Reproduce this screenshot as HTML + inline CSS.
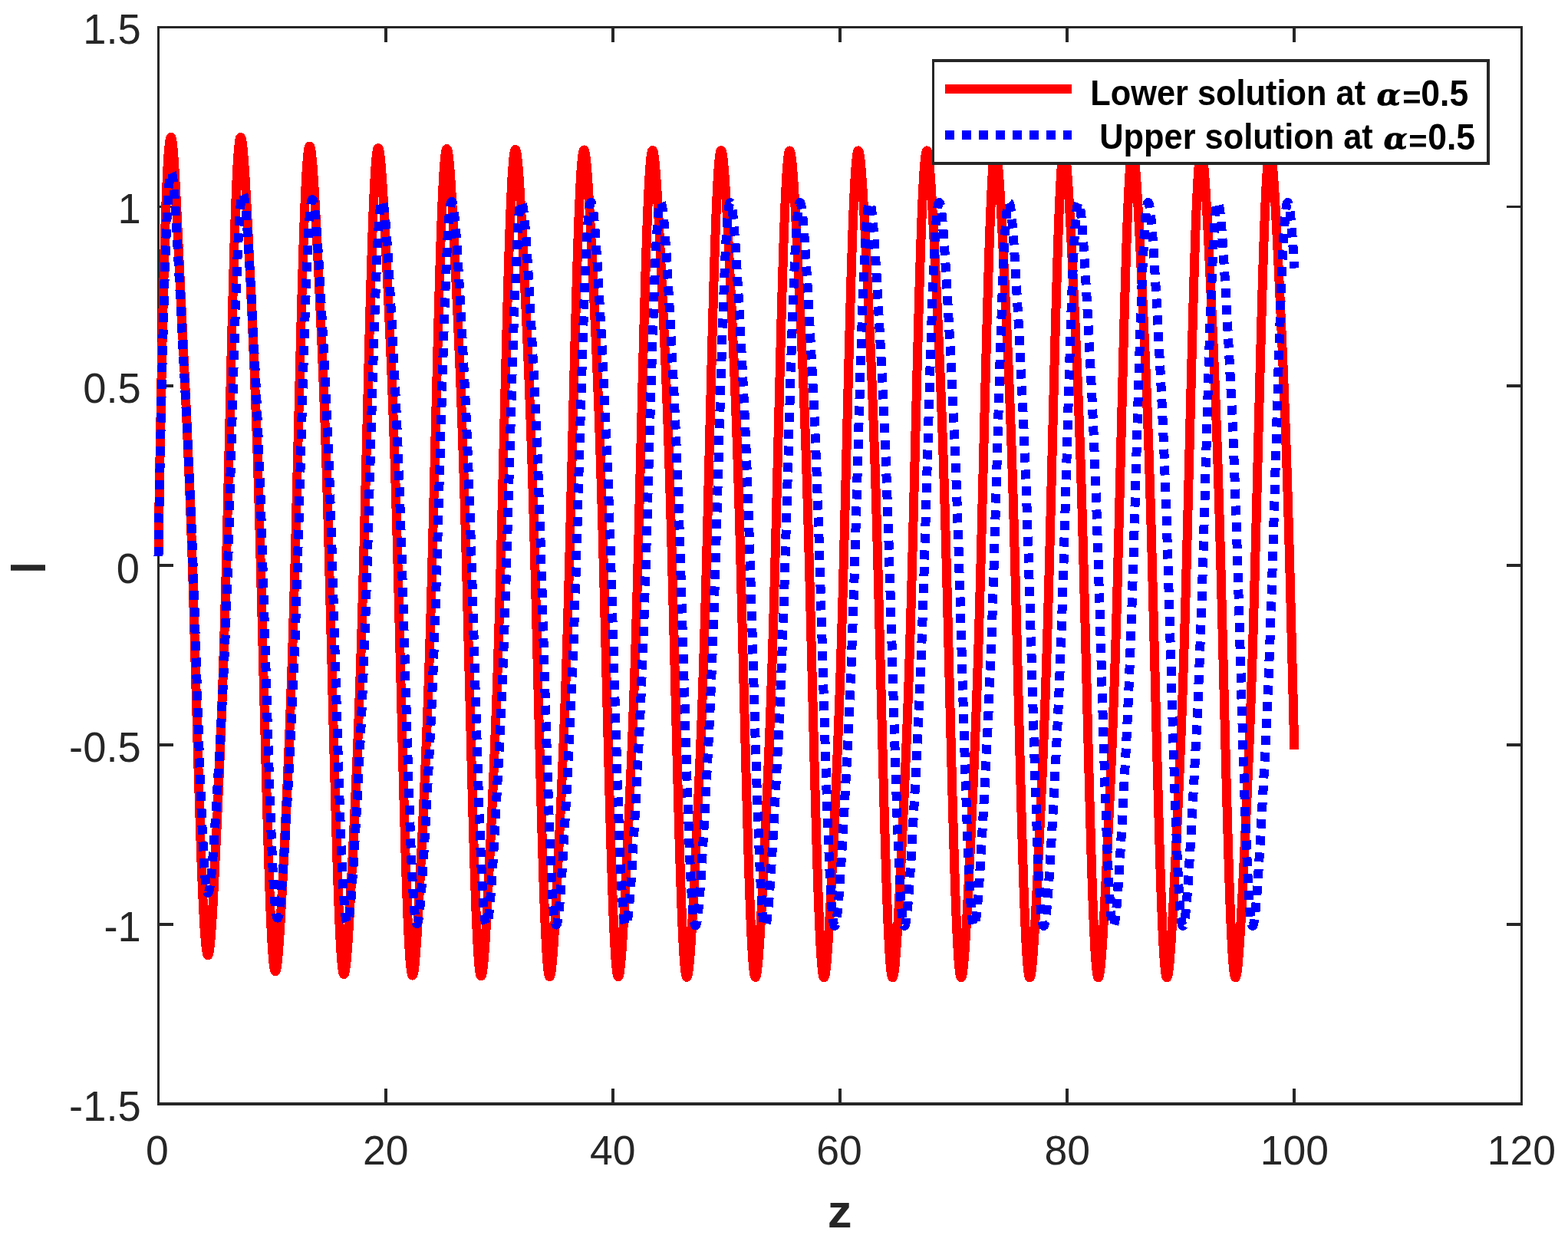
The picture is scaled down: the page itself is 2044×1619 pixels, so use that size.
<!DOCTYPE html>
<html lang="en">
<head>
<meta charset="utf-8">
<title>Lower and upper solutions at alpha = 0.5</title>
<style>
html, body { margin: 0; padding: 0; background: #ffffff; }
body { width: 2044px; height: 1619px; overflow: hidden; }
svg { display: block; }
</style>
</head>
<body>
<svg width="2044" height="1619" viewBox="0 0 2044 1619">
<rect x="0" y="0" width="2044" height="1619" fill="#ffffff"/>
<g shape-rendering="crispEdges">
<rect x="205" y="34" width="1780" height="3" fill="#262626"/>
<rect x="205" y="1437" width="1780" height="4" fill="#262626"/>
<rect x="205" y="34" width="3" height="1407" fill="#262626"/>
<rect x="1982" y="34" width="3" height="1407" fill="#262626"/>
<rect x="501" y="1419" width="4" height="18" fill="#262626"/>
<rect x="501" y="37" width="4" height="18" fill="#262626"/>
<rect x="797" y="1419" width="4" height="18" fill="#262626"/>
<rect x="797" y="37" width="4" height="18" fill="#262626"/>
<rect x="1093" y="1419" width="4" height="18" fill="#262626"/>
<rect x="1093" y="37" width="4" height="18" fill="#262626"/>
<rect x="1389" y="1419" width="4" height="18" fill="#262626"/>
<rect x="1389" y="37" width="4" height="18" fill="#262626"/>
<rect x="1685" y="1419" width="4" height="18" fill="#262626"/>
<rect x="1685" y="37" width="4" height="18" fill="#262626"/>
<rect x="208" y="1203" width="18" height="4" fill="#262626"/>
<rect x="1964" y="1203" width="18" height="4" fill="#262626"/>
<rect x="208" y="969" width="18" height="4" fill="#262626"/>
<rect x="1964" y="969" width="18" height="4" fill="#262626"/>
<rect x="208" y="735" width="18" height="4" fill="#262626"/>
<rect x="1964" y="735" width="18" height="4" fill="#262626"/>
<rect x="208" y="501" width="18" height="4" fill="#262626"/>
<rect x="1964" y="501" width="18" height="4" fill="#262626"/>
<rect x="208" y="268" width="18" height="3" fill="#262626"/>
<rect x="1964" y="268" width="18" height="3" fill="#262626"/>
</g>
<text transform="translate(204.80 1517.80) scale(0.9800 1)" font-family="'Liberation Sans', Arial, Helvetica, sans-serif" font-size="54.60" font-weight="normal" font-style="normal" fill="#262626" text-anchor="middle">0</text>
<text transform="translate(502.67 1517.80) scale(0.9800 1)" font-family="'Liberation Sans', Arial, Helvetica, sans-serif" font-size="54.60" font-weight="normal" font-style="normal" fill="#262626" text-anchor="middle">20</text>
<text transform="translate(798.83 1517.80) scale(0.9800 1)" font-family="'Liberation Sans', Arial, Helvetica, sans-serif" font-size="54.60" font-weight="normal" font-style="normal" fill="#262626" text-anchor="middle">40</text>
<text transform="translate(1094.00 1517.80) scale(0.9800 1)" font-family="'Liberation Sans', Arial, Helvetica, sans-serif" font-size="54.60" font-weight="normal" font-style="normal" fill="#262626" text-anchor="middle">60</text>
<text transform="translate(1391.17 1517.80) scale(0.9800 1)" font-family="'Liberation Sans', Arial, Helvetica, sans-serif" font-size="54.60" font-weight="normal" font-style="normal" fill="#262626" text-anchor="middle">80</text>
<text transform="translate(1687.33 1517.80) scale(0.9800 1)" font-family="'Liberation Sans', Arial, Helvetica, sans-serif" font-size="54.60" font-weight="normal" font-style="normal" fill="#262626" text-anchor="middle">100</text>
<text transform="translate(1983.50 1517.80) scale(0.9800 1)" font-family="'Liberation Sans', Arial, Helvetica, sans-serif" font-size="54.60" font-weight="normal" font-style="normal" fill="#262626" text-anchor="middle">120</text>
<text transform="translate(183.70 1460.80) scale(0.9950 1)" font-family="'Liberation Sans', Arial, Helvetica, sans-serif" font-size="54.60" font-weight="normal" font-style="normal" fill="#262626" text-anchor="end">-1.5</text>
<text transform="translate(183.70 1226.88) scale(0.9950 1)" font-family="'Liberation Sans', Arial, Helvetica, sans-serif" font-size="54.60" font-weight="normal" font-style="normal" fill="#262626" text-anchor="end">-1</text>
<text transform="translate(183.70 992.97) scale(0.9950 1)" font-family="'Liberation Sans', Arial, Helvetica, sans-serif" font-size="54.60" font-weight="normal" font-style="normal" fill="#262626" text-anchor="end">-0.5</text>
<text transform="translate(182.00 759.65) scale(0.9950 1)" font-family="'Liberation Sans', Arial, Helvetica, sans-serif" font-size="54.60" font-weight="normal" font-style="normal" fill="#262626" text-anchor="end">0</text>
<text transform="translate(183.70 525.13) scale(0.9950 1)" font-family="'Liberation Sans', Arial, Helvetica, sans-serif" font-size="54.60" font-weight="normal" font-style="normal" fill="#262626" text-anchor="end">0.5</text>
<text transform="translate(183.70 291.22) scale(0.9950 1)" font-family="'Liberation Sans', Arial, Helvetica, sans-serif" font-size="54.60" font-weight="normal" font-style="normal" fill="#262626" text-anchor="end">1</text>
<text transform="translate(183.70 57.30) scale(0.9950 1)" font-family="'Liberation Sans', Arial, Helvetica, sans-serif" font-size="54.60" font-weight="normal" font-style="normal" fill="#262626" text-anchor="end">1.5</text>
<text transform="translate(1094.60 1599.90) scale(1.0400 1)" font-family="'Liberation Sans', Arial, Helvetica, sans-serif" font-size="61.10" font-weight="bold" font-style="normal" fill="#262626" text-anchor="middle">z</text>
<text transform="translate(59.00 740.00) rotate(-90) scale(0.8100 1)" font-family="'Liberation Sans', Arial, Helvetica, sans-serif" font-size="64.30" font-weight="bold" font-style="normal" fill="#262626" text-anchor="middle">I</text>
<g fill="none" stroke-linejoin="round" stroke-linecap="butt" shape-rendering="crispEdges">
<path stroke="#ff0000" stroke-width="12.00" d="M206.50 725.09 L206.75 703.65 L207.00 686.29 L207.25 670.14 L207.50 654.71 L207.75 639.79 L208.00 625.27 L208.25 611.08 L208.50 597.17 L208.75 583.52 L209.00 570.10 L209.25 556.89 L209.50 543.89 L209.75 531.09 L210.00 518.48 L210.25 506.07 L210.50 493.84 L210.75 481.80 L211.00 469.95 L211.25 458.29 L211.50 446.82 L211.75 435.54 L212.00 424.47 L212.25 413.60 L212.50 402.93 L212.75 392.47 L213.00 382.22 L213.25 372.19 L213.50 362.37 L213.75 352.78 L214.00 343.42 L214.25 334.30 L214.50 325.40 L214.75 316.75 L215.00 308.34 L215.25 300.18 L215.50 292.27 L215.75 284.62 L216.00 277.22 L216.25 270.08 L216.50 263.21 L216.75 256.60 L217.00 250.25 L217.25 244.18 L217.50 238.38 L217.75 232.85 L218.00 227.59 L218.25 222.61 L218.50 217.90 L218.75 213.47 L219.00 209.31 L219.25 205.43 L219.50 201.82 L219.75 198.49 L220.00 195.42 L220.25 192.63 L220.50 190.10 L220.75 187.84 L221.00 185.84 L221.25 184.10 L221.50 182.62 L221.75 181.39 L222.00 180.41 L222.25 179.68 L222.50 179.19 L222.75 178.93 L223.00 178.91 L223.25 179.17 L223.50 179.70 L223.75 180.51 L224.00 181.59 L224.25 182.93 L224.50 184.52 L224.75 186.35 L225.00 188.43 L225.25 190.73 L225.50 193.25 L225.75 195.99 L226.00 198.93 L226.25 202.06 L226.50 205.37 L226.75 208.87 L227.00 212.52 L227.25 216.33 L227.50 220.29 L227.75 224.39 L228.00 228.61 L228.25 232.95 L228.50 237.40 L228.75 241.96 L229.00 246.60 L229.25 251.33 L229.50 256.14 L229.75 261.02 L230.00 265.96 L230.25 270.96 L230.50 276.00 L230.75 281.09 L231.00 286.22 L231.25 291.38 L231.50 296.56 L231.75 301.77 L232.00 307.00 L232.25 312.24 L232.50 317.49 L232.75 322.75 L233.00 328.02 L233.25 333.28 L233.50 338.55 L233.75 343.82 L234.00 349.08 L234.25 354.34 L234.50 359.60 L234.75 364.85 L235.00 370.09 L235.25 375.33 L235.50 380.56 L235.75 385.78 L236.00 391.00 L236.25 396.21 L236.50 401.42 L236.75 406.62 L237.00 411.82 L237.25 417.02 L237.50 422.21 L237.75 427.41 L238.00 432.61 L238.25 437.81 L238.50 443.01 L238.75 448.22 L239.00 453.44 L239.25 458.66 L239.50 463.90 L239.75 469.15 L240.00 474.41 L240.25 479.68 L240.50 484.98 L240.75 490.29 L241.00 495.62 L241.25 500.97 L241.50 506.34 L241.75 511.74 L242.00 517.16 L242.25 522.62 L242.50 528.10 L242.75 533.61 L243.00 539.15 L243.25 544.72 L243.50 550.33 L243.75 555.98 L244.00 561.66 L244.25 567.38 L244.50 573.14 L244.75 578.94 L245.00 584.78 L245.25 590.67 L245.50 596.60 L245.75 602.57 L246.00 608.59 L246.25 614.66 L246.50 620.78 L246.75 626.94 L247.00 633.16 L247.25 639.43 L247.50 645.74 L247.75 652.12 L248.00 658.54 L248.25 665.02 L248.50 671.56 L248.75 678.15 L249.00 684.80 L249.25 691.51 L249.50 698.27 L249.75 705.09 L250.00 711.98 L250.25 718.92 L250.50 725.92 L250.75 732.98 L251.00 740.63 L251.25 749.12 L251.50 757.64 L251.75 766.21 L252.00 774.82 L252.25 783.46 L252.50 792.14 L252.75 800.85 L253.00 809.58 L253.25 818.34 L253.50 827.11 L253.75 835.91 L254.00 844.72 L254.25 853.54 L254.50 862.37 L254.75 871.20 L255.00 880.03 L255.25 888.86 L255.50 897.68 L255.75 906.49 L256.00 915.28 L256.25 924.05 L256.50 932.80 L256.75 941.52 L257.00 950.21 L257.25 958.86 L257.50 967.47 L257.75 976.03 L258.00 984.55 L258.25 993.00 L258.50 1001.40 L258.75 1009.73 L259.00 1017.99 L259.25 1026.18 L259.50 1034.28 L259.75 1042.31 L260.00 1050.24 L260.25 1058.07 L260.50 1065.81 L260.75 1073.44 L261.00 1080.96 L261.25 1088.37 L261.50 1095.66 L261.75 1102.82 L262.00 1109.85 L262.25 1116.75 L262.50 1123.51 L262.75 1130.12 L263.00 1136.59 L263.25 1142.90 L263.50 1149.05 L263.75 1155.04 L264.00 1160.87 L264.25 1166.52 L264.50 1172.01 L264.75 1177.31 L265.00 1182.43 L265.25 1187.37 L265.50 1192.11 L265.75 1196.67 L266.00 1201.03 L266.25 1205.20 L266.50 1209.17 L266.75 1212.93 L267.00 1216.50 L267.25 1219.85 L267.50 1223.00 L267.75 1225.95 L268.00 1228.68 L268.25 1231.21 L268.50 1233.52 L268.75 1235.63 L269.00 1237.53 L269.25 1239.21 L269.50 1240.69 L269.75 1241.96 L270.00 1243.03 L270.25 1243.89 L270.50 1244.54 L270.75 1245.00 L271.00 1245.25 L271.25 1245.31 L271.50 1245.14 L271.75 1244.71 L272.00 1244.05 L272.25 1243.15 L272.50 1242.02 L272.75 1240.66 L273.00 1239.08 L273.25 1237.28 L273.50 1235.28 L273.75 1233.08 L274.00 1230.68 L274.25 1228.10 L274.50 1225.33 L274.75 1222.39 L275.00 1219.29 L275.25 1216.02 L275.50 1212.60 L275.75 1209.04 L276.00 1205.34 L276.25 1201.51 L276.50 1197.56 L276.75 1193.49 L277.00 1189.31 L277.25 1185.03 L277.50 1180.65 L277.75 1176.19 L278.00 1171.64 L278.25 1167.01 L278.50 1162.30 L278.75 1157.53 L279.00 1152.70 L279.25 1147.81 L279.50 1142.87 L279.75 1137.88 L280.00 1132.84 L280.25 1127.76 L280.50 1122.65 L280.75 1117.49 L281.00 1112.31 L281.25 1107.10 L281.50 1101.85 L281.75 1096.58 L282.00 1091.28 L282.25 1085.96 L282.50 1080.61 L282.75 1075.24 L283.00 1069.84 L283.25 1064.42 L283.50 1058.97 L283.75 1053.50 L284.00 1048.00 L284.25 1042.47 L284.50 1036.90 L284.75 1031.31 L285.00 1025.68 L285.25 1020.01 L285.50 1014.29 L285.75 1008.54 L286.00 1002.74 L286.25 996.89 L286.50 990.98 L286.75 985.02 L287.00 979.00 L287.25 972.91 L287.50 966.76 L287.75 960.53 L288.00 954.22 L288.25 947.84 L288.50 941.37 L288.75 934.82 L289.00 928.17 L289.25 921.43 L289.50 914.59 L289.75 907.64 L290.00 900.59 L290.25 893.42 L290.50 886.15 L290.75 878.75 L291.00 871.24 L291.25 863.60 L291.50 855.84 L291.75 847.95 L292.00 839.94 L292.25 831.79 L292.50 823.51 L292.75 815.09 L293.00 806.54 L293.25 797.86 L293.50 789.05 L293.75 780.10 L294.00 771.01 L294.25 761.80 L294.50 752.46 L294.75 742.99 L295.00 733.24 L295.25 723.16 L295.50 713.04 L295.75 702.86 L296.00 692.63 L296.25 682.36 L296.50 672.04 L296.75 661.70 L297.00 651.31 L297.25 640.90 L297.50 630.47 L297.75 620.02 L298.00 609.55 L298.25 599.08 L298.50 588.60 L298.75 578.12 L299.00 567.64 L299.25 557.18 L299.50 546.74 L299.75 536.31 L300.00 525.92 L300.25 515.56 L300.50 505.24 L300.75 494.96 L301.00 484.74 L301.25 474.58 L301.50 464.48 L301.75 454.46 L302.00 444.51 L302.25 434.65 L302.50 424.88 L302.75 415.21 L303.00 405.64 L303.25 396.19 L303.50 386.86 L303.75 377.65 L304.00 368.58 L304.25 359.64 L304.50 350.86 L304.75 342.23 L305.00 333.76 L305.25 325.45 L305.50 317.32 L305.75 309.38 L306.00 301.62 L306.25 294.05 L306.50 286.68 L306.75 279.52 L307.00 272.57 L307.25 265.84 L307.50 259.33 L307.75 253.05 L308.00 247.01 L308.25 241.20 L308.50 235.63 L308.75 230.31 L309.00 225.24 L309.25 220.42 L309.50 215.86 L309.75 211.56 L310.00 207.53 L310.25 203.75 L310.50 200.24 L310.75 197.00 L311.00 194.03 L311.25 191.33 L311.50 188.89 L311.75 186.72 L312.00 184.83 L312.25 183.19 L312.50 181.83 L312.75 180.72 L313.00 179.88 L313.25 179.30 L313.50 178.97 L313.75 178.90 L314.00 179.05 L314.25 179.44 L314.50 180.04 L314.75 180.87 L315.00 181.90 L315.25 183.15 L315.50 184.59 L315.75 186.24 L316.00 188.08 L316.25 190.10 L316.50 192.31 L316.75 194.70 L317.00 197.26 L317.25 199.98 L317.50 202.87 L317.75 205.90 L318.00 209.09 L318.25 212.41 L318.50 215.88 L318.75 219.47 L319.00 223.18 L319.25 227.02 L319.50 230.97 L319.75 235.02 L320.00 239.17 L320.25 243.42 L320.50 247.76 L320.75 252.18 L321.00 256.68 L321.25 261.26 L321.50 265.91 L321.75 270.62 L322.00 275.39 L322.25 280.22 L322.50 285.10 L322.75 290.03 L323.00 295.01 L323.25 300.03 L323.50 305.08 L323.75 310.18 L324.00 315.30 L324.25 320.46 L324.50 325.65 L324.75 330.87 L325.00 336.11 L325.25 341.38 L325.50 346.67 L325.75 351.98 L326.00 357.32 L326.25 362.68 L326.50 368.06 L326.75 373.46 L327.00 378.89 L327.25 384.34 L327.50 389.82 L327.75 395.32 L328.00 400.85 L328.25 406.40 L328.50 411.99 L328.75 417.60 L329.00 423.25 L329.25 428.94 L329.50 434.66 L329.75 440.43 L330.00 446.24 L330.25 452.09 L330.50 458.00 L330.75 463.95 L331.00 469.96 L331.25 476.03 L331.50 482.16 L331.75 488.35 L332.00 494.61 L332.25 500.94 L332.50 507.34 L332.75 513.82 L333.00 520.38 L333.25 527.03 L333.50 533.76 L333.75 540.58 L334.00 547.50 L334.25 554.51 L334.50 561.62 L334.75 568.83 L335.00 576.15 L335.25 583.58 L335.50 591.11 L335.75 598.76 L336.00 606.52 L336.25 614.39 L336.50 622.38 L336.75 630.50 L337.00 638.73 L337.25 647.08 L337.50 655.55 L337.75 664.15 L338.00 672.87 L338.25 681.71 L338.50 690.67 L338.75 699.75 L339.00 708.95 L339.25 718.27 L339.50 727.70 L339.75 737.25 L340.00 746.57 L340.25 755.95 L340.50 765.37 L340.75 774.84 L341.00 784.35 L341.25 793.90 L341.50 803.49 L341.75 813.10 L342.00 822.75 L342.25 832.41 L342.50 842.10 L342.75 851.80 L343.00 861.52 L343.25 871.24 L343.50 880.96 L343.75 890.69 L344.00 900.40 L344.25 910.11 L344.50 919.79 L344.75 929.46 L345.00 939.10 L345.25 948.71 L345.50 958.28 L345.75 967.80 L346.00 977.28 L346.25 986.71 L346.50 996.07 L346.75 1005.37 L347.00 1014.60 L347.25 1023.75 L347.50 1032.82 L347.75 1041.80 L348.00 1050.68 L348.25 1059.46 L348.50 1068.14 L348.75 1076.69 L349.00 1085.13 L349.25 1093.45 L349.50 1101.63 L349.75 1109.67 L350.00 1117.57 L350.25 1125.31 L350.50 1132.90 L350.75 1140.33 L351.00 1147.59 L351.25 1154.67 L351.50 1161.58 L351.75 1168.29 L352.00 1174.82 L352.25 1181.16 L352.50 1187.29 L352.75 1193.22 L353.00 1198.94 L353.25 1204.44 L353.50 1209.73 L353.75 1214.79 L354.00 1219.63 L354.25 1224.24 L354.50 1228.62 L354.75 1232.77 L355.00 1236.68 L355.25 1240.35 L355.50 1243.78 L355.75 1246.96 L356.00 1249.91 L356.25 1252.61 L356.50 1255.07 L356.75 1257.28 L357.00 1259.25 L357.25 1260.97 L357.50 1262.45 L357.75 1263.70 L358.00 1264.70 L358.25 1265.47 L358.50 1266.00 L358.75 1266.30 L359.00 1266.37 L359.25 1266.21 L359.50 1265.83 L359.75 1265.23 L360.00 1264.42 L360.25 1263.40 L360.50 1262.17 L360.75 1260.74 L361.00 1259.12 L361.25 1257.31 L361.50 1255.31 L361.75 1253.13 L362.00 1250.78 L362.25 1248.26 L362.50 1245.58 L362.75 1242.74 L363.00 1239.75 L363.25 1236.62 L363.50 1233.34 L363.75 1229.94 L364.00 1226.41 L364.25 1222.76 L364.50 1219.00 L364.75 1215.13 L365.00 1211.16 L365.25 1207.09 L365.50 1202.92 L365.75 1198.68 L366.00 1194.35 L366.25 1189.94 L366.50 1185.47 L366.75 1180.93 L367.00 1176.33 L367.25 1171.67 L367.50 1166.96 L367.75 1162.19 L368.00 1157.39 L368.25 1152.54 L368.50 1147.65 L368.75 1142.72 L369.00 1137.76 L369.25 1132.77 L369.50 1127.75 L369.75 1122.71 L370.00 1117.63 L370.25 1112.53 L370.50 1107.41 L370.75 1102.27 L371.00 1097.10 L371.25 1091.91 L371.50 1086.70 L371.75 1081.46 L372.00 1076.21 L372.25 1070.93 L372.50 1065.62 L372.75 1060.29 L373.00 1054.94 L373.25 1049.55 L373.50 1044.14 L373.75 1038.69 L374.00 1033.21 L374.25 1027.70 L374.50 1022.14 L374.75 1016.54 L375.00 1010.90 L375.25 1005.22 L375.50 999.48 L375.75 993.70 L376.00 987.85 L376.25 981.95 L376.50 975.99 L376.75 969.96 L377.00 963.86 L377.25 957.69 L377.50 951.45 L377.75 945.13 L378.00 938.72 L378.25 932.24 L378.50 925.66 L378.75 918.99 L379.00 912.23 L379.25 905.37 L379.50 898.41 L379.75 891.35 L380.00 884.18 L380.25 876.91 L380.50 869.52 L380.75 862.03 L381.00 854.41 L381.25 846.69 L381.50 838.84 L381.75 830.88 L382.00 822.79 L382.25 814.59 L382.50 806.26 L382.75 797.82 L383.00 789.25 L383.25 780.57 L383.50 771.76 L383.75 762.84 L384.00 753.80 L384.25 744.65 L384.50 735.33 L384.75 725.68 L385.00 715.99 L385.25 706.24 L385.50 696.45 L385.75 686.62 L386.00 676.74 L386.25 666.83 L386.50 656.89 L386.75 646.92 L387.00 636.93 L387.25 626.92 L387.50 616.89 L387.75 606.85 L388.00 596.81 L388.25 586.76 L388.50 576.72 L388.75 566.68 L389.00 556.66 L389.25 546.66 L389.50 536.67 L389.75 526.72 L390.00 516.80 L390.25 506.92 L390.50 497.09 L390.75 487.31 L391.00 477.58 L391.25 467.92 L391.50 458.32 L391.75 448.81 L392.00 439.37 L392.25 430.02 L392.50 420.76 L392.75 411.60 L393.00 402.55 L393.25 393.62 L393.50 384.80 L393.75 376.10 L394.00 367.54 L394.25 359.12 L394.50 350.84 L394.75 342.71 L395.00 334.74 L395.25 326.93 L395.50 319.29 L395.75 311.83 L396.00 304.55 L396.25 297.45 L396.50 290.55 L396.75 283.84 L397.00 277.34 L397.25 271.05 L397.50 264.96 L397.75 259.10 L398.00 253.46 L398.25 248.04 L398.50 242.85 L398.75 237.90 L399.00 233.18 L399.25 228.71 L399.50 224.47 L399.75 220.49 L400.00 216.74 L400.25 213.25 L400.50 210.01 L400.75 207.02 L401.00 204.28 L401.25 201.79 L401.50 199.55 L401.75 197.57 L402.00 195.84 L402.25 194.35 L402.50 193.12 L402.75 192.13 L403.00 191.39 L403.25 190.89 L403.50 190.63 L403.75 190.60 L404.00 190.81 L404.25 191.25 L404.50 191.91 L404.75 192.79 L405.00 193.89 L405.25 195.20 L405.50 196.72 L405.75 198.44 L406.00 200.35 L406.25 202.45 L406.50 204.74 L406.75 207.20 L407.00 209.84 L407.25 212.64 L407.50 215.61 L407.75 218.73 L408.00 221.99 L408.25 225.40 L408.50 228.94 L408.75 232.61 L409.00 236.41 L409.25 240.32 L409.50 244.34 L409.75 248.46 L410.00 252.69 L410.25 257.01 L410.50 261.41 L410.75 265.90 L411.00 270.46 L411.25 275.10 L411.50 279.81 L411.75 284.57 L412.00 289.40 L412.25 294.28 L412.50 299.21 L412.75 304.18 L413.00 309.20 L413.25 314.26 L413.50 319.35 L413.75 324.48 L414.00 329.65 L414.25 334.84 L414.50 340.06 L414.75 345.31 L415.00 350.58 L415.25 355.88 L415.50 361.20 L415.75 366.54 L416.00 371.91 L416.25 377.30 L416.50 382.71 L416.75 388.14 L417.00 393.60 L417.25 399.09 L417.50 404.60 L417.75 410.14 L418.00 415.71 L418.25 421.31 L418.50 426.94 L418.75 432.61 L419.00 438.32 L419.25 444.07 L419.50 449.86 L419.75 455.69 L420.00 461.58 L420.25 467.51 L420.50 473.50 L420.75 479.55 L421.00 485.66 L421.25 491.84 L421.50 498.08 L421.75 504.39 L422.00 510.78 L422.25 517.25 L422.50 523.80 L422.75 530.43 L423.00 537.15 L423.25 543.96 L423.50 550.87 L423.75 557.88 L424.00 564.98 L424.25 572.19 L424.50 579.51 L424.75 586.94 L425.00 594.48 L425.25 602.13 L425.50 609.90 L425.75 617.79 L426.00 625.80 L426.25 633.93 L426.50 642.18 L426.75 650.56 L427.00 659.06 L427.25 667.68 L427.50 676.43 L427.75 685.31 L428.00 694.30 L428.25 703.43 L428.50 712.67 L428.75 722.03 L429.00 731.51 L429.25 741.00 L429.50 750.41 L429.75 759.87 L430.00 769.38 L430.25 778.93 L430.50 788.53 L430.75 798.16 L431.00 807.82 L431.25 817.52 L431.50 827.24 L431.75 836.99 L432.00 846.75 L432.25 856.53 L432.50 866.31 L432.75 876.10 L433.00 885.90 L433.25 895.69 L433.50 905.47 L433.75 915.23 L434.00 924.98 L434.25 934.71 L434.50 944.40 L434.75 954.06 L435.00 963.68 L435.25 973.26 L435.50 982.78 L435.75 992.25 L436.00 1001.66 L436.25 1011.00 L436.50 1020.26 L436.75 1029.44 L437.00 1038.54 L437.25 1047.54 L437.50 1056.45 L437.75 1065.25 L438.00 1073.94 L438.25 1082.51 L438.50 1090.96 L438.75 1099.28 L439.00 1107.46 L439.25 1115.50 L439.50 1123.39 L439.75 1131.13 L440.00 1138.71 L440.25 1146.12 L440.50 1153.36 L440.75 1160.43 L441.00 1167.31 L441.25 1174.00 L441.50 1180.49 L441.75 1186.79 L442.00 1192.89 L442.25 1198.77 L442.50 1204.45 L442.75 1209.90 L443.00 1215.14 L443.25 1220.15 L443.50 1224.93 L443.75 1229.48 L444.00 1233.80 L444.25 1237.88 L444.50 1241.72 L444.75 1245.32 L445.00 1248.67 L445.25 1251.78 L445.50 1254.65 L445.75 1257.27 L446.00 1259.65 L446.25 1261.78 L446.50 1263.66 L446.75 1265.30 L447.00 1266.70 L447.25 1267.85 L447.50 1268.77 L447.75 1269.44 L448.00 1269.89 L448.25 1270.09 L448.50 1270.07 L448.75 1269.82 L449.00 1269.35 L449.25 1268.67 L449.50 1267.76 L449.75 1266.65 L450.00 1265.33 L450.25 1263.82 L450.50 1262.10 L450.75 1260.20 L451.00 1258.12 L451.25 1255.85 L451.50 1253.41 L451.75 1250.81 L452.00 1248.05 L452.25 1245.13 L452.50 1242.06 L452.75 1238.85 L453.00 1235.50 L453.25 1232.02 L453.50 1228.42 L453.75 1224.70 L454.00 1220.86 L454.25 1216.92 L454.50 1212.88 L454.75 1208.74 L455.00 1204.52 L455.25 1200.21 L455.50 1195.82 L455.75 1191.35 L456.00 1186.82 L456.25 1182.22 L456.50 1177.56 L456.75 1172.85 L457.00 1168.08 L457.25 1163.27 L457.50 1158.41 L457.75 1153.51 L458.00 1148.57 L458.25 1143.60 L458.50 1138.59 L458.75 1133.55 L459.00 1128.49 L459.25 1123.39 L459.50 1118.27 L459.75 1113.13 L460.00 1107.96 L460.25 1102.77 L460.50 1097.56 L460.75 1092.32 L461.00 1087.06 L461.25 1081.78 L461.50 1076.48 L461.75 1071.15 L462.00 1065.80 L462.25 1060.42 L462.50 1055.02 L462.75 1049.58 L463.00 1044.12 L463.25 1038.62 L463.50 1033.09 L463.75 1027.52 L464.00 1021.91 L464.25 1016.25 L464.50 1010.56 L464.75 1004.81 L465.00 999.01 L465.25 993.16 L465.50 987.25 L465.75 981.29 L466.00 975.26 L466.25 969.16 L466.50 962.99 L466.75 956.75 L467.00 950.43 L467.25 944.03 L467.50 937.55 L467.75 930.98 L468.00 924.32 L468.25 917.57 L468.50 910.72 L468.75 903.77 L469.00 896.72 L469.25 889.57 L469.50 882.31 L469.75 874.94 L470.00 867.45 L470.25 859.86 L470.50 852.14 L470.75 844.31 L471.00 836.36 L471.25 828.30 L471.50 820.11 L471.75 811.80 L472.00 803.37 L472.25 794.81 L472.50 786.14 L472.75 777.34 L473.00 768.43 L473.25 759.40 L473.50 750.25 L473.75 740.99 L474.00 731.50 L474.25 721.88 L474.50 712.20 L474.75 702.48 L475.00 692.71 L475.25 682.90 L475.50 673.06 L475.75 663.18 L476.00 653.27 L476.25 643.33 L476.50 633.37 L476.75 623.40 L477.00 613.41 L477.25 603.41 L477.50 593.41 L477.75 583.40 L478.00 573.41 L478.25 563.42 L478.50 553.45 L478.75 543.49 L479.00 533.56 L479.25 523.67 L479.50 513.81 L479.75 503.99 L480.00 494.21 L480.25 484.50 L480.50 474.84 L480.75 465.24 L481.00 455.72 L481.25 446.27 L481.50 436.91 L481.75 427.63 L482.00 418.46 L482.25 409.38 L482.50 400.41 L482.75 391.56 L483.00 382.83 L483.25 374.22 L483.50 365.75 L483.75 357.42 L484.00 349.24 L484.25 341.21 L484.50 333.33 L484.75 325.62 L485.00 318.09 L485.25 310.73 L485.50 303.55 L485.75 296.56 L486.00 289.76 L486.25 283.17 L486.50 276.78 L486.75 270.59 L487.00 264.62 L487.25 258.87 L487.50 253.34 L487.75 248.04 L488.00 242.97 L488.25 238.13 L488.50 233.53 L488.75 229.17 L489.00 225.05 L489.25 221.18 L489.50 217.55 L489.75 214.17 L490.00 211.04 L490.25 208.16 L490.50 205.54 L490.75 203.16 L491.00 201.03 L491.25 199.16 L491.50 197.53 L491.75 196.16 L492.00 195.03 L492.25 194.14 L492.50 193.50 L492.75 193.10 L493.00 192.93 L493.25 193.00 L493.50 193.30 L493.75 193.82 L494.00 194.57 L494.25 195.54 L494.50 196.71 L494.75 198.10 L495.00 199.69 L495.25 201.48 L495.50 203.46 L495.75 205.63 L496.00 207.98 L496.25 210.50 L496.50 213.19 L496.75 216.05 L497.00 219.06 L497.25 222.23 L497.50 225.54 L497.75 228.98 L498.00 232.56 L498.25 236.27 L498.50 240.09 L498.75 244.03 L499.00 248.08 L499.25 252.23 L499.50 256.47 L499.75 260.81 L500.00 265.23 L500.25 269.73 L500.50 274.30 L500.75 278.94 L501.00 283.65 L501.25 288.42 L501.50 293.25 L501.75 298.13 L502.00 303.06 L502.25 308.03 L502.50 313.04 L502.75 318.09 L503.00 323.18 L503.25 328.30 L503.50 333.46 L503.75 338.64 L504.00 343.85 L504.25 349.08 L504.50 354.34 L504.75 359.62 L505.00 364.93 L505.25 370.26 L505.50 375.61 L505.75 380.99 L506.00 386.39 L506.25 391.81 L506.50 397.25 L506.75 402.73 L507.00 408.23 L507.25 413.75 L507.50 419.31 L507.75 424.90 L508.00 430.52 L508.25 436.18 L508.50 441.88 L508.75 447.62 L509.00 453.41 L509.25 459.24 L509.50 465.11 L509.75 471.05 L510.00 477.03 L510.25 483.08 L510.50 489.19 L510.75 495.37 L511.00 501.61 L511.25 507.92 L511.50 514.32 L511.75 520.79 L512.00 527.34 L512.25 533.98 L512.50 540.71 L512.75 547.53 L513.00 554.45 L513.25 561.46 L513.50 568.58 L513.75 575.80 L514.00 583.13 L514.25 590.57 L514.50 598.12 L514.75 605.79 L515.00 613.57 L515.25 621.48 L515.50 629.50 L515.75 637.64 L516.00 645.91 L516.25 654.30 L516.50 662.81 L516.75 671.45 L517.00 680.21 L517.25 689.10 L517.50 698.11 L517.75 707.24 L518.00 716.49 L518.25 725.86 L518.50 735.34 L518.75 744.78 L519.00 754.23 L519.25 763.74 L519.50 773.29 L519.75 782.89 L520.00 792.52 L520.25 802.19 L520.50 811.90 L520.75 821.63 L521.00 831.38 L521.25 841.16 L521.50 850.96 L521.75 860.76 L522.00 870.58 L522.25 880.40 L522.50 890.22 L522.75 900.03 L523.00 909.83 L523.25 919.61 L523.50 929.38 L523.75 939.12 L524.00 948.83 L524.25 958.50 L524.50 968.13 L524.75 977.71 L525.00 987.23 L525.25 996.70 L525.50 1006.11 L525.75 1015.44 L526.00 1024.70 L526.25 1033.87 L526.50 1042.95 L526.75 1051.94 L527.00 1060.83 L527.25 1069.61 L527.50 1078.28 L527.75 1086.82 L528.00 1095.24 L528.25 1103.53 L528.50 1111.68 L528.75 1119.68 L529.00 1127.53 L529.25 1135.23 L529.50 1142.76 L529.75 1150.13 L530.00 1157.31 L530.25 1164.32 L530.50 1171.15 L530.75 1177.78 L531.00 1184.21 L531.25 1190.45 L531.50 1196.47 L531.75 1202.29 L532.00 1207.89 L532.25 1213.27 L532.50 1218.43 L532.75 1223.37 L533.00 1228.07 L533.25 1232.54 L533.50 1236.77 L533.75 1240.76 L534.00 1244.52 L534.25 1248.03 L534.50 1251.30 L534.75 1254.32 L535.00 1257.10 L535.25 1259.63 L535.50 1261.91 L535.75 1263.95 L536.00 1265.74 L536.25 1267.28 L536.50 1268.59 L536.75 1269.65 L537.00 1270.47 L537.25 1271.05 L537.50 1271.40 L537.75 1271.52 L538.00 1271.40 L538.25 1271.07 L538.50 1270.51 L538.75 1269.73 L539.00 1268.74 L539.25 1267.54 L539.50 1266.14 L539.75 1264.54 L540.00 1262.75 L540.25 1260.76 L540.50 1258.60 L540.75 1256.26 L541.00 1253.75 L541.25 1251.07 L541.50 1248.24 L541.75 1245.25 L542.00 1242.12 L542.25 1238.84 L542.50 1235.43 L542.75 1231.89 L543.00 1228.23 L543.25 1224.46 L543.50 1220.57 L543.75 1216.58 L544.00 1212.48 L544.25 1208.30 L544.50 1204.03 L544.75 1199.67 L545.00 1195.24 L545.25 1190.74 L545.50 1186.17 L545.75 1181.53 L546.00 1176.84 L546.25 1172.09 L546.50 1167.29 L546.75 1162.45 L547.00 1157.56 L547.25 1152.63 L547.50 1147.66 L547.75 1142.66 L548.00 1137.63 L548.25 1132.57 L548.50 1127.48 L548.75 1122.36 L549.00 1117.22 L549.25 1112.05 L549.50 1106.86 L549.75 1101.64 L550.00 1096.41 L550.25 1091.15 L550.50 1085.87 L550.75 1080.57 L551.00 1075.24 L551.25 1069.89 L551.50 1064.51 L551.75 1059.11 L552.00 1053.68 L552.25 1048.22 L552.50 1042.73 L552.75 1037.20 L553.00 1031.64 L553.25 1026.04 L553.50 1020.39 L553.75 1014.71 L554.00 1008.98 L554.25 1003.20 L554.50 997.36 L554.75 991.47 L555.00 985.53 L555.25 979.52 L555.50 973.44 L555.75 967.30 L556.00 961.09 L556.25 954.80 L556.50 948.43 L556.75 941.98 L557.00 935.45 L557.25 928.83 L557.50 922.12 L557.75 915.31 L558.00 908.40 L558.25 901.40 L558.50 894.29 L558.75 887.07 L559.00 879.75 L559.25 872.31 L559.50 864.76 L559.75 857.10 L560.00 849.32 L560.25 841.42 L560.50 833.40 L560.75 825.27 L561.00 817.01 L561.25 808.63 L561.50 800.12 L561.75 791.50 L562.00 782.75 L562.25 773.89 L562.50 764.90 L562.75 755.80 L563.00 746.58 L563.25 737.25 L563.50 727.68 L563.75 718.06 L564.00 708.38 L564.25 698.66 L564.50 688.90 L564.75 679.10 L565.00 669.26 L565.25 659.39 L565.50 649.49 L565.75 639.56 L566.00 629.62 L566.25 619.66 L566.50 609.69 L566.75 599.71 L567.00 589.72 L567.25 579.74 L567.50 569.77 L567.75 559.81 L568.00 549.86 L568.25 539.94 L568.50 530.05 L568.75 520.19 L569.00 510.36 L569.25 500.58 L569.50 490.85 L569.75 481.18 L570.00 471.56 L570.25 462.02 L570.50 452.54 L570.75 443.15 L571.00 433.84 L571.25 424.62 L571.50 415.51 L571.75 406.49 L572.00 397.59 L572.25 388.80 L572.50 380.14 L572.75 371.60 L573.00 363.21 L573.25 354.95 L573.50 346.85 L573.75 338.89 L574.00 331.10 L574.25 323.48 L574.50 316.03 L574.75 308.76 L575.00 301.67 L575.25 294.77 L575.50 288.07 L575.75 281.57 L576.00 275.27 L576.25 269.19 L576.50 263.32 L576.75 257.67 L577.00 252.24 L577.25 247.04 L577.50 242.07 L577.75 237.34 L578.00 232.84 L578.25 228.59 L578.50 224.58 L578.75 220.81 L579.00 217.29 L579.25 214.02 L579.50 210.99 L579.75 208.22 L580.00 205.70 L580.25 203.43 L580.50 201.41 L580.75 199.64 L581.00 198.11 L581.25 196.84 L581.50 195.81 L581.75 195.02 L582.00 194.48 L582.25 194.17 L582.50 194.10 L582.75 194.26 L583.00 194.65 L583.25 195.26 L583.50 196.10 L583.75 197.14 L584.00 198.40 L584.25 199.87 L584.50 201.54 L584.75 203.40 L585.00 205.45 L585.25 207.69 L585.50 210.10 L585.75 212.69 L586.00 215.44 L586.25 218.36 L586.50 221.42 L586.75 224.64 L587.00 228.00 L587.25 231.49 L587.50 235.11 L587.75 238.86 L588.00 242.72 L588.25 246.69 L588.50 250.77 L588.75 254.95 L589.00 259.22 L589.25 263.58 L589.50 268.03 L589.75 272.55 L590.00 277.14 L590.25 281.80 L590.50 286.53 L590.75 291.31 L591.00 296.15 L591.25 301.03 L591.50 305.97 L591.75 310.95 L592.00 315.97 L592.25 321.02 L592.50 326.11 L592.75 331.24 L593.00 336.39 L593.25 341.57 L593.50 346.78 L593.75 352.01 L594.00 357.27 L594.25 362.55 L594.50 367.86 L594.75 373.18 L595.00 378.53 L595.25 383.91 L595.50 389.30 L595.75 394.72 L596.00 400.17 L596.25 405.64 L596.50 411.14 L596.75 416.66 L597.00 422.22 L597.25 427.81 L597.50 433.44 L597.75 439.10 L598.00 444.80 L598.25 450.55 L598.50 456.34 L598.75 462.17 L599.00 468.06 L599.25 474.00 L599.50 480.00 L599.75 486.06 L600.00 492.18 L600.25 498.37 L600.50 504.63 L600.75 510.96 L601.00 517.37 L601.25 523.86 L601.50 530.43 L601.75 537.09 L602.00 543.84 L602.25 550.69 L602.50 557.63 L602.75 564.67 L603.00 571.81 L603.25 579.06 L603.50 586.42 L603.75 593.89 L604.00 601.47 L604.25 609.16 L604.50 616.98 L604.75 624.91 L605.00 632.97 L605.25 641.14 L605.50 649.44 L605.75 657.86 L606.00 666.41 L606.25 675.07 L606.50 683.87 L606.75 692.78 L607.00 701.82 L607.25 710.98 L607.50 720.26 L607.75 729.65 L608.00 739.13 L608.25 748.57 L608.50 758.07 L608.75 767.61 L609.00 777.19 L609.25 786.82 L609.50 796.49 L609.75 806.19 L610.00 815.92 L610.25 825.68 L610.50 835.47 L610.75 845.27 L611.00 855.08 L611.25 864.91 L611.50 874.75 L611.75 884.58 L612.00 894.42 L612.25 904.24 L612.50 914.05 L612.75 923.85 L613.00 933.62 L613.25 943.36 L613.50 953.08 L613.75 962.75 L614.00 972.37 L614.25 981.95 L614.50 991.47 L614.75 1000.93 L615.00 1010.33 L615.25 1019.65 L615.50 1028.89 L615.75 1038.04 L616.00 1047.10 L616.25 1056.07 L616.50 1064.93 L616.75 1073.68 L617.00 1082.31 L617.25 1090.82 L617.50 1099.21 L617.75 1107.45 L618.00 1115.56 L618.25 1123.52 L618.50 1131.32 L618.75 1138.96 L619.00 1146.44 L619.25 1153.75 L619.50 1160.88 L619.75 1167.83 L620.00 1174.59 L620.25 1181.15 L620.50 1187.52 L620.75 1193.68 L621.00 1199.63 L621.25 1205.38 L621.50 1210.90 L621.75 1216.20 L622.00 1221.28 L622.25 1226.13 L622.50 1230.75 L622.75 1235.13 L623.00 1239.27 L623.25 1243.18 L623.50 1246.84 L623.75 1250.26 L624.00 1253.44 L624.25 1256.37 L624.50 1259.05 L624.75 1261.48 L625.00 1263.67 L625.25 1265.61 L625.50 1267.31 L625.75 1268.76 L626.00 1269.97 L626.25 1270.94 L626.50 1271.66 L626.75 1272.15 L627.00 1272.41 L627.25 1272.43 L627.50 1272.23 L627.75 1271.80 L628.00 1271.15 L628.25 1270.29 L628.50 1269.22 L628.75 1267.93 L629.00 1266.45 L629.25 1264.77 L629.50 1262.89 L629.75 1260.84 L630.00 1258.60 L630.25 1256.18 L630.50 1253.60 L630.75 1250.86 L631.00 1247.95 L631.25 1244.90 L631.50 1241.70 L631.75 1238.37 L632.00 1234.90 L632.25 1231.31 L632.50 1227.59 L632.75 1223.76 L633.00 1219.83 L633.25 1215.79 L633.50 1211.65 L633.75 1207.42 L634.00 1203.11 L634.25 1198.72 L634.50 1194.25 L634.75 1189.71 L635.00 1185.10 L635.25 1180.44 L635.50 1175.71 L635.75 1170.94 L636.00 1166.11 L636.25 1161.24 L636.50 1156.33 L636.75 1151.37 L637.00 1146.38 L637.25 1141.36 L637.50 1136.31 L637.75 1131.22 L638.00 1126.11 L638.25 1120.97 L638.50 1115.81 L638.75 1110.63 L639.00 1105.42 L639.25 1100.19 L639.50 1094.93 L639.75 1089.66 L640.00 1084.36 L640.25 1079.04 L640.50 1073.69 L640.75 1068.32 L641.00 1062.93 L641.25 1057.50 L641.50 1052.05 L641.75 1046.57 L642.00 1041.05 L642.25 1035.50 L642.50 1029.91 L642.75 1024.29 L643.00 1018.62 L643.25 1012.90 L643.50 1007.14 L643.75 1001.33 L644.00 995.47 L644.25 989.54 L644.50 983.56 L644.75 977.52 L645.00 971.41 L645.25 965.22 L645.50 958.97 L645.75 952.64 L646.00 946.23 L646.25 939.74 L646.50 933.16 L646.75 926.49 L647.00 919.72 L647.25 912.86 L647.50 905.91 L647.75 898.85 L648.00 891.68 L648.25 884.41 L648.50 877.03 L648.75 869.54 L649.00 861.93 L649.25 854.21 L649.50 846.37 L649.75 838.41 L650.00 830.33 L650.25 822.13 L650.50 813.80 L650.75 805.36 L651.00 796.79 L651.25 788.10 L651.50 779.29 L651.75 770.37 L652.00 761.32 L652.25 752.15 L652.50 742.87 L652.75 733.43 L653.00 723.86 L653.25 714.23 L653.50 704.56 L653.75 694.83 L654.00 685.07 L654.25 675.27 L654.50 665.44 L654.75 655.57 L655.00 645.68 L655.25 635.76 L655.50 625.83 L655.75 615.88 L656.00 605.92 L656.25 595.96 L656.50 585.99 L656.75 576.03 L657.00 566.08 L657.25 556.14 L657.50 546.22 L657.75 536.33 L658.00 526.46 L658.25 516.63 L658.50 506.84 L658.75 497.10 L659.00 487.41 L659.25 477.77 L659.50 468.20 L659.75 458.70 L660.00 449.27 L660.25 439.93 L660.50 430.67 L660.75 421.51 L661.00 412.45 L661.25 403.49 L661.50 394.65 L661.75 385.93 L662.00 377.33 L662.25 368.86 L662.50 360.54 L662.75 352.36 L663.00 344.32 L663.25 336.45 L663.50 328.74 L663.75 321.20 L664.00 313.83 L664.25 306.64 L664.50 299.64 L664.75 292.83 L665.00 286.22 L665.25 279.81 L665.50 273.61 L665.75 267.62 L666.00 261.85 L666.25 256.30 L666.50 250.97 L666.75 245.87 L667.00 241.01 L667.25 236.38 L667.50 231.98 L667.75 227.83 L668.00 223.92 L668.25 220.26 L668.50 216.85 L668.75 213.68 L669.00 210.76 L669.25 208.10 L669.50 205.68 L669.75 203.51 L670.00 201.59 L670.25 199.92 L670.50 198.50 L670.75 197.33 L671.00 196.40 L671.25 195.71 L671.50 195.26 L671.75 195.05 L672.00 195.07 L672.25 195.32 L672.50 195.80 L672.75 196.50 L673.00 197.42 L673.25 198.55 L673.50 199.89 L673.75 201.44 L674.00 203.18 L674.25 205.12 L674.50 207.24 L674.75 209.54 L675.00 212.02 L675.25 214.67 L675.50 217.48 L675.75 220.46 L676.00 223.58 L676.25 226.85 L676.50 230.25 L676.75 233.79 L677.00 237.46 L677.25 241.25 L677.50 245.15 L677.75 249.16 L678.00 253.27 L678.25 257.48 L678.50 261.78 L678.75 266.16 L679.00 270.63 L679.25 275.17 L679.50 279.79 L679.75 284.47 L680.00 289.21 L680.25 294.00 L680.50 298.85 L680.75 303.75 L681.00 308.69 L681.25 313.68 L681.50 318.71 L681.75 323.77 L682.00 328.86 L682.25 333.99 L682.50 339.14 L682.75 344.33 L683.00 349.54 L683.25 354.77 L683.50 360.03 L683.75 365.31 L684.00 370.62 L684.25 375.94 L684.50 381.29 L684.75 386.67 L685.00 392.06 L685.25 397.48 L685.50 402.93 L685.75 408.40 L686.00 413.90 L686.25 419.43 L686.50 424.99 L686.75 430.59 L687.00 436.22 L687.25 441.89 L687.50 447.60 L687.75 453.35 L688.00 459.15 L688.25 464.99 L688.50 470.89 L688.75 476.84 L689.00 482.86 L689.25 488.93 L689.50 495.07 L689.75 501.27 L690.00 507.55 L690.25 513.90 L690.50 520.33 L690.75 526.84 L691.00 533.44 L691.25 540.12 L691.50 546.90 L691.75 553.77 L692.00 560.74 L692.25 567.80 L692.50 574.98 L692.75 582.26 L693.00 589.65 L693.25 597.15 L693.50 604.76 L693.75 612.49 L694.00 620.34 L694.25 628.31 L694.50 636.39 L694.75 644.60 L695.00 652.94 L695.25 661.39 L695.50 669.97 L695.75 678.68 L696.00 687.50 L696.25 696.45 L696.50 705.52 L696.75 714.71 L697.00 724.02 L697.25 733.45 L697.50 742.91 L697.75 752.38 L698.00 761.91 L698.25 771.48 L698.50 781.10 L698.75 790.75 L699.00 800.45 L699.25 810.18 L699.50 819.93 L699.75 829.71 L700.00 839.52 L700.25 849.34 L700.50 859.17 L700.75 869.02 L701.00 878.87 L701.25 888.72 L701.50 898.56 L701.75 908.39 L702.00 918.21 L702.25 928.01 L702.50 937.78 L702.75 947.53 L703.00 957.24 L703.25 966.90 L703.50 976.53 L703.75 986.09 L704.00 995.60 L704.25 1005.05 L704.50 1014.43 L704.75 1023.73 L705.00 1032.95 L705.25 1042.08 L705.50 1051.11 L705.75 1060.05 L706.00 1068.88 L706.25 1077.59 L706.50 1086.19 L706.75 1094.66 L707.00 1103.00 L707.25 1111.20 L707.50 1119.26 L707.75 1127.17 L708.00 1134.92 L708.25 1142.51 L708.50 1149.93 L708.75 1157.17 L709.00 1164.24 L709.25 1171.12 L709.50 1177.81 L709.75 1184.31 L710.00 1190.60 L710.25 1196.69 L710.50 1202.57 L710.75 1208.23 L711.00 1213.67 L711.25 1218.89 L711.50 1223.88 L711.75 1228.65 L712.00 1233.18 L712.25 1237.47 L712.50 1241.53 L712.75 1245.34 L713.00 1248.91 L713.25 1252.24 L713.50 1255.32 L713.75 1258.15 L714.00 1260.74 L714.25 1263.08 L714.50 1265.17 L714.75 1267.02 L715.00 1268.62 L715.25 1269.97 L715.50 1271.08 L715.75 1271.96 L716.00 1272.59 L716.25 1272.99 L716.50 1273.15 L716.75 1273.08 L717.00 1272.79 L717.25 1272.27 L717.50 1271.53 L717.75 1270.58 L718.00 1269.42 L718.25 1268.06 L718.50 1266.49 L718.75 1264.73 L719.00 1262.78 L719.25 1260.65 L719.50 1258.33 L719.75 1255.85 L720.00 1253.20 L720.25 1250.39 L720.50 1247.42 L720.75 1244.30 L721.00 1241.05 L721.25 1237.65 L721.50 1234.13 L721.75 1230.48 L722.00 1226.72 L722.25 1222.84 L722.50 1218.85 L722.75 1214.77 L723.00 1210.59 L723.25 1206.32 L723.50 1201.97 L723.75 1197.54 L724.00 1193.04 L724.25 1188.47 L724.50 1183.83 L724.75 1179.13 L725.00 1174.38 L725.25 1169.58 L725.50 1164.73 L725.75 1159.83 L726.00 1154.90 L726.25 1149.92 L726.50 1144.91 L726.75 1139.87 L727.00 1134.80 L727.25 1129.70 L727.50 1124.57 L727.75 1119.41 L728.00 1114.24 L728.25 1109.03 L728.50 1103.81 L728.75 1098.56 L729.00 1093.29 L729.25 1088.00 L729.50 1082.69 L729.75 1077.35 L730.00 1071.99 L730.25 1066.60 L730.50 1061.18 L730.75 1055.74 L731.00 1050.27 L731.25 1044.77 L731.50 1039.23 L731.75 1033.66 L732.00 1028.05 L732.25 1022.40 L732.50 1016.70 L732.75 1010.96 L733.00 1005.17 L733.25 999.33 L733.50 993.44 L733.75 987.49 L734.00 981.47 L734.25 975.39 L734.50 969.25 L734.75 963.03 L735.00 956.73 L735.25 950.36 L735.50 943.91 L735.75 937.38 L736.00 930.75 L736.25 924.04 L736.50 917.23 L736.75 910.32 L737.00 903.31 L737.25 896.20 L737.50 888.99 L737.75 881.66 L738.00 874.23 L738.25 866.68 L738.50 859.01 L738.75 851.23 L739.00 843.34 L739.25 835.32 L739.50 827.18 L739.75 818.92 L740.00 810.54 L740.25 802.03 L740.50 793.41 L740.75 784.66 L741.00 775.79 L741.25 766.80 L741.50 757.69 L741.75 748.47 L742.00 739.13 L742.25 729.62 L742.50 720.03 L742.75 710.39 L743.00 700.70 L743.25 690.97 L743.50 681.20 L743.75 671.40 L744.00 661.56 L744.25 651.69 L744.50 641.80 L744.75 631.88 L745.00 621.95 L745.25 612.01 L745.50 602.05 L745.75 592.10 L746.00 582.14 L746.25 572.19 L746.50 562.25 L746.75 552.33 L747.00 542.43 L747.25 532.55 L747.50 522.71 L747.75 512.90 L748.00 503.14 L748.25 493.42 L748.50 483.76 L748.75 474.16 L749.00 464.63 L749.25 455.16 L749.50 445.78 L749.75 436.47 L750.00 427.26 L750.25 418.15 L750.50 409.14 L750.75 400.23 L751.00 391.44 L751.25 382.78 L751.50 374.24 L751.75 365.84 L752.00 357.58 L752.25 349.46 L752.50 341.50 L752.75 333.69 L753.00 326.06 L753.25 318.59 L753.50 311.30 L753.75 304.19 L754.00 297.28 L754.25 290.55 L754.50 284.03 L754.75 277.70 L755.00 271.59 L755.25 265.69 L755.50 260.01 L755.75 254.56 L756.00 249.32 L756.25 244.32 L756.50 239.56 L756.75 235.02 L757.00 230.73 L757.25 226.68 L757.50 222.87 L757.75 219.31 L758.00 216.00 L758.25 212.94 L758.50 210.12 L758.75 207.56 L759.00 205.24 L759.25 203.18 L759.50 201.36 L759.75 199.79 L760.00 198.47 L760.25 197.39 L760.50 196.56 L760.75 195.97 L761.00 195.62 L761.25 195.50 L761.50 195.61 L761.75 195.96 L762.00 196.52 L762.25 197.31 L762.50 198.31 L762.75 199.53 L763.00 200.95 L763.25 202.57 L763.50 204.39 L763.75 206.40 L764.00 208.59 L764.25 210.97 L764.50 213.51 L764.75 216.23 L765.00 219.10 L765.25 222.13 L765.50 225.31 L765.75 228.63 L766.00 232.09 L766.25 235.68 L766.50 239.39 L766.75 243.22 L767.00 247.16 L767.25 251.21 L767.50 255.36 L767.75 259.60 L768.00 263.93 L768.25 268.35 L768.50 272.84 L768.75 277.41 L769.00 282.04 L769.25 286.74 L769.50 291.50 L769.75 296.32 L770.00 301.18 L770.25 306.09 L770.50 311.05 L770.75 316.05 L771.00 321.09 L771.25 326.16 L771.50 331.26 L771.75 336.39 L772.00 341.56 L772.25 346.75 L772.50 351.96 L772.75 357.20 L773.00 362.46 L773.25 367.75 L773.50 373.06 L773.75 378.39 L774.00 383.75 L774.25 389.12 L774.50 394.52 L774.75 399.95 L775.00 405.40 L775.25 410.88 L775.50 416.39 L775.75 421.92 L776.00 427.49 L776.25 433.10 L776.50 438.74 L776.75 444.42 L777.00 450.14 L777.25 455.90 L777.50 461.72 L777.75 467.58 L778.00 473.49 L778.25 479.46 L778.50 485.49 L778.75 491.59 L779.00 497.75 L779.25 503.97 L779.50 510.27 L779.75 516.65 L780.00 523.11 L780.25 529.65 L780.50 536.27 L780.75 542.99 L781.00 549.79 L781.25 556.70 L781.50 563.70 L781.75 570.81 L782.00 578.01 L782.25 585.33 L782.50 592.76 L782.75 600.30 L783.00 607.95 L783.25 615.72 L783.50 623.61 L783.75 631.62 L784.00 639.75 L784.25 648.00 L784.50 656.38 L784.75 664.87 L785.00 673.50 L785.25 682.24 L785.50 691.11 L785.75 700.10 L786.00 709.21 L786.25 718.44 L786.50 727.79 L786.75 737.25 L787.00 746.70 L787.25 756.20 L787.50 765.75 L787.75 775.34 L788.00 784.98 L788.25 794.65 L788.50 804.36 L788.75 814.11 L789.00 823.88 L789.25 833.68 L789.50 843.49 L789.75 853.32 L790.00 863.17 L790.25 873.02 L790.50 882.87 L790.75 892.72 L791.00 902.57 L791.25 912.40 L791.50 922.21 L791.75 932.01 L792.00 941.78 L792.25 951.51 L792.50 961.21 L792.75 970.86 L793.00 980.47 L793.25 990.02 L793.50 999.51 L793.75 1008.93 L794.00 1018.28 L794.25 1027.55 L794.50 1036.74 L794.75 1045.84 L795.00 1054.84 L795.25 1063.74 L795.50 1072.52 L795.75 1081.20 L796.00 1089.75 L796.25 1098.17 L796.50 1106.46 L796.75 1114.61 L797.00 1122.61 L797.25 1130.46 L797.50 1138.15 L797.75 1145.67 L798.00 1153.03 L798.25 1160.21 L798.50 1167.20 L798.75 1174.01 L799.00 1180.63 L799.25 1187.05 L799.50 1193.26 L799.75 1199.27 L800.00 1205.06 L800.25 1210.64 L800.50 1216.00 L800.75 1221.13 L801.00 1226.03 L801.25 1230.70 L801.50 1235.14 L801.75 1239.34 L802.00 1243.30 L802.25 1247.02 L802.50 1250.49 L802.75 1253.72 L803.00 1256.71 L803.25 1259.44 L803.50 1261.93 L803.75 1264.17 L804.00 1266.17 L804.25 1267.92 L804.50 1269.42 L804.75 1270.68 L805.00 1271.70 L805.25 1272.47 L805.50 1273.01 L805.75 1273.31 L806.00 1273.38 L806.25 1273.22 L806.50 1272.84 L806.75 1272.24 L807.00 1271.41 L807.25 1270.38 L807.50 1269.13 L807.75 1267.69 L808.00 1266.04 L808.25 1264.20 L808.50 1262.18 L808.75 1259.97 L809.00 1257.59 L809.25 1255.03 L809.50 1252.32 L809.75 1249.44 L810.00 1246.41 L810.25 1243.24 L810.50 1239.92 L810.75 1236.48 L811.00 1232.90 L811.25 1229.20 L811.50 1225.39 L811.75 1221.47 L812.00 1217.44 L812.25 1213.32 L812.50 1209.10 L812.75 1204.80 L813.00 1200.41 L813.25 1195.95 L813.50 1191.41 L813.75 1186.81 L814.00 1182.15 L814.25 1177.43 L814.50 1172.66 L814.75 1167.83 L815.00 1162.96 L815.25 1158.05 L815.50 1153.09 L815.75 1148.10 L816.00 1143.08 L816.25 1138.02 L816.50 1132.93 L816.75 1127.82 L817.00 1122.68 L817.25 1117.51 L817.50 1112.32 L817.75 1107.11 L818.00 1101.87 L818.25 1096.61 L818.50 1091.33 L818.75 1086.03 L819.00 1080.70 L819.25 1075.35 L819.50 1069.98 L819.75 1064.58 L820.00 1059.15 L820.25 1053.69 L820.50 1048.21 L820.75 1042.69 L821.00 1037.14 L821.25 1031.55 L821.50 1025.92 L821.75 1020.25 L822.00 1014.53 L822.25 1008.77 L822.50 1002.96 L822.75 997.10 L823.00 991.18 L823.25 985.20 L823.50 979.15 L823.75 973.04 L824.00 966.87 L824.25 960.62 L824.50 954.29 L824.75 947.89 L825.00 941.40 L825.25 934.82 L825.50 928.16 L825.75 921.40 L826.00 914.55 L826.25 907.60 L826.50 900.55 L826.75 893.40 L827.00 886.13 L827.25 878.76 L827.50 871.28 L827.75 863.68 L828.00 855.97 L828.25 848.14 L828.50 840.19 L828.75 832.12 L829.00 823.93 L829.25 815.61 L829.50 807.18 L829.75 798.62 L830.00 789.94 L830.25 781.14 L830.50 772.22 L830.75 763.18 L831.00 754.02 L831.25 744.75 L831.50 735.35 L831.75 725.80 L832.00 716.20 L832.25 706.55 L832.50 696.85 L832.75 687.11 L833.00 677.34 L833.25 667.53 L833.50 657.68 L833.75 647.81 L834.00 637.92 L834.25 628.00 L834.50 618.08 L834.75 608.14 L835.00 598.19 L835.25 588.24 L835.50 578.30 L835.75 568.36 L836.00 558.44 L836.25 548.53 L836.50 538.65 L836.75 528.79 L837.00 518.97 L837.25 509.19 L837.50 499.45 L837.75 489.77 L838.00 480.14 L838.25 470.57 L838.50 461.07 L838.75 451.64 L839.00 442.30 L839.25 433.04 L839.50 423.88 L839.75 414.81 L840.00 405.85 L840.25 397.00 L840.50 388.27 L840.75 379.66 L841.00 371.18 L841.25 362.84 L841.50 354.64 L841.75 346.59 L842.00 338.70 L842.25 330.97 L842.50 323.41 L842.75 316.02 L843.00 308.81 L843.25 301.78 L843.50 294.94 L843.75 288.30 L844.00 281.87 L844.25 275.63 L844.50 269.61 L844.75 263.80 L845.00 258.22 L845.25 252.85 L845.50 247.72 L845.75 242.82 L846.00 238.15 L846.25 233.71 L846.50 229.52 L846.75 225.57 L847.00 221.87 L847.25 218.41 L847.50 215.20 L847.75 212.23 L848.00 209.52 L848.25 207.06 L848.50 204.84 L848.75 202.88 L849.00 201.17 L849.25 199.70 L849.50 198.48 L849.75 197.50 L850.00 196.76 L850.25 196.27 L850.50 196.01 L850.75 195.98 L851.00 196.19 L851.25 196.62 L851.50 197.28 L851.75 198.15 L852.00 199.24 L852.25 200.54 L852.50 202.04 L852.75 203.74 L853.00 205.63 L853.25 207.71 L853.50 209.98 L853.75 212.42 L854.00 215.03 L854.25 217.81 L854.50 220.74 L854.75 223.83 L855.00 227.06 L855.25 230.44 L855.50 233.94 L855.75 237.58 L856.00 241.34 L856.25 245.21 L856.50 249.19 L856.75 253.27 L857.00 257.46 L857.25 261.73 L857.50 266.10 L857.75 270.54 L858.00 275.06 L858.25 279.65 L858.50 284.31 L858.75 289.03 L859.00 293.80 L859.25 298.64 L859.50 303.52 L859.75 308.44 L860.00 313.41 L860.25 318.42 L860.50 323.47 L860.75 328.55 L861.00 333.66 L861.25 338.80 L861.50 343.97 L861.75 349.16 L862.00 354.39 L862.25 359.63 L862.50 364.90 L862.75 370.19 L863.00 375.50 L863.25 380.84 L863.50 386.20 L863.75 391.58 L864.00 396.98 L864.25 402.42 L864.50 407.87 L864.75 413.36 L865.00 418.87 L865.25 424.42 L865.50 430.00 L865.75 435.61 L866.00 441.26 L866.25 446.95 L866.50 452.69 L866.75 458.46 L867.00 464.29 L867.25 470.17 L867.50 476.10 L867.75 482.09 L868.00 488.14 L868.25 494.25 L868.50 500.43 L868.75 506.68 L869.00 513.01 L869.25 519.41 L869.50 525.90 L869.75 532.46 L870.00 539.12 L870.25 545.86 L870.50 552.70 L870.75 559.64 L871.00 566.68 L871.25 573.82 L871.50 581.06 L871.75 588.42 L872.00 595.88 L872.25 603.46 L872.50 611.15 L872.75 618.96 L873.00 626.89 L873.25 634.94 L873.50 643.12 L873.75 651.41 L874.00 659.83 L874.25 668.37 L874.50 677.03 L874.75 685.82 L875.00 694.73 L875.25 703.76 L875.50 712.91 L875.75 722.18 L876.00 731.56 L876.25 741.03 L876.50 750.50 L876.75 760.03 L877.00 769.61 L877.25 779.23 L877.50 788.89 L877.75 798.59 L878.00 808.32 L878.25 818.08 L878.50 827.87 L878.75 837.69 L879.00 847.52 L879.25 857.36 L879.50 867.22 L879.75 877.08 L880.00 886.94 L880.25 896.80 L880.50 906.65 L880.75 916.48 L881.00 926.30 L881.25 936.09 L881.50 945.86 L881.75 955.58 L882.00 965.27 L882.25 974.92 L882.50 984.51 L882.75 994.04 L883.00 1003.51 L883.25 1012.92 L883.50 1022.25 L883.75 1031.49 L884.00 1040.65 L884.25 1049.72 L884.50 1058.69 L884.75 1067.55 L885.00 1076.30 L885.25 1084.94 L885.50 1093.44 L885.75 1101.82 L886.00 1110.06 L886.25 1118.16 L886.50 1126.11 L886.75 1133.90 L887.00 1141.53 L887.25 1149.00 L887.50 1156.29 L887.75 1163.40 L888.00 1170.33 L888.25 1177.06 L888.50 1183.61 L888.75 1189.95 L889.00 1196.09 L889.25 1202.02 L889.50 1207.73 L889.75 1213.22 L890.00 1218.49 L890.25 1223.54 L890.50 1228.36 L890.75 1232.94 L891.00 1237.29 L891.25 1241.39 L891.50 1245.26 L891.75 1248.88 L892.00 1252.26 L892.25 1255.40 L892.50 1258.29 L892.75 1260.93 L893.00 1263.32 L893.25 1265.46 L893.50 1267.36 L893.75 1269.01 L894.00 1270.42 L894.25 1271.58 L894.50 1272.50 L894.75 1273.18 L895.00 1273.63 L895.25 1273.84 L895.50 1273.81 L895.75 1273.57 L896.00 1273.09 L896.25 1272.40 L896.50 1271.49 L896.75 1270.37 L897.00 1269.04 L897.25 1267.51 L897.50 1265.79 L897.75 1263.88 L898.00 1261.77 L898.25 1259.49 L898.50 1257.04 L898.75 1254.42 L899.00 1251.63 L899.25 1248.69 L899.50 1245.60 L899.75 1242.37 L900.00 1239.00 L900.25 1235.50 L900.50 1231.87 L900.75 1228.12 L901.00 1224.26 L901.25 1220.29 L901.50 1216.22 L901.75 1212.05 L902.00 1207.80 L902.25 1203.46 L902.50 1199.04 L902.75 1194.54 L903.00 1189.98 L903.25 1185.35 L903.50 1180.66 L903.75 1175.91 L904.00 1171.11 L904.25 1166.26 L904.50 1161.37 L904.75 1156.43 L905.00 1151.46 L905.25 1146.45 L905.50 1141.41 L905.75 1136.34 L906.00 1131.23 L906.25 1126.10 L906.50 1120.95 L906.75 1115.77 L907.00 1110.56 L907.25 1105.34 L907.50 1100.09 L907.75 1094.82 L908.00 1089.52 L908.25 1084.20 L908.50 1078.86 L908.75 1073.50 L909.00 1068.11 L909.25 1062.69 L909.50 1057.25 L909.75 1051.78 L910.00 1046.27 L910.25 1040.74 L910.50 1035.17 L910.75 1029.56 L911.00 1023.91 L911.25 1018.21 L911.50 1012.48 L911.75 1006.69 L912.00 1000.85 L912.25 994.96 L912.50 989.01 L912.75 983.00 L913.00 976.93 L913.25 970.79 L913.50 964.57 L913.75 958.29 L914.00 951.93 L914.25 945.48 L914.50 938.95 L914.75 932.34 L915.00 925.63 L915.25 918.83 L915.50 911.94 L915.75 904.94 L916.00 897.84 L916.25 890.64 L916.50 883.33 L916.75 875.90 L917.00 868.37 L917.25 860.72 L917.50 852.95 L917.75 845.07 L918.00 837.06 L918.25 828.94 L918.50 820.69 L918.75 812.32 L919.00 803.83 L919.25 795.22 L919.50 786.48 L919.75 777.62 L920.00 768.65 L920.25 759.55 L920.50 750.34 L920.75 741.01 L921.00 731.53 L921.25 721.96 L921.50 712.34 L921.75 702.67 L922.00 692.96 L922.25 683.21 L922.50 673.42 L922.75 663.59 L923.00 653.74 L923.25 643.86 L923.50 633.96 L923.75 624.03 L924.00 614.10 L924.25 604.16 L924.50 594.21 L924.75 584.26 L925.00 574.32 L925.25 564.39 L925.50 554.47 L925.75 544.57 L926.00 534.70 L926.25 524.86 L926.50 515.05 L926.75 505.29 L927.00 495.57 L927.25 485.91 L927.50 476.30 L927.75 466.76 L928.00 457.29 L928.25 447.90 L928.50 438.59 L928.75 429.36 L929.00 420.24 L929.25 411.21 L929.50 402.29 L929.75 393.49 L930.00 384.81 L930.25 376.25 L930.50 367.83 L930.75 359.54 L931.00 351.40 L931.25 343.42 L931.50 335.59 L931.75 327.92 L932.00 320.43 L932.25 313.11 L932.50 305.97 L932.75 299.02 L933.00 292.26 L933.25 285.70 L933.50 279.35 L933.75 273.20 L934.00 267.26 L934.25 261.54 L934.50 256.05 L934.75 250.77 L935.00 245.73 L935.25 240.92 L935.50 236.34 L935.75 232.01 L936.00 227.91 L936.25 224.06 L936.50 220.45 L936.75 217.09 L937.00 213.98 L937.25 211.12 L937.50 208.51 L937.75 206.14 L938.00 204.03 L938.25 202.16 L938.50 200.55 L938.75 199.18 L939.00 198.06 L939.25 197.18 L939.50 196.54 L939.75 196.14 L940.00 195.97 L940.25 196.04 L940.50 196.34 L940.75 196.86 L941.00 197.60 L941.25 198.56 L941.50 199.73 L941.75 201.11 L942.00 202.69 L942.25 204.47 L942.50 206.44 L942.75 208.60 L943.00 210.93 L943.25 213.44 L943.50 216.12 L943.75 218.96 L944.00 221.96 L944.25 225.11 L944.50 228.40 L944.75 231.82 L945.00 235.38 L945.25 239.07 L945.50 242.87 L945.75 246.79 L946.00 250.81 L946.25 254.94 L946.50 259.16 L946.75 263.47 L947.00 267.86 L947.25 272.34 L947.50 276.89 L947.75 281.51 L948.00 286.19 L948.25 290.93 L948.50 295.73 L948.75 300.58 L949.00 305.48 L949.25 310.43 L949.50 315.41 L949.75 320.44 L950.00 325.50 L950.25 330.59 L950.50 335.71 L950.75 340.86 L951.00 346.04 L951.25 351.25 L951.50 356.48 L951.75 361.73 L952.00 367.01 L952.25 372.31 L952.50 377.63 L952.75 382.98 L953.00 388.35 L953.25 393.74 L953.50 399.15 L953.75 404.60 L954.00 410.06 L954.25 415.56 L954.50 421.09 L954.75 426.65 L955.00 432.24 L955.25 437.87 L955.50 443.53 L955.75 449.24 L956.00 454.99 L956.25 460.79 L956.50 466.64 L956.75 472.53 L957.00 478.49 L957.25 484.50 L957.50 490.58 L957.75 496.72 L958.00 502.93 L958.25 509.21 L958.50 515.56 L958.75 522.00 L959.00 528.51 L959.25 535.12 L959.50 541.81 L959.75 548.59 L960.00 555.47 L960.25 562.44 L960.50 569.52 L960.75 576.70 L961.00 583.99 L961.25 591.39 L961.50 598.90 L961.75 606.52 L962.00 614.26 L962.25 622.12 L962.50 630.10 L962.75 638.20 L963.00 646.42 L963.25 654.76 L963.50 663.23 L963.75 671.82 L964.00 680.53 L964.25 689.37 L964.50 698.33 L964.75 707.40 L965.00 716.60 L965.25 725.92 L965.50 735.35 L965.75 744.81 L966.00 754.31 L966.25 763.85 L966.50 773.45 L966.75 783.09 L967.00 792.76 L967.25 802.48 L967.50 812.22 L967.75 822.00 L968.00 831.80 L968.25 841.62 L968.50 851.46 L968.75 861.31 L969.00 871.16 L969.25 881.02 L969.50 890.89 L969.75 900.74 L970.00 910.58 L970.25 920.41 L970.50 930.22 L970.75 940.00 L971.00 949.75 L971.25 959.46 L971.50 969.14 L971.75 978.76 L972.00 988.33 L972.25 997.84 L972.50 1007.28 L972.75 1016.66 L973.00 1025.96 L973.25 1035.17 L973.50 1044.29 L973.75 1053.32 L974.00 1062.25 L974.25 1071.07 L974.50 1079.77 L974.75 1088.35 L975.00 1096.81 L975.25 1105.13 L975.50 1113.32 L975.75 1121.36 L976.00 1129.24 L976.25 1136.97 L976.50 1144.54 L976.75 1151.93 L977.00 1159.15 L977.25 1166.19 L977.50 1173.05 L977.75 1179.71 L978.00 1186.17 L978.25 1192.43 L978.50 1198.48 L978.75 1204.33 L979.00 1209.95 L979.25 1215.36 L979.50 1220.54 L979.75 1225.49 L980.00 1230.22 L980.25 1234.71 L980.50 1238.96 L980.75 1242.97 L981.00 1246.74 L981.25 1250.27 L981.50 1253.55 L981.75 1256.58 L982.00 1259.37 L982.25 1261.91 L982.50 1264.21 L982.75 1266.25 L983.00 1268.05 L983.25 1269.60 L983.50 1270.91 L983.75 1271.98 L984.00 1272.80 L984.25 1273.39 L984.50 1273.74 L984.75 1273.85 L985.00 1273.74 L985.25 1273.40 L985.50 1272.84 L985.75 1272.06 L986.00 1271.07 L986.25 1269.86 L986.50 1268.46 L986.75 1266.85 L987.00 1265.05 L987.25 1263.06 L987.50 1260.88 L987.75 1258.53 L988.00 1256.01 L988.25 1253.32 L988.50 1250.48 L988.75 1247.47 L989.00 1244.33 L989.25 1241.04 L989.50 1237.61 L989.75 1234.06 L990.00 1230.38 L990.25 1226.59 L990.50 1222.68 L990.75 1218.67 L991.00 1214.57 L991.25 1210.36 L991.50 1206.07 L991.75 1201.70 L992.00 1197.25 L992.25 1192.72 L992.50 1188.13 L992.75 1183.48 L993.00 1178.76 L993.25 1174.00 L993.50 1169.18 L993.75 1164.31 L994.00 1159.40 L994.25 1154.45 L994.50 1149.46 L994.75 1144.44 L995.00 1139.38 L995.25 1134.30 L995.50 1129.18 L995.75 1124.04 L996.00 1118.88 L996.25 1113.69 L996.50 1108.48 L996.75 1103.24 L997.00 1097.98 L997.25 1092.70 L997.50 1087.40 L997.75 1082.07 L998.00 1076.72 L998.25 1071.35 L998.50 1065.95 L998.75 1060.52 L999.00 1055.07 L999.25 1049.58 L999.50 1044.06 L999.75 1038.51 L1000.00 1032.93 L1000.25 1027.30 L1000.50 1021.63 L1000.75 1015.92 L1001.00 1010.17 L1001.25 1004.36 L1001.50 998.50 L1001.75 992.59 L1002.00 986.61 L1002.25 980.58 L1002.50 974.48 L1002.75 968.31 L1003.00 962.07 L1003.25 955.75 L1003.50 949.36 L1003.75 942.88 L1004.00 936.32 L1004.25 929.67 L1004.50 922.92 L1004.75 916.09 L1005.00 909.15 L1005.25 902.11 L1005.50 894.97 L1005.75 887.73 L1006.00 880.37 L1006.25 872.90 L1006.50 865.32 L1006.75 857.62 L1007.00 849.81 L1007.25 841.88 L1007.50 833.83 L1007.75 825.65 L1008.00 817.36 L1008.25 808.94 L1008.50 800.40 L1008.75 791.74 L1009.00 782.95 L1009.25 774.05 L1009.50 765.02 L1009.75 755.88 L1010.00 746.62 L1010.25 737.25 L1010.50 727.72 L1010.75 718.14 L1011.00 708.51 L1011.25 698.83 L1011.50 689.11 L1011.75 679.35 L1012.00 669.55 L1012.25 659.72 L1012.50 649.86 L1012.75 639.98 L1013.00 630.08 L1013.25 620.16 L1013.50 610.23 L1013.75 600.30 L1014.00 590.36 L1014.25 580.42 L1014.50 570.49 L1014.75 560.57 L1015.00 550.67 L1015.25 540.79 L1015.50 530.94 L1015.75 521.12 L1016.00 511.34 L1016.25 501.60 L1016.50 491.91 L1016.75 482.28 L1017.00 472.71 L1017.25 463.20 L1017.50 453.77 L1017.75 444.42 L1018.00 435.15 L1018.25 425.97 L1018.50 416.89 L1018.75 407.92 L1019.00 399.05 L1019.25 390.30 L1019.50 381.68 L1019.75 373.18 L1020.00 364.82 L1020.25 356.60 L1020.50 348.53 L1020.75 340.61 L1021.00 332.85 L1021.25 325.26 L1021.50 317.84 L1021.75 310.60 L1022.00 303.55 L1022.25 296.68 L1022.50 290.00 L1022.75 283.53 L1023.00 277.26 L1023.25 271.20 L1023.50 265.36 L1023.75 259.73 L1024.00 254.33 L1024.25 249.15 L1024.50 244.20 L1024.75 239.49 L1025.00 235.01 L1025.25 230.78 L1025.50 226.78 L1025.75 223.03 L1026.00 219.53 L1026.25 216.27 L1026.50 213.26 L1026.75 210.50 L1027.00 207.99 L1027.25 205.73 L1027.50 203.72 L1027.75 201.95 L1028.00 200.44 L1028.25 199.17 L1028.50 198.14 L1028.75 197.36 L1029.00 196.82 L1029.25 196.51 L1029.50 196.44 L1029.75 196.60 L1030.00 196.99 L1030.25 197.60 L1030.50 198.43 L1030.75 199.47 L1031.00 200.72 L1031.25 202.18 L1031.50 203.84 L1031.75 205.70 L1032.00 207.74 L1032.25 209.97 L1032.50 212.37 L1032.75 214.95 L1033.00 217.69 L1033.25 220.59 L1033.50 223.64 L1033.75 226.85 L1034.00 230.19 L1034.25 233.67 L1034.50 237.27 L1034.75 241.00 L1035.00 244.85 L1035.25 248.81 L1035.50 252.87 L1035.75 257.03 L1036.00 261.28 L1036.25 265.62 L1036.50 270.05 L1036.75 274.55 L1037.00 279.12 L1037.25 283.76 L1037.50 288.47 L1037.75 293.23 L1038.00 298.05 L1038.25 302.91 L1038.50 307.83 L1038.75 312.78 L1039.00 317.78 L1039.25 322.81 L1039.50 327.88 L1039.75 332.98 L1040.00 338.11 L1040.25 343.27 L1040.50 348.46 L1040.75 353.67 L1041.00 358.91 L1041.25 364.17 L1041.50 369.45 L1041.75 374.75 L1042.00 380.08 L1042.25 385.43 L1042.50 390.80 L1042.75 396.20 L1043.00 401.62 L1043.25 407.07 L1043.50 412.54 L1043.75 418.04 L1044.00 423.58 L1044.25 429.15 L1044.50 434.75 L1044.75 440.38 L1045.00 446.06 L1045.25 451.78 L1045.50 457.55 L1045.75 463.36 L1046.00 469.22 L1046.25 475.14 L1046.50 481.11 L1046.75 487.14 L1047.00 493.24 L1047.25 499.40 L1047.50 505.63 L1047.75 511.93 L1048.00 518.32 L1048.25 524.78 L1048.50 531.32 L1048.75 537.95 L1049.00 544.67 L1049.25 551.49 L1049.50 558.40 L1049.75 565.41 L1050.00 572.52 L1050.25 579.74 L1050.50 587.07 L1050.75 594.50 L1051.00 602.05 L1051.25 609.72 L1051.50 617.50 L1051.75 625.40 L1052.00 633.41 L1052.25 641.55 L1052.50 649.82 L1052.75 658.20 L1053.00 666.71 L1053.25 675.34 L1053.50 684.10 L1053.75 692.97 L1054.00 701.97 L1054.25 711.09 L1054.50 720.33 L1054.75 729.68 L1055.00 739.14 L1055.25 748.61 L1055.50 758.14 L1055.75 767.71 L1056.00 777.33 L1056.25 787.00 L1056.50 796.70 L1056.75 806.43 L1057.00 816.20 L1057.25 825.99 L1057.50 835.81 L1057.75 845.65 L1058.00 855.50 L1058.25 865.36 L1058.50 875.23 L1058.75 885.10 L1059.00 894.97 L1059.25 904.83 L1059.50 914.67 L1059.75 924.50 L1060.00 934.31 L1060.25 944.09 L1060.50 953.83 L1060.75 963.54 L1061.00 973.20 L1061.25 982.81 L1061.50 992.36 L1061.75 1001.86 L1062.00 1011.28 L1062.25 1020.63 L1062.50 1029.91 L1062.75 1039.09 L1063.00 1048.19 L1063.25 1057.18 L1063.50 1066.08 L1063.75 1074.86 L1064.00 1083.52 L1064.25 1092.06 L1064.50 1100.47 L1064.75 1108.75 L1065.00 1116.88 L1065.25 1124.87 L1065.50 1132.70 L1065.75 1140.37 L1066.00 1147.87 L1066.25 1155.21 L1066.50 1162.36 L1066.75 1169.33 L1067.00 1176.12 L1067.25 1182.70 L1067.50 1189.09 L1067.75 1195.28 L1068.00 1201.25 L1068.25 1207.01 L1068.50 1212.56 L1068.75 1217.88 L1069.00 1222.97 L1069.25 1227.84 L1069.50 1232.47 L1069.75 1236.87 L1070.00 1241.03 L1070.25 1244.95 L1070.50 1248.62 L1070.75 1252.06 L1071.00 1255.24 L1071.25 1258.18 L1071.50 1260.87 L1071.75 1263.32 L1072.00 1265.51 L1072.25 1267.46 L1072.50 1269.16 L1072.75 1270.62 L1073.00 1271.83 L1073.25 1272.80 L1073.50 1273.53 L1073.75 1274.02 L1074.00 1274.28 L1074.25 1274.30 L1074.50 1274.10 L1074.75 1273.67 L1075.00 1273.02 L1075.25 1272.15 L1075.50 1271.08 L1075.75 1269.79 L1076.00 1268.30 L1076.25 1266.61 L1076.50 1264.73 L1076.75 1262.67 L1077.00 1260.42 L1077.25 1258.00 L1077.50 1255.41 L1077.75 1252.65 L1078.00 1249.74 L1078.25 1246.68 L1078.50 1243.47 L1078.75 1240.12 L1079.00 1236.64 L1079.25 1233.03 L1079.50 1229.31 L1079.75 1225.46 L1080.00 1221.51 L1080.25 1217.46 L1080.50 1213.31 L1080.75 1209.07 L1081.00 1204.74 L1081.25 1200.33 L1081.50 1195.85 L1081.75 1191.29 L1082.00 1186.67 L1082.25 1181.99 L1082.50 1177.25 L1082.75 1172.45 L1083.00 1167.61 L1083.25 1162.72 L1083.50 1157.79 L1083.75 1152.82 L1084.00 1147.81 L1084.25 1142.77 L1084.50 1137.70 L1084.75 1132.60 L1085.00 1127.47 L1085.25 1122.32 L1085.50 1117.14 L1085.75 1111.93 L1086.00 1106.71 L1086.25 1101.46 L1086.50 1096.18 L1086.75 1090.89 L1087.00 1085.57 L1087.25 1080.23 L1087.50 1074.87 L1087.75 1069.48 L1088.00 1064.06 L1088.25 1058.62 L1088.50 1053.15 L1088.75 1047.65 L1089.00 1042.11 L1089.25 1036.54 L1089.50 1030.94 L1089.75 1025.29 L1090.00 1019.60 L1090.25 1013.87 L1090.50 1008.09 L1090.75 1002.25 L1091.00 996.37 L1091.25 990.43 L1091.50 984.42 L1091.75 978.36 L1092.00 972.22 L1092.25 966.02 L1092.50 959.75 L1092.75 953.39 L1093.00 946.96 L1093.25 940.44 L1093.50 933.84 L1093.75 927.15 L1094.00 920.36 L1094.25 913.48 L1094.50 906.50 L1094.75 899.41 L1095.00 892.22 L1095.25 884.93 L1095.50 877.52 L1095.75 870.00 L1096.00 862.37 L1096.25 854.62 L1096.50 846.75 L1096.75 838.76 L1097.00 830.65 L1097.25 822.42 L1097.50 814.07 L1097.75 805.60 L1098.00 797.00 L1098.25 788.28 L1098.50 779.44 L1098.75 770.48 L1099.00 761.40 L1099.25 752.20 L1099.50 742.89 L1099.75 733.44 L1100.00 723.89 L1100.25 714.29 L1100.50 704.64 L1100.75 694.94 L1101.00 685.21 L1101.25 675.43 L1101.50 665.62 L1101.75 655.78 L1102.00 645.91 L1102.25 636.02 L1102.50 626.12 L1102.75 616.19 L1103.00 606.26 L1103.25 596.32 L1103.50 586.38 L1103.75 576.45 L1104.00 566.52 L1104.25 556.61 L1104.50 546.72 L1104.75 536.85 L1105.00 527.01 L1105.25 517.20 L1105.50 507.44 L1105.75 497.72 L1106.00 488.05 L1106.25 478.44 L1106.50 468.90 L1106.75 459.42 L1107.00 450.02 L1107.25 440.70 L1107.50 431.46 L1107.75 422.33 L1108.00 413.29 L1108.25 404.36 L1108.50 395.54 L1108.75 386.84 L1109.00 378.26 L1109.25 369.82 L1109.50 361.51 L1109.75 353.35 L1110.00 345.34 L1110.25 337.49 L1110.50 329.80 L1110.75 322.27 L1111.00 314.93 L1111.25 307.76 L1111.50 300.77 L1111.75 293.98 L1112.00 287.39 L1112.25 281.00 L1112.50 274.81 L1112.75 268.84 L1113.00 263.08 L1113.25 257.54 L1113.50 252.23 L1113.75 247.14 L1114.00 242.29 L1114.25 237.67 L1114.50 233.29 L1114.75 229.15 L1115.00 225.25 L1115.25 221.60 L1115.50 218.19 L1115.75 215.04 L1116.00 212.13 L1116.25 209.47 L1116.50 207.05 L1116.75 204.89 L1117.00 202.98 L1117.25 201.32 L1117.50 199.90 L1117.75 198.73 L1118.00 197.80 L1118.25 197.11 L1118.50 196.67 L1118.75 196.45 L1119.00 196.48 L1119.25 196.73 L1119.50 197.20 L1119.75 197.90 L1120.00 198.82 L1120.25 199.95 L1120.50 201.28 L1120.75 202.82 L1121.00 204.56 L1121.25 206.49 L1121.50 208.61 L1121.75 210.91 L1122.00 213.38 L1122.25 216.02 L1122.50 218.83 L1122.75 221.79 L1123.00 224.91 L1123.25 228.17 L1123.50 231.57 L1123.75 235.10 L1124.00 238.75 L1124.25 242.53 L1124.50 246.42 L1124.75 250.42 L1125.00 254.52 L1125.25 258.72 L1125.50 263.01 L1125.75 267.38 L1126.00 271.84 L1126.25 276.37 L1126.50 280.97 L1126.75 285.64 L1127.00 290.36 L1127.25 295.15 L1127.50 299.99 L1127.75 304.87 L1128.00 309.80 L1128.25 314.78 L1128.50 319.79 L1128.75 324.84 L1129.00 329.92 L1129.25 335.03 L1129.50 340.18 L1129.75 345.35 L1130.00 350.54 L1130.25 355.76 L1130.50 361.01 L1130.75 366.28 L1131.00 371.57 L1131.25 376.88 L1131.50 382.21 L1131.75 387.57 L1132.00 392.96 L1132.25 398.36 L1132.50 403.79 L1132.75 409.25 L1133.00 414.74 L1133.25 420.25 L1133.50 425.80 L1133.75 431.38 L1134.00 437.00 L1134.25 442.65 L1134.50 448.35 L1134.75 454.08 L1135.00 459.87 L1135.25 465.70 L1135.50 471.58 L1135.75 477.52 L1136.00 483.51 L1136.25 489.57 L1136.50 495.69 L1136.75 501.88 L1137.00 508.14 L1137.25 514.48 L1137.50 520.89 L1137.75 527.38 L1138.00 533.96 L1138.25 540.63 L1138.50 547.39 L1138.75 554.24 L1139.00 561.19 L1139.25 568.24 L1139.50 575.40 L1139.75 582.66 L1140.00 590.03 L1140.25 597.51 L1140.50 605.10 L1140.75 612.81 L1141.00 620.64 L1141.25 628.59 L1141.50 636.66 L1141.75 644.84 L1142.00 653.16 L1142.25 661.59 L1142.50 670.15 L1142.75 678.83 L1143.00 687.63 L1143.25 696.56 L1143.50 705.61 L1143.75 714.77 L1144.00 724.06 L1144.25 733.46 L1144.50 742.92 L1144.75 752.42 L1145.00 761.96 L1145.25 771.56 L1145.50 781.19 L1145.75 790.87 L1146.00 800.59 L1146.25 810.33 L1146.50 820.11 L1146.75 829.92 L1147.00 839.74 L1147.25 849.58 L1147.50 859.44 L1147.75 869.31 L1148.00 879.18 L1148.25 889.05 L1148.50 898.91 L1148.75 908.77 L1149.00 918.61 L1149.25 928.43 L1149.50 938.22 L1149.75 947.99 L1150.00 957.72 L1150.25 967.41 L1150.50 977.05 L1150.75 986.64 L1151.00 996.17 L1151.25 1005.64 L1151.50 1015.03 L1151.75 1024.35 L1152.00 1033.59 L1152.25 1042.74 L1152.50 1051.80 L1152.75 1060.75 L1153.00 1069.60 L1153.25 1078.34 L1153.50 1086.95 L1153.75 1095.44 L1154.00 1103.80 L1154.25 1112.02 L1154.50 1120.09 L1154.75 1128.02 L1155.00 1135.79 L1155.25 1143.39 L1155.50 1150.83 L1155.75 1158.09 L1156.00 1165.17 L1156.25 1172.07 L1156.50 1178.77 L1156.75 1185.28 L1157.00 1191.59 L1157.25 1197.69 L1157.50 1203.58 L1157.75 1209.26 L1158.00 1214.71 L1158.25 1219.94 L1158.50 1224.95 L1158.75 1229.72 L1159.00 1234.26 L1159.25 1238.56 L1159.50 1242.63 L1159.75 1246.45 L1160.00 1250.03 L1160.25 1253.36 L1160.50 1256.45 L1160.75 1259.29 L1161.00 1261.88 L1161.25 1264.23 L1161.50 1266.32 L1161.75 1268.17 L1162.00 1269.78 L1162.25 1271.13 L1162.50 1272.25 L1162.75 1273.12 L1163.00 1273.76 L1163.25 1274.15 L1163.50 1274.32 L1163.75 1274.25 L1164.00 1273.96 L1164.25 1273.44 L1164.50 1272.70 L1164.75 1271.75 L1165.00 1270.59 L1165.25 1269.22 L1165.50 1267.65 L1165.75 1265.88 L1166.00 1263.93 L1166.25 1261.79 L1166.50 1259.47 L1166.75 1256.98 L1167.00 1254.32 L1167.25 1251.51 L1167.50 1248.53 L1167.75 1245.41 L1168.00 1242.15 L1168.25 1238.74 L1168.50 1235.21 L1168.75 1231.56 L1169.00 1227.78 L1169.25 1223.90 L1169.50 1219.90 L1169.75 1215.81 L1170.00 1211.62 L1170.25 1207.35 L1170.50 1202.99 L1170.75 1198.55 L1171.00 1194.03 L1171.25 1189.45 L1171.50 1184.80 L1171.75 1180.10 L1172.00 1175.33 L1172.25 1170.52 L1172.50 1165.66 L1172.75 1160.75 L1173.00 1155.81 L1173.25 1150.82 L1173.50 1145.80 L1173.75 1140.75 L1174.00 1135.66 L1174.25 1130.55 L1174.50 1125.41 L1174.75 1120.25 L1175.00 1115.06 L1175.25 1109.84 L1175.50 1104.61 L1175.75 1099.35 L1176.00 1094.07 L1176.25 1088.77 L1176.50 1083.44 L1176.75 1078.09 L1177.00 1072.72 L1177.25 1067.32 L1177.50 1061.89 L1177.75 1056.44 L1178.00 1050.95 L1178.25 1045.44 L1178.50 1039.89 L1178.75 1034.31 L1179.00 1028.68 L1179.25 1023.02 L1179.50 1017.31 L1179.75 1011.56 L1180.00 1005.76 L1180.25 999.91 L1180.50 994.00 L1180.75 988.03 L1181.00 982.00 L1181.25 975.91 L1181.50 969.75 L1181.75 963.52 L1182.00 957.21 L1182.25 950.83 L1182.50 944.36 L1182.75 937.81 L1183.00 931.17 L1183.25 924.44 L1183.50 917.62 L1183.75 910.70 L1184.00 903.67 L1184.25 896.55 L1184.50 889.32 L1184.75 881.98 L1185.00 874.52 L1185.25 866.96 L1185.50 859.28 L1185.75 851.48 L1186.00 843.57 L1186.25 835.53 L1186.50 827.37 L1186.75 819.10 L1187.00 810.70 L1187.25 802.17 L1187.50 793.53 L1187.75 784.76 L1188.00 775.87 L1188.25 766.86 L1188.50 757.74 L1188.75 748.49 L1189.00 739.14 L1189.25 729.63 L1189.50 720.06 L1189.75 710.44 L1190.00 700.77 L1190.25 691.05 L1190.50 681.30 L1190.75 671.51 L1191.00 661.69 L1191.25 651.84 L1191.50 641.96 L1191.75 632.06 L1192.00 622.15 L1192.25 612.22 L1192.50 602.29 L1192.75 592.35 L1193.00 582.41 L1193.25 572.48 L1193.50 562.56 L1193.75 552.65 L1194.00 542.77 L1194.25 532.91 L1194.50 523.08 L1194.75 513.29 L1195.00 503.54 L1195.25 493.85 L1195.50 484.20 L1195.75 474.62 L1196.00 465.10 L1196.25 455.65 L1196.50 446.28 L1196.75 436.99 L1197.00 427.80 L1197.25 418.70 L1197.50 409.70 L1197.75 400.81 L1198.00 392.04 L1198.25 383.39 L1198.50 374.87 L1198.75 366.48 L1199.00 358.23 L1199.25 350.13 L1199.50 342.18 L1199.75 334.39 L1200.00 326.77 L1200.25 319.31 L1200.50 312.04 L1200.75 304.94 L1201.00 298.04 L1201.25 291.32 L1201.50 284.81 L1201.75 278.50 L1202.00 272.40 L1202.25 266.51 L1202.50 260.84 L1202.75 255.39 L1203.00 250.17 L1203.25 245.17 L1203.50 240.41 L1203.75 235.89 L1204.00 231.61 L1204.25 227.56 L1204.50 223.76 L1204.75 220.21 L1205.00 216.90 L1205.25 213.84 L1205.50 211.03 L1205.75 208.47 L1206.00 206.16 L1206.25 204.10 L1206.50 202.28 L1206.75 200.72 L1207.00 199.40 L1207.25 198.33 L1207.50 197.50 L1207.75 196.90 L1208.00 196.55 L1208.25 196.43 L1208.50 196.55 L1208.75 196.89 L1209.00 197.46 L1209.25 198.24 L1209.50 199.24 L1209.75 200.46 L1210.00 201.88 L1210.25 203.50 L1210.50 205.31 L1210.75 207.32 L1211.00 209.51 L1211.25 211.88 L1211.50 214.42 L1211.75 217.13 L1212.00 220.00 L1212.25 223.02 L1212.50 226.19 L1212.75 229.51 L1213.00 232.96 L1213.25 236.54 L1213.50 240.25 L1213.75 244.07 L1214.00 248.01 L1214.25 252.05 L1214.50 256.19 L1214.75 260.42 L1215.00 264.75 L1215.25 269.16 L1215.50 273.64 L1215.75 278.20 L1216.00 282.83 L1216.25 287.52 L1216.50 292.27 L1216.75 297.08 L1217.00 301.93 L1217.25 306.84 L1217.50 311.79 L1217.75 316.78 L1218.00 321.80 L1218.25 326.87 L1218.50 331.96 L1218.75 337.09 L1219.00 342.24 L1219.25 347.42 L1219.50 352.63 L1219.75 357.86 L1220.00 363.11 L1220.25 368.39 L1220.50 373.69 L1220.75 379.01 L1221.00 384.36 L1221.25 389.72 L1221.50 395.12 L1221.75 400.53 L1222.00 405.97 L1222.25 411.44 L1222.50 416.94 L1222.75 422.47 L1223.00 428.03 L1223.25 433.62 L1223.50 439.25 L1223.75 444.92 L1224.00 450.63 L1224.25 456.39 L1224.50 462.19 L1224.75 468.04 L1225.00 473.95 L1225.25 479.91 L1225.50 485.93 L1225.75 492.01 L1226.00 498.16 L1226.25 504.38 L1226.50 510.67 L1226.75 517.03 L1227.00 523.48 L1227.25 530.01 L1227.50 536.62 L1227.75 543.32 L1228.00 550.12 L1228.25 557.01 L1228.50 564.00 L1228.75 571.09 L1229.00 578.29 L1229.25 585.59 L1229.50 593.01 L1229.75 600.53 L1230.00 608.17 L1230.25 615.93 L1230.50 623.81 L1230.75 631.80 L1231.00 639.92 L1231.25 648.15 L1231.50 656.51 L1231.75 665.00 L1232.00 673.61 L1232.25 682.34 L1232.50 691.19 L1232.75 700.16 L1233.00 709.26 L1233.25 718.47 L1233.50 727.80 L1233.75 737.25 L1234.00 746.71 L1234.25 756.23 L1234.50 765.79 L1234.75 775.41 L1235.00 785.06 L1235.25 794.75 L1235.50 804.48 L1235.75 814.24 L1236.00 824.03 L1236.25 833.84 L1236.50 843.68 L1236.75 853.53 L1237.00 863.39 L1237.25 873.25 L1237.50 883.12 L1237.75 892.99 L1238.00 902.85 L1238.25 912.70 L1238.50 922.54 L1238.75 932.35 L1239.00 942.13 L1239.25 951.88 L1239.50 961.60 L1239.75 971.27 L1240.00 980.89 L1240.25 990.46 L1240.50 999.96 L1240.75 1009.40 L1241.00 1018.77 L1241.25 1028.06 L1241.50 1037.26 L1241.75 1046.38 L1242.00 1055.39 L1242.25 1064.31 L1242.50 1073.11 L1242.75 1081.80 L1243.00 1090.36 L1243.25 1098.80 L1243.50 1107.10 L1243.75 1115.27 L1244.00 1123.28 L1244.25 1131.15 L1244.50 1138.85 L1244.75 1146.39 L1245.00 1153.75 L1245.25 1160.95 L1245.50 1167.95 L1245.75 1174.77 L1246.00 1181.40 L1246.25 1187.83 L1246.50 1194.06 L1246.75 1200.07 L1247.00 1205.88 L1247.25 1211.46 L1247.50 1216.83 L1247.75 1221.97 L1248.00 1226.88 L1248.25 1231.56 L1248.50 1236.01 L1248.75 1240.22 L1249.00 1244.18 L1249.25 1247.91 L1249.50 1251.39 L1249.75 1254.63 L1250.00 1257.61 L1250.25 1260.36 L1250.50 1262.85 L1250.75 1265.09 L1251.00 1267.09 L1251.25 1268.84 L1251.50 1270.35 L1251.75 1271.61 L1252.00 1272.63 L1252.25 1273.41 L1252.50 1273.94 L1252.75 1274.25 L1253.00 1274.32 L1253.25 1274.16 L1253.50 1273.78 L1253.75 1273.17 L1254.00 1272.34 L1254.25 1271.31 L1254.50 1270.06 L1254.75 1268.61 L1255.00 1266.96 L1255.25 1265.12 L1255.50 1263.09 L1255.75 1260.88 L1256.00 1258.50 L1256.25 1255.94 L1256.50 1253.22 L1256.75 1250.33 L1257.00 1247.30 L1257.25 1244.12 L1257.50 1240.80 L1257.75 1237.35 L1258.00 1233.77 L1258.25 1230.06 L1258.50 1226.24 L1258.75 1222.31 L1259.00 1218.28 L1259.25 1214.15 L1259.50 1209.92 L1259.75 1205.61 L1260.00 1201.22 L1260.25 1196.75 L1260.50 1192.21 L1260.75 1187.60 L1261.00 1182.93 L1261.25 1178.20 L1261.50 1173.42 L1261.75 1168.58 L1262.00 1163.70 L1262.25 1158.78 L1262.50 1153.82 L1262.75 1148.82 L1263.00 1143.78 L1263.25 1138.72 L1263.50 1133.62 L1263.75 1128.50 L1264.00 1123.35 L1264.25 1118.17 L1264.50 1112.98 L1264.75 1107.75 L1265.00 1102.51 L1265.25 1097.24 L1265.50 1091.95 L1265.75 1086.64 L1266.00 1081.30 L1266.25 1075.94 L1266.50 1070.56 L1266.75 1065.15 L1267.00 1059.71 L1267.25 1054.25 L1267.50 1048.75 L1267.75 1043.22 L1268.00 1037.66 L1268.25 1032.06 L1268.50 1026.42 L1268.75 1020.74 L1269.00 1015.02 L1269.25 1009.25 L1269.50 1003.42 L1269.75 997.55 L1270.00 991.62 L1270.25 985.63 L1270.50 979.58 L1270.75 973.46 L1271.00 967.27 L1271.25 961.01 L1271.50 954.67 L1271.75 948.25 L1272.00 941.75 L1272.25 935.17 L1272.50 928.49 L1272.75 921.73 L1273.00 914.86 L1273.25 907.90 L1273.50 900.84 L1273.75 893.67 L1274.00 886.39 L1274.25 879.01 L1274.50 871.51 L1274.75 863.90 L1275.00 856.17 L1275.25 848.33 L1275.50 840.37 L1275.75 832.28 L1276.00 824.08 L1276.25 815.75 L1276.50 807.30 L1276.75 798.73 L1277.00 790.04 L1277.25 781.22 L1277.50 772.28 L1277.75 763.23 L1278.00 754.05 L1278.25 744.76 L1278.50 735.35 L1278.75 725.81 L1279.00 716.22 L1279.25 706.57 L1279.50 696.89 L1279.75 687.16 L1280.00 677.39 L1280.25 667.59 L1280.50 657.75 L1280.75 647.89 L1281.00 638.00 L1281.25 628.10 L1281.50 618.18 L1281.75 608.25 L1282.00 598.31 L1282.25 588.37 L1282.50 578.44 L1282.75 568.51 L1283.00 558.59 L1283.25 548.69 L1283.50 538.82 L1283.75 528.97 L1284.00 519.16 L1284.25 509.39 L1284.50 499.66 L1284.75 489.98 L1285.00 480.36 L1285.25 470.80 L1285.50 461.31 L1285.75 451.89 L1286.00 442.55 L1286.25 433.30 L1286.50 424.15 L1286.75 415.09 L1287.00 406.13 L1287.25 397.29 L1287.50 388.57 L1287.75 379.97 L1288.00 371.50 L1288.25 363.16 L1288.50 354.97 L1288.75 346.93 L1289.00 339.05 L1289.25 331.32 L1289.50 323.76 L1289.75 316.38 L1290.00 309.18 L1290.25 302.16 L1290.50 295.33 L1290.75 288.69 L1291.00 282.26 L1291.25 276.03 L1291.50 270.02 L1291.75 264.21 L1292.00 258.63 L1292.25 253.27 L1292.50 248.14 L1292.75 243.24 L1293.00 238.58 L1293.25 234.15 L1293.50 229.96 L1293.75 226.01 L1294.00 222.31 L1294.25 218.86 L1294.50 215.65 L1294.75 212.69 L1295.00 209.98 L1295.25 207.52 L1295.50 205.31 L1295.75 203.34 L1296.00 201.63 L1296.25 200.16 L1296.50 198.94 L1296.75 197.97 L1297.00 197.23 L1297.25 196.74 L1297.50 196.48 L1297.75 196.45 L1298.00 196.66 L1298.25 197.09 L1298.50 197.75 L1298.75 198.62 L1299.00 199.70 L1299.25 201.00 L1299.50 202.50 L1299.75 204.20 L1300.00 206.09 L1300.25 208.17 L1300.50 210.43 L1300.75 212.87 L1301.00 215.48 L1301.25 218.26 L1301.50 221.19 L1301.75 224.27 L1302.00 227.50 L1302.25 230.87 L1302.50 234.38 L1302.75 238.01 L1303.00 241.76 L1303.25 245.63 L1303.50 249.61 L1303.75 253.69 L1304.00 257.87 L1304.25 262.14 L1304.50 266.50 L1304.75 270.94 L1305.00 275.46 L1305.25 280.05 L1305.50 284.70 L1305.75 289.41 L1306.00 294.19 L1306.25 299.01 L1306.50 303.89 L1306.75 308.81 L1307.00 313.78 L1307.25 318.78 L1307.50 323.82 L1307.75 328.90 L1308.00 334.01 L1308.25 339.14 L1308.50 344.31 L1308.75 349.50 L1309.00 354.72 L1309.25 359.96 L1309.50 365.22 L1309.75 370.51 L1310.00 375.81 L1310.25 381.15 L1310.50 386.50 L1310.75 391.88 L1311.00 397.28 L1311.25 402.71 L1311.50 408.16 L1311.75 413.64 L1312.00 419.15 L1312.25 424.69 L1312.50 430.26 L1312.75 435.87 L1313.00 441.52 L1313.25 447.20 L1313.50 452.93 L1313.75 458.70 L1314.00 464.53 L1314.25 470.40 L1314.50 476.33 L1314.75 482.31 L1315.00 488.35 L1315.25 494.46 L1315.50 500.64 L1315.75 506.88 L1316.00 513.20 L1316.25 519.60 L1316.50 526.08 L1316.75 532.64 L1317.00 539.29 L1317.25 546.03 L1317.50 552.86 L1317.75 559.79 L1318.00 566.83 L1318.25 573.96 L1318.50 581.20 L1318.75 588.55 L1319.00 596.00 L1319.25 603.58 L1319.50 611.26 L1319.75 619.07 L1320.00 626.99 L1320.25 635.03 L1320.50 643.20 L1320.75 651.48 L1321.00 659.89 L1321.25 668.43 L1321.50 677.08 L1321.75 685.86 L1322.00 694.76 L1322.25 703.79 L1322.50 712.93 L1322.75 722.19 L1323.00 731.57 L1323.25 741.03 L1323.50 750.51 L1323.75 760.05 L1324.00 769.63 L1324.25 779.26 L1324.50 788.93 L1324.75 798.64 L1325.00 808.38 L1325.25 818.15 L1325.50 827.95 L1325.75 837.77 L1326.00 847.61 L1326.25 857.47 L1326.50 867.33 L1326.75 877.20 L1327.00 887.07 L1327.25 896.94 L1327.50 906.80 L1327.75 916.64 L1328.00 926.46 L1328.25 936.27 L1328.50 946.04 L1328.75 955.77 L1329.00 965.47 L1329.25 975.12 L1329.50 984.72 L1329.75 994.27 L1330.00 1003.75 L1330.25 1013.16 L1330.50 1022.49 L1330.75 1031.75 L1331.00 1040.92 L1331.25 1049.99 L1331.50 1058.97 L1331.75 1067.84 L1332.00 1076.60 L1332.25 1085.24 L1332.50 1093.75 L1332.75 1102.14 L1333.00 1110.39 L1333.25 1118.49 L1333.50 1126.45 L1333.75 1134.25 L1334.00 1141.88 L1334.25 1149.35 L1334.50 1156.65 L1334.75 1163.77 L1335.00 1170.70 L1335.25 1177.45 L1335.50 1184.00 L1335.75 1190.34 L1336.00 1196.49 L1336.25 1202.42 L1336.50 1208.14 L1336.75 1213.64 L1337.00 1218.91 L1337.25 1223.96 L1337.50 1228.78 L1337.75 1233.37 L1338.00 1237.72 L1338.25 1241.83 L1338.50 1245.70 L1338.75 1249.33 L1339.00 1252.71 L1339.25 1255.85 L1339.50 1258.74 L1339.75 1261.38 L1340.00 1263.78 L1340.25 1265.92 L1340.50 1267.82 L1340.75 1269.48 L1341.00 1270.88 L1341.25 1272.05 L1341.50 1272.97 L1341.75 1273.65 L1342.00 1274.09 L1342.25 1274.30 L1342.50 1274.28 L1342.75 1274.03 L1343.00 1273.56 L1343.25 1272.87 L1343.50 1271.96 L1343.75 1270.83 L1344.00 1269.51 L1344.25 1267.98 L1344.50 1266.25 L1344.75 1264.33 L1345.00 1262.23 L1345.25 1259.95 L1345.50 1257.49 L1345.75 1254.87 L1346.00 1252.08 L1346.25 1249.14 L1346.50 1246.05 L1346.75 1242.81 L1347.00 1239.44 L1347.25 1235.93 L1347.50 1232.30 L1347.75 1228.55 L1348.00 1224.68 L1348.25 1220.71 L1348.50 1216.64 L1348.75 1212.47 L1349.00 1208.21 L1349.25 1203.86 L1349.50 1199.44 L1349.75 1194.94 L1350.00 1190.37 L1350.25 1185.74 L1350.50 1181.04 L1350.75 1176.29 L1351.00 1171.49 L1351.25 1166.64 L1351.50 1161.74 L1351.75 1156.80 L1352.00 1151.82 L1352.25 1146.81 L1352.50 1141.76 L1352.75 1136.68 L1353.00 1131.58 L1353.25 1126.44 L1353.50 1121.28 L1353.75 1116.10 L1354.00 1110.89 L1354.25 1105.66 L1354.50 1100.40 L1354.75 1095.13 L1355.00 1089.83 L1355.25 1084.51 L1355.50 1079.16 L1355.75 1073.79 L1356.00 1068.40 L1356.25 1062.98 L1356.50 1057.53 L1356.75 1052.05 L1357.00 1046.54 L1357.25 1041.00 L1357.50 1035.42 L1357.75 1029.81 L1358.00 1024.16 L1358.25 1018.46 L1358.50 1012.72 L1358.75 1006.92 L1359.00 1001.08 L1359.25 995.18 L1359.50 989.23 L1359.75 983.22 L1360.00 977.14 L1360.25 970.99 L1360.50 964.77 L1360.75 958.48 L1361.00 952.11 L1361.25 945.66 L1361.50 939.13 L1361.75 932.51 L1362.00 925.80 L1362.25 918.99 L1362.50 912.09 L1362.75 905.09 L1363.00 897.98 L1363.25 890.77 L1363.50 883.45 L1363.75 876.02 L1364.00 868.48 L1364.25 860.82 L1364.50 853.05 L1364.75 845.16 L1365.00 837.15 L1365.25 829.02 L1365.50 820.76 L1365.75 812.39 L1366.00 803.89 L1366.25 795.27 L1366.50 786.52 L1366.75 777.66 L1367.00 768.67 L1367.25 759.57 L1367.50 750.35 L1367.75 741.02 L1368.00 731.54 L1368.25 721.98 L1368.50 712.36 L1368.75 702.70 L1369.00 693.00 L1369.25 683.25 L1369.50 673.47 L1369.75 663.66 L1370.00 653.81 L1370.25 643.94 L1370.50 634.04 L1370.75 624.13 L1371.00 614.21 L1371.25 604.27 L1371.50 594.33 L1371.75 584.40 L1372.00 574.46 L1372.25 564.54 L1372.50 554.63 L1372.75 544.74 L1373.00 534.88 L1373.25 525.04 L1373.50 515.25 L1373.75 505.49 L1374.00 495.78 L1374.25 486.13 L1374.50 476.53 L1374.75 466.99 L1375.00 457.53 L1375.25 448.15 L1375.50 438.84 L1375.75 429.63 L1376.00 420.51 L1376.25 411.49 L1376.50 402.58 L1376.75 393.79 L1377.00 385.11 L1377.25 376.56 L1377.50 368.15 L1377.75 359.87 L1378.00 351.74 L1378.25 343.76 L1378.50 335.94 L1378.75 328.28 L1379.00 320.79 L1379.25 313.48 L1379.50 306.35 L1379.75 299.40 L1380.00 292.65 L1380.25 286.10 L1380.50 279.74 L1380.75 273.60 L1381.00 267.67 L1381.25 261.95 L1381.50 256.46 L1381.75 251.19 L1382.00 246.15 L1382.25 241.35 L1382.50 236.78 L1382.75 232.44 L1383.00 228.35 L1383.25 224.50 L1383.50 220.90 L1383.75 217.54 L1384.00 214.43 L1384.25 211.57 L1384.50 208.96 L1384.75 206.60 L1385.00 204.49 L1385.25 202.63 L1385.50 201.01 L1385.75 199.64 L1386.00 198.52 L1386.25 197.64 L1386.50 197.00 L1386.75 196.60 L1387.00 196.44 L1387.25 196.51 L1387.50 196.80 L1387.75 197.33 L1388.00 198.07 L1388.25 199.03 L1388.50 200.20 L1388.75 201.58 L1389.00 203.16 L1389.25 204.93 L1389.50 206.90 L1389.75 209.05 L1390.00 211.39 L1390.25 213.90 L1390.50 216.57 L1390.75 219.41 L1391.00 222.40 L1391.25 225.55 L1391.50 228.84 L1391.75 232.26 L1392.00 235.82 L1392.25 239.50 L1392.50 243.30 L1392.75 247.21 L1393.00 251.23 L1393.25 255.35 L1393.50 259.57 L1393.75 263.88 L1394.00 268.27 L1394.25 272.74 L1394.50 277.28 L1394.75 281.90 L1395.00 286.58 L1395.25 291.32 L1395.50 296.11 L1395.75 300.96 L1396.00 305.85 L1396.25 310.79 L1396.50 315.78 L1396.75 320.80 L1397.00 325.85 L1397.25 330.94 L1397.50 336.06 L1397.75 341.21 L1398.00 346.38 L1398.25 351.58 L1398.50 356.81 L1398.75 362.06 L1399.00 367.33 L1399.25 372.63 L1399.50 377.94 L1399.75 383.28 L1400.00 388.65 L1400.25 394.04 L1400.50 399.45 L1400.75 404.88 L1401.00 410.35 L1401.25 415.84 L1401.50 421.36 L1401.75 426.91 L1402.00 432.50 L1402.25 438.12 L1402.50 443.79 L1402.75 449.49 L1403.00 455.24 L1403.25 461.03 L1403.50 466.87 L1403.75 472.76 L1404.00 478.71 L1404.25 484.72 L1404.50 490.79 L1404.75 496.92 L1405.00 503.13 L1405.25 509.40 L1405.50 515.75 L1405.75 522.18 L1406.00 528.69 L1406.25 535.29 L1406.50 541.97 L1406.75 548.75 L1407.00 555.62 L1407.25 562.59 L1407.50 569.67 L1407.75 576.84 L1408.00 584.12 L1408.25 591.52 L1408.50 599.02 L1408.75 606.64 L1409.00 614.37 L1409.25 622.22 L1409.50 630.19 L1409.75 638.28 L1410.00 646.50 L1410.25 654.83 L1410.50 663.29 L1410.75 671.87 L1411.00 680.58 L1411.25 689.41 L1411.50 698.36 L1411.75 707.43 L1412.00 716.62 L1412.25 725.93 L1412.50 735.35 L1412.75 744.82 L1413.00 754.32 L1413.25 763.88 L1413.50 773.48 L1413.75 783.13 L1414.00 792.81 L1414.25 802.53 L1414.50 812.29 L1414.75 822.07 L1415.00 831.88 L1415.25 841.71 L1415.50 851.55 L1415.75 861.41 L1416.00 871.28 L1416.25 881.15 L1416.50 891.02 L1416.75 900.88 L1417.00 910.74 L1417.25 920.57 L1417.50 930.39 L1417.75 940.18 L1418.00 949.94 L1418.25 959.66 L1418.50 969.34 L1418.75 978.97 L1419.00 988.55 L1419.25 998.07 L1419.50 1007.52 L1419.75 1016.90 L1420.00 1026.21 L1420.25 1035.43 L1420.50 1044.56 L1420.75 1053.60 L1421.00 1062.53 L1421.25 1071.36 L1421.50 1080.07 L1421.75 1088.66 L1422.00 1097.12 L1422.25 1105.45 L1422.50 1113.65 L1422.75 1121.69 L1423.00 1129.59 L1423.25 1137.32 L1423.50 1144.89 L1423.75 1152.29 L1424.00 1159.52 L1424.25 1166.57 L1424.50 1173.43 L1424.75 1180.09 L1425.00 1186.56 L1425.25 1192.83 L1425.50 1198.89 L1425.75 1204.73 L1426.00 1210.36 L1426.25 1215.78 L1426.50 1220.96 L1426.75 1225.92 L1427.00 1230.65 L1427.25 1235.14 L1427.50 1239.39 L1427.75 1243.41 L1428.00 1247.18 L1428.25 1250.71 L1428.50 1254.00 L1428.75 1257.04 L1429.00 1259.83 L1429.25 1262.37 L1429.50 1264.66 L1429.75 1266.71 L1430.00 1268.51 L1430.25 1270.07 L1430.50 1271.38 L1430.75 1272.44 L1431.00 1273.27 L1431.25 1273.86 L1431.50 1274.21 L1431.75 1274.32 L1432.00 1274.21 L1432.25 1273.87 L1432.50 1273.31 L1432.75 1272.53 L1433.00 1271.53 L1433.25 1270.33 L1433.50 1268.92 L1433.75 1267.31 L1434.00 1265.51 L1434.25 1263.52 L1434.50 1261.34 L1434.75 1258.99 L1435.00 1256.46 L1435.25 1253.77 L1435.50 1250.92 L1435.75 1247.92 L1436.00 1244.77 L1436.25 1241.48 L1436.50 1238.05 L1436.75 1234.49 L1437.00 1230.81 L1437.25 1227.01 L1437.50 1223.11 L1437.75 1219.09 L1438.00 1214.98 L1438.25 1210.78 L1438.50 1206.48 L1438.75 1202.10 L1439.00 1197.65 L1439.25 1193.12 L1439.50 1188.53 L1439.75 1183.87 L1440.00 1179.15 L1440.25 1174.38 L1440.50 1169.55 L1440.75 1164.68 L1441.00 1159.77 L1441.25 1154.81 L1441.50 1149.82 L1441.75 1144.79 L1442.00 1139.73 L1442.25 1134.64 L1442.50 1129.53 L1442.75 1124.38 L1443.00 1119.21 L1443.25 1114.02 L1443.50 1108.80 L1443.75 1103.56 L1444.00 1098.30 L1444.25 1093.01 L1444.50 1087.70 L1444.75 1082.37 L1445.00 1077.02 L1445.25 1071.64 L1445.50 1066.23 L1445.75 1060.80 L1446.00 1055.34 L1446.25 1049.85 L1446.50 1044.33 L1446.75 1038.78 L1447.00 1033.18 L1447.25 1027.55 L1447.50 1021.88 L1447.75 1016.17 L1448.00 1010.40 L1448.25 1004.59 L1448.50 998.73 L1448.75 992.81 L1449.00 986.83 L1449.25 980.79 L1449.50 974.69 L1449.75 968.51 L1450.00 962.26 L1450.25 955.94 L1450.50 949.54 L1450.75 943.06 L1451.00 936.49 L1451.25 929.84 L1451.50 923.09 L1451.75 916.24 L1452.00 909.30 L1452.25 902.26 L1452.50 895.11 L1452.75 887.86 L1453.00 880.49 L1453.25 873.02 L1453.50 865.43 L1453.75 857.73 L1454.00 849.91 L1454.25 841.97 L1454.50 833.91 L1454.75 825.73 L1455.00 817.43 L1455.25 809.00 L1455.50 800.45 L1455.75 791.78 L1456.00 782.99 L1456.25 774.08 L1456.50 765.05 L1456.75 755.90 L1457.00 746.63 L1457.25 737.25 L1457.50 727.72 L1457.75 718.14 L1458.00 708.51 L1458.25 698.83 L1458.50 689.11 L1458.75 679.35 L1459.00 669.55 L1459.25 659.72 L1459.50 649.86 L1459.75 639.98 L1460.00 630.08 L1460.25 620.16 L1460.50 610.23 L1460.75 600.30 L1461.00 590.36 L1461.25 580.42 L1461.50 570.49 L1461.75 560.57 L1462.00 550.67 L1462.25 540.79 L1462.50 530.94 L1462.75 521.12 L1463.00 511.34 L1463.25 501.60 L1463.50 491.91 L1463.75 482.28 L1464.00 472.71 L1464.25 463.20 L1464.50 453.77 L1464.75 444.42 L1465.00 435.15 L1465.25 425.97 L1465.50 416.89 L1465.75 407.92 L1466.00 399.05 L1466.25 390.30 L1466.50 381.68 L1466.75 373.18 L1467.00 364.82 L1467.25 356.60 L1467.50 348.53 L1467.75 340.61 L1468.00 332.85 L1468.25 325.26 L1468.50 317.84 L1468.75 310.60 L1469.00 303.55 L1469.25 296.68 L1469.50 290.00 L1469.75 283.53 L1470.00 277.26 L1470.25 271.20 L1470.50 265.36 L1470.75 259.73 L1471.00 254.33 L1471.25 249.15 L1471.50 244.20 L1471.75 239.49 L1472.00 235.01 L1472.25 230.78 L1472.50 226.78 L1472.75 223.03 L1473.00 219.53 L1473.25 216.27 L1473.50 213.26 L1473.75 210.50 L1474.00 207.99 L1474.25 205.73 L1474.50 203.72 L1474.75 201.95 L1475.00 200.44 L1475.25 199.17 L1475.50 198.14 L1475.75 197.36 L1476.00 196.82 L1476.25 196.51 L1476.50 196.44 L1476.75 196.60 L1477.00 196.99 L1477.25 197.60 L1477.50 198.43 L1477.75 199.47 L1478.00 200.72 L1478.25 202.18 L1478.50 203.84 L1478.75 205.70 L1479.00 207.74 L1479.25 209.97 L1479.50 212.37 L1479.75 214.95 L1480.00 217.69 L1480.25 220.59 L1480.50 223.64 L1480.75 226.85 L1481.00 230.19 L1481.25 233.67 L1481.50 237.27 L1481.75 241.00 L1482.00 244.85 L1482.25 248.81 L1482.50 252.87 L1482.75 257.03 L1483.00 261.28 L1483.25 265.62 L1483.50 270.05 L1483.75 274.55 L1484.00 279.12 L1484.25 283.76 L1484.50 288.47 L1484.75 293.23 L1485.00 298.05 L1485.25 302.91 L1485.50 307.83 L1485.75 312.78 L1486.00 317.78 L1486.25 322.81 L1486.50 327.88 L1486.75 332.98 L1487.00 338.11 L1487.25 343.27 L1487.50 348.46 L1487.75 353.67 L1488.00 358.91 L1488.25 364.17 L1488.50 369.45 L1488.75 374.75 L1489.00 380.08 L1489.25 385.43 L1489.50 390.80 L1489.75 396.20 L1490.00 401.62 L1490.25 407.07 L1490.50 412.54 L1490.75 418.04 L1491.00 423.58 L1491.25 429.15 L1491.50 434.75 L1491.75 440.38 L1492.00 446.06 L1492.25 451.78 L1492.50 457.55 L1492.75 463.36 L1493.00 469.22 L1493.25 475.14 L1493.50 481.11 L1493.75 487.14 L1494.00 493.24 L1494.25 499.40 L1494.50 505.63 L1494.75 511.93 L1495.00 518.32 L1495.25 524.78 L1495.50 531.32 L1495.75 537.95 L1496.00 544.67 L1496.25 551.49 L1496.50 558.40 L1496.75 565.41 L1497.00 572.52 L1497.25 579.74 L1497.50 587.07 L1497.75 594.50 L1498.00 602.05 L1498.25 609.72 L1498.50 617.50 L1498.75 625.40 L1499.00 633.41 L1499.25 641.55 L1499.50 649.82 L1499.75 658.20 L1500.00 666.71 L1500.25 675.34 L1500.50 684.10 L1500.75 692.97 L1501.00 701.97 L1501.25 711.09 L1501.50 720.33 L1501.75 729.68 L1502.00 739.14 L1502.25 748.61 L1502.50 758.14 L1502.75 767.71 L1503.00 777.33 L1503.25 787.00 L1503.50 796.70 L1503.75 806.43 L1504.00 816.20 L1504.25 825.99 L1504.50 835.81 L1504.75 845.65 L1505.00 855.50 L1505.25 865.36 L1505.50 875.23 L1505.75 885.10 L1506.00 894.97 L1506.25 904.83 L1506.50 914.67 L1506.75 924.50 L1507.00 934.31 L1507.25 944.09 L1507.50 953.83 L1507.75 963.54 L1508.00 973.20 L1508.25 982.81 L1508.50 992.36 L1508.75 1001.86 L1509.00 1011.28 L1509.25 1020.63 L1509.50 1029.91 L1509.75 1039.09 L1510.00 1048.19 L1510.25 1057.18 L1510.50 1066.08 L1510.75 1074.86 L1511.00 1083.52 L1511.25 1092.06 L1511.50 1100.47 L1511.75 1108.75 L1512.00 1116.88 L1512.25 1124.87 L1512.50 1132.70 L1512.75 1140.37 L1513.00 1147.87 L1513.25 1155.21 L1513.50 1162.36 L1513.75 1169.33 L1514.00 1176.12 L1514.25 1182.70 L1514.50 1189.09 L1514.75 1195.28 L1515.00 1201.25 L1515.25 1207.01 L1515.50 1212.56 L1515.75 1217.88 L1516.00 1222.97 L1516.25 1227.84 L1516.50 1232.47 L1516.75 1236.87 L1517.00 1241.03 L1517.25 1244.95 L1517.50 1248.62 L1517.75 1252.06 L1518.00 1255.24 L1518.25 1258.18 L1518.50 1260.87 L1518.75 1263.32 L1519.00 1265.51 L1519.25 1267.46 L1519.50 1269.16 L1519.75 1270.62 L1520.00 1271.83 L1520.25 1272.80 L1520.50 1273.53 L1520.75 1274.02 L1521.00 1274.28 L1521.25 1274.30 L1521.50 1274.10 L1521.75 1273.67 L1522.00 1273.02 L1522.25 1272.15 L1522.50 1271.08 L1522.75 1269.79 L1523.00 1268.30 L1523.25 1266.61 L1523.50 1264.73 L1523.75 1262.67 L1524.00 1260.42 L1524.25 1258.00 L1524.50 1255.41 L1524.75 1252.65 L1525.00 1249.74 L1525.25 1246.68 L1525.50 1243.47 L1525.75 1240.12 L1526.00 1236.64 L1526.25 1233.03 L1526.50 1229.31 L1526.75 1225.46 L1527.00 1221.51 L1527.25 1217.46 L1527.50 1213.31 L1527.75 1209.07 L1528.00 1204.74 L1528.25 1200.33 L1528.50 1195.85 L1528.75 1191.29 L1529.00 1186.67 L1529.25 1181.99 L1529.50 1177.25 L1529.75 1172.45 L1530.00 1167.61 L1530.25 1162.72 L1530.50 1157.79 L1530.75 1152.82 L1531.00 1147.81 L1531.25 1142.77 L1531.50 1137.70 L1531.75 1132.60 L1532.00 1127.47 L1532.25 1122.32 L1532.50 1117.14 L1532.75 1111.93 L1533.00 1106.71 L1533.25 1101.46 L1533.50 1096.18 L1533.75 1090.89 L1534.00 1085.57 L1534.25 1080.23 L1534.50 1074.87 L1534.75 1069.48 L1535.00 1064.06 L1535.25 1058.62 L1535.50 1053.15 L1535.75 1047.65 L1536.00 1042.11 L1536.25 1036.54 L1536.50 1030.94 L1536.75 1025.29 L1537.00 1019.60 L1537.25 1013.87 L1537.50 1008.09 L1537.75 1002.25 L1538.00 996.37 L1538.25 990.43 L1538.50 984.42 L1538.75 978.36 L1539.00 972.22 L1539.25 966.02 L1539.50 959.75 L1539.75 953.39 L1540.00 946.96 L1540.25 940.44 L1540.50 933.84 L1540.75 927.15 L1541.00 920.36 L1541.25 913.48 L1541.50 906.50 L1541.75 899.41 L1542.00 892.22 L1542.25 884.93 L1542.50 877.52 L1542.75 870.00 L1543.00 862.37 L1543.25 854.62 L1543.50 846.75 L1543.75 838.76 L1544.00 830.65 L1544.25 822.42 L1544.50 814.07 L1544.75 805.60 L1545.00 797.00 L1545.25 788.28 L1545.50 779.44 L1545.75 770.48 L1546.00 761.40 L1546.25 752.20 L1546.50 742.89 L1546.75 733.44 L1547.00 723.89 L1547.25 714.29 L1547.50 704.64 L1547.75 694.94 L1548.00 685.21 L1548.25 675.43 L1548.50 665.62 L1548.75 655.78 L1549.00 645.91 L1549.25 636.02 L1549.50 626.12 L1549.75 616.19 L1550.00 606.26 L1550.25 596.32 L1550.50 586.38 L1550.75 576.45 L1551.00 566.52 L1551.25 556.61 L1551.50 546.72 L1551.75 536.85 L1552.00 527.01 L1552.25 517.20 L1552.50 507.44 L1552.75 497.72 L1553.00 488.05 L1553.25 478.44 L1553.50 468.90 L1553.75 459.42 L1554.00 450.02 L1554.25 440.70 L1554.50 431.46 L1554.75 422.33 L1555.00 413.29 L1555.25 404.36 L1555.50 395.54 L1555.75 386.84 L1556.00 378.26 L1556.25 369.82 L1556.50 361.51 L1556.75 353.35 L1557.00 345.34 L1557.25 337.49 L1557.50 329.80 L1557.75 322.27 L1558.00 314.93 L1558.25 307.76 L1558.50 300.77 L1558.75 293.98 L1559.00 287.39 L1559.25 281.00 L1559.50 274.81 L1559.75 268.84 L1560.00 263.08 L1560.25 257.54 L1560.50 252.23 L1560.75 247.14 L1561.00 242.29 L1561.25 237.67 L1561.50 233.29 L1561.75 229.15 L1562.00 225.25 L1562.25 221.60 L1562.50 218.19 L1562.75 215.04 L1563.00 212.13 L1563.25 209.47 L1563.50 207.05 L1563.75 204.89 L1564.00 202.98 L1564.25 201.32 L1564.50 199.90 L1564.75 198.73 L1565.00 197.80 L1565.25 197.11 L1565.50 196.67 L1565.75 196.45 L1566.00 196.48 L1566.25 196.73 L1566.50 197.20 L1566.75 197.90 L1567.00 198.82 L1567.25 199.95 L1567.50 201.28 L1567.75 202.82 L1568.00 204.56 L1568.25 206.49 L1568.50 208.61 L1568.75 210.91 L1569.00 213.38 L1569.25 216.02 L1569.50 218.83 L1569.75 221.79 L1570.00 224.91 L1570.25 228.17 L1570.50 231.57 L1570.75 235.10 L1571.00 238.75 L1571.25 242.53 L1571.50 246.42 L1571.75 250.42 L1572.00 254.52 L1572.25 258.72 L1572.50 263.01 L1572.75 267.38 L1573.00 271.84 L1573.25 276.37 L1573.50 280.97 L1573.75 285.64 L1574.00 290.36 L1574.25 295.15 L1574.50 299.99 L1574.75 304.87 L1575.00 309.80 L1575.25 314.78 L1575.50 319.79 L1575.75 324.84 L1576.00 329.92 L1576.25 335.03 L1576.50 340.18 L1576.75 345.35 L1577.00 350.54 L1577.25 355.76 L1577.50 361.01 L1577.75 366.28 L1578.00 371.57 L1578.25 376.88 L1578.50 382.21 L1578.75 387.57 L1579.00 392.96 L1579.25 398.36 L1579.50 403.79 L1579.75 409.25 L1580.00 414.74 L1580.25 420.25 L1580.50 425.80 L1580.75 431.38 L1581.00 437.00 L1581.25 442.65 L1581.50 448.35 L1581.75 454.08 L1582.00 459.87 L1582.25 465.70 L1582.50 471.58 L1582.75 477.52 L1583.00 483.51 L1583.25 489.57 L1583.50 495.69 L1583.75 501.88 L1584.00 508.14 L1584.25 514.48 L1584.50 520.89 L1584.75 527.38 L1585.00 533.96 L1585.25 540.63 L1585.50 547.39 L1585.75 554.24 L1586.00 561.19 L1586.25 568.24 L1586.50 575.40 L1586.75 582.66 L1587.00 590.03 L1587.25 597.51 L1587.50 605.10 L1587.75 612.81 L1588.00 620.64 L1588.25 628.59 L1588.50 636.66 L1588.75 644.84 L1589.00 653.16 L1589.25 661.59 L1589.50 670.15 L1589.75 678.83 L1590.00 687.63 L1590.25 696.56 L1590.50 705.61 L1590.75 714.77 L1591.00 724.06 L1591.25 733.46 L1591.50 742.92 L1591.75 752.42 L1592.00 761.96 L1592.25 771.56 L1592.50 781.19 L1592.75 790.87 L1593.00 800.59 L1593.25 810.33 L1593.50 820.11 L1593.75 829.92 L1594.00 839.74 L1594.25 849.58 L1594.50 859.44 L1594.75 869.31 L1595.00 879.18 L1595.25 889.05 L1595.50 898.91 L1595.75 908.77 L1596.00 918.61 L1596.25 928.43 L1596.50 938.22 L1596.75 947.99 L1597.00 957.72 L1597.25 967.41 L1597.50 977.05 L1597.75 986.64 L1598.00 996.17 L1598.25 1005.64 L1598.50 1015.03 L1598.75 1024.35 L1599.00 1033.59 L1599.25 1042.74 L1599.50 1051.80 L1599.75 1060.75 L1600.00 1069.60 L1600.25 1078.34 L1600.50 1086.95 L1600.75 1095.44 L1601.00 1103.80 L1601.25 1112.02 L1601.50 1120.09 L1601.75 1128.02 L1602.00 1135.79 L1602.25 1143.39 L1602.50 1150.83 L1602.75 1158.09 L1603.00 1165.17 L1603.25 1172.07 L1603.50 1178.77 L1603.75 1185.28 L1604.00 1191.59 L1604.25 1197.69 L1604.50 1203.58 L1604.75 1209.26 L1605.00 1214.71 L1605.25 1219.94 L1605.50 1224.95 L1605.75 1229.72 L1606.00 1234.26 L1606.25 1238.56 L1606.50 1242.63 L1606.75 1246.45 L1607.00 1250.03 L1607.25 1253.36 L1607.50 1256.45 L1607.75 1259.29 L1608.00 1261.88 L1608.25 1264.23 L1608.50 1266.32 L1608.75 1268.17 L1609.00 1269.78 L1609.25 1271.13 L1609.50 1272.25 L1609.75 1273.12 L1610.00 1273.76 L1610.25 1274.15 L1610.50 1274.32 L1610.75 1274.25 L1611.00 1273.96 L1611.25 1273.44 L1611.50 1272.70 L1611.75 1271.75 L1612.00 1270.59 L1612.25 1269.22 L1612.50 1267.65 L1612.75 1265.88 L1613.00 1263.93 L1613.25 1261.79 L1613.50 1259.47 L1613.75 1256.98 L1614.00 1254.32 L1614.25 1251.51 L1614.50 1248.53 L1614.75 1245.41 L1615.00 1242.15 L1615.25 1238.74 L1615.50 1235.21 L1615.75 1231.56 L1616.00 1227.78 L1616.25 1223.90 L1616.50 1219.90 L1616.75 1215.81 L1617.00 1211.62 L1617.25 1207.35 L1617.50 1202.99 L1617.75 1198.55 L1618.00 1194.03 L1618.25 1189.45 L1618.50 1184.80 L1618.75 1180.10 L1619.00 1175.33 L1619.25 1170.52 L1619.50 1165.66 L1619.75 1160.75 L1620.00 1155.81 L1620.25 1150.82 L1620.50 1145.80 L1620.75 1140.75 L1621.00 1135.66 L1621.25 1130.55 L1621.50 1125.41 L1621.75 1120.25 L1622.00 1115.06 L1622.25 1109.84 L1622.50 1104.61 L1622.75 1099.35 L1623.00 1094.07 L1623.25 1088.77 L1623.50 1083.44 L1623.75 1078.09 L1624.00 1072.72 L1624.25 1067.32 L1624.50 1061.89 L1624.75 1056.44 L1625.00 1050.95 L1625.25 1045.44 L1625.50 1039.89 L1625.75 1034.31 L1626.00 1028.68 L1626.25 1023.02 L1626.50 1017.31 L1626.75 1011.56 L1627.00 1005.76 L1627.25 999.91 L1627.50 994.00 L1627.75 988.03 L1628.00 982.00 L1628.25 975.91 L1628.50 969.75 L1628.75 963.52 L1629.00 957.21 L1629.25 950.83 L1629.50 944.36 L1629.75 937.81 L1630.00 931.17 L1630.25 924.44 L1630.50 917.62 L1630.75 910.70 L1631.00 903.67 L1631.25 896.55 L1631.50 889.32 L1631.75 881.98 L1632.00 874.52 L1632.25 866.96 L1632.50 859.28 L1632.75 851.48 L1633.00 843.57 L1633.25 835.53 L1633.50 827.37 L1633.75 819.10 L1634.00 810.70 L1634.25 802.17 L1634.50 793.53 L1634.75 784.76 L1635.00 775.87 L1635.25 766.86 L1635.50 757.74 L1635.75 748.49 L1636.00 739.14 L1636.25 729.72 L1636.50 720.25 L1636.75 710.74 L1637.00 701.17 L1637.25 691.57 L1637.50 681.93 L1637.75 672.25 L1638.00 662.54 L1638.25 652.80 L1638.50 643.03 L1638.75 633.25 L1639.00 623.44 L1639.25 613.63 L1639.50 603.80 L1639.75 593.97 L1640.00 584.15 L1640.25 574.32 L1640.50 564.51 L1640.75 554.71 L1641.00 544.93 L1641.25 535.17 L1641.50 525.45 L1641.75 515.76 L1642.00 506.11 L1642.25 496.50 L1642.50 486.95 L1642.75 477.45 L1643.00 468.02 L1643.25 458.65 L1643.50 449.36 L1643.75 440.15 L1644.00 431.02 L1644.25 421.99 L1644.50 413.05 L1644.75 404.22 L1645.00 395.50 L1645.25 386.90 L1645.50 378.42 L1645.75 370.06 L1646.00 361.84 L1646.25 353.77 L1646.50 345.84 L1646.75 338.06 L1647.00 330.44 L1647.25 322.99 L1647.50 315.70 L1647.75 308.59 L1648.00 301.66 L1648.25 294.92 L1648.50 288.37 L1648.75 282.02 L1649.00 275.87 L1649.25 269.92 L1649.50 264.19 L1649.75 258.67 L1650.00 253.36 L1650.25 248.28 L1650.50 243.43 L1650.75 238.81 L1651.00 234.41 L1651.25 230.26 L1651.50 226.33 L1651.75 222.65 L1652.00 219.21 L1652.25 216.01 L1652.50 213.05 L1652.75 210.34 L1653.00 207.87 L1653.25 205.64 L1653.50 203.66 L1653.75 201.92 L1654.00 200.43 L1654.25 199.17 L1654.50 198.16 L1654.75 197.38 L1655.00 196.83 L1655.25 196.52 L1655.50 196.44 L1655.75 196.58 L1656.00 196.95 L1656.25 197.53 L1656.50 198.33 L1656.75 199.34 L1657.00 200.55 L1657.25 201.97 L1657.50 203.58 L1657.75 205.39 L1658.00 207.38 L1658.25 209.55 L1658.50 211.89 L1658.75 214.41 L1659.00 217.08 L1659.25 219.92 L1659.50 222.91 L1659.75 226.04 L1660.00 229.31 L1660.25 232.71 L1660.50 236.25 L1660.75 239.90 L1661.00 243.67 L1661.25 247.55 L1661.50 251.53 L1661.75 255.62 L1662.00 259.79 L1662.25 264.05 L1662.50 268.40 L1662.75 272.82 L1663.00 277.32 L1663.25 281.88 L1663.50 286.51 L1663.75 291.19 L1664.00 295.94 L1664.25 300.73 L1664.50 305.57 L1664.75 310.45 L1665.00 315.37 L1665.25 320.33 L1665.50 325.33 L1665.75 330.36 L1666.00 335.42 L1666.25 340.50 L1666.50 345.62 L1666.75 350.76 L1667.00 355.92 L1667.25 361.11 L1667.50 366.32 L1667.75 371.55 L1668.00 376.81 L1668.25 382.08 L1668.50 387.38 L1668.75 392.70 L1669.00 398.05 L1669.25 403.42 L1669.50 408.81 L1669.75 414.24 L1670.00 419.69 L1670.25 425.17 L1670.50 430.69 L1670.75 436.23 L1671.00 441.82 L1671.25 447.45 L1671.50 453.11 L1671.75 458.82 L1672.00 464.58 L1672.25 470.39 L1672.50 476.25 L1672.75 482.17 L1673.00 488.14 L1673.25 494.18 L1673.50 500.28 L1673.75 506.46 L1674.00 512.70 L1674.25 519.02 L1674.50 525.42 L1674.75 531.90 L1675.00 538.46 L1675.25 545.12 L1675.50 551.86 L1675.75 558.70 L1676.00 565.64 L1676.25 572.68 L1676.50 579.82 L1676.75 587.06 L1677.00 594.41 L1677.25 601.88 L1677.50 609.45 L1677.75 617.14 L1678.00 624.95 L1678.25 632.87 L1678.50 640.91 L1678.75 649.07 L1679.00 657.35 L1679.25 665.76 L1679.50 674.28 L1679.75 682.92 L1680.00 691.68 L1680.25 700.56 L1680.50 709.56 L1680.75 718.68 L1681.00 727.91 L1681.25 737.25 L1681.50 746.82 L1681.75 756.45 L1682.00 766.12 L1682.25 775.84 L1682.50 785.61 L1682.75 795.41 L1683.00 805.25 L1683.25 815.13 L1683.50 825.03 L1683.75 834.96 L1684.00 844.90 L1684.25 854.86 L1684.50 864.84 L1684.75 874.82 L1685.00 884.80 L1685.25 894.78 L1685.50 904.75 L1685.75 914.71 L1686.00 924.65 L1686.25 934.56 L1686.50 944.45 L1686.75 954.31 L1687.00 964.12 L1687.25 973.89 L1687.33 977.13"/>
<path stroke="#0000ff" stroke-width="12.00" stroke-dasharray="12 9.82" d="M206.50 725.09 L206.75 705.94 L207.00 690.43 L207.25 676.01 L207.50 662.23 L207.75 648.91 L208.00 635.95 L208.25 623.28 L208.50 610.86 L208.75 598.67 L209.00 586.68 L209.25 574.88 L209.50 563.27 L209.75 551.82 L210.00 540.55 L210.25 529.44 L210.50 518.49 L210.75 507.71 L211.00 497.09 L211.25 486.64 L211.50 476.35 L211.75 466.23 L212.00 456.28 L212.25 446.50 L212.50 436.89 L212.75 427.47 L213.00 418.22 L213.25 409.16 L213.50 400.28 L213.75 391.60 L214.00 383.11 L214.25 374.81 L214.50 366.72 L214.75 358.83 L215.00 351.15 L215.25 343.68 L215.50 336.42 L215.75 329.38 L216.00 322.56 L216.25 315.95 L216.50 309.58 L216.75 303.43 L217.00 297.50 L217.25 291.81 L217.50 286.35 L217.75 281.12 L218.00 276.13 L218.25 271.37 L218.50 266.85 L218.75 262.56 L219.00 258.52 L219.25 254.71 L219.50 251.13 L219.75 247.79 L220.00 244.69 L220.25 241.82 L220.50 239.19 L220.75 236.79 L221.00 234.62 L221.25 232.67 L221.50 230.95 L221.75 229.46 L222.00 228.18 L222.25 227.13 L222.50 226.28 L222.75 225.65 L223.00 225.23 L223.25 225.01 L223.50 224.99 L223.75 225.22 L224.00 225.70 L224.25 226.43 L224.50 227.40 L224.75 228.60 L225.00 230.03 L225.25 231.68 L225.50 233.55 L225.75 235.62 L226.00 237.89 L226.25 240.35 L226.50 243.00 L226.75 245.82 L227.00 248.81 L227.25 251.96 L227.50 255.25 L227.75 258.69 L228.00 262.26 L228.25 265.95 L228.50 269.77 L228.75 273.69 L229.00 277.71 L229.25 281.82 L229.50 286.02 L229.75 290.30 L230.00 294.65 L230.25 299.06 L230.50 303.53 L230.75 308.06 L231.00 312.63 L231.25 317.24 L231.50 321.88 L231.75 326.56 L232.00 331.26 L232.25 335.98 L232.50 340.73 L232.75 345.48 L233.00 350.25 L233.25 355.03 L233.50 359.81 L233.75 364.59 L234.00 369.38 L234.25 374.16 L234.50 378.95 L234.75 383.73 L235.00 388.51 L235.25 393.28 L235.50 398.05 L235.75 402.81 L236.00 407.56 L236.25 412.32 L236.50 417.06 L236.75 421.80 L237.00 426.53 L237.25 431.27 L237.50 435.99 L237.75 440.72 L238.00 445.44 L238.25 450.17 L238.50 454.89 L238.75 459.62 L239.00 464.35 L239.25 469.08 L239.50 473.82 L239.75 478.57 L240.00 483.32 L240.25 488.09 L240.50 492.87 L240.75 497.66 L241.00 502.46 L241.25 507.28 L241.50 512.11 L241.75 516.97 L242.00 521.84 L242.25 526.74 L242.50 531.66 L242.75 536.60 L243.00 541.57 L243.25 546.56 L243.50 551.59 L243.75 556.64 L244.00 561.72 L244.25 566.83 L244.50 571.98 L244.75 577.16 L245.00 582.37 L245.25 587.63 L245.50 592.91 L245.75 598.24 L246.00 603.61 L246.25 609.01 L246.50 614.46 L246.75 619.95 L247.00 625.48 L247.25 631.06 L247.50 636.68 L247.75 642.35 L248.00 648.07 L248.25 653.83 L248.50 659.64 L248.75 665.50 L249.00 671.41 L249.25 677.37 L249.50 683.38 L249.75 689.44 L250.00 695.55 L250.25 701.72 L250.50 707.94 L250.75 714.21 L251.00 720.54 L251.25 726.92 L251.50 733.36 L251.75 740.21 L252.00 747.63 L252.25 755.09 L252.50 762.58 L252.75 770.11 L253.00 777.68 L253.25 785.27 L253.50 792.89 L253.75 800.53 L254.00 808.19 L254.25 815.87 L254.50 823.57 L254.75 831.28 L255.00 838.99 L255.25 846.71 L255.50 854.44 L255.75 862.16 L256.00 869.87 L256.25 877.58 L256.50 885.27 L256.75 892.94 L257.00 900.59 L257.25 908.22 L257.50 915.82 L257.75 923.38 L258.00 930.91 L258.25 938.39 L258.50 945.83 L258.75 953.22 L259.00 960.55 L259.25 967.82 L259.50 975.02 L259.75 982.16 L260.00 989.22 L260.25 996.21 L260.50 1003.10 L260.75 1009.91 L261.00 1016.63 L261.25 1023.25 L261.50 1029.77 L261.75 1036.18 L262.00 1042.47 L262.25 1048.65 L262.50 1054.71 L262.75 1060.65 L263.00 1066.45 L263.25 1072.11 L263.50 1077.64 L263.75 1083.03 L264.00 1088.26 L264.25 1093.35 L264.50 1098.28 L264.75 1103.05 L265.00 1107.66 L265.25 1112.10 L265.50 1116.38 L265.75 1120.48 L266.00 1124.41 L266.25 1128.16 L266.50 1131.72 L266.75 1135.11 L267.00 1138.31 L267.25 1141.33 L267.50 1144.16 L267.75 1146.80 L268.00 1149.25 L268.25 1151.51 L268.50 1153.58 L268.75 1155.46 L269.00 1157.15 L269.25 1158.65 L269.50 1159.96 L269.75 1161.08 L270.00 1162.01 L270.25 1162.75 L270.50 1163.31 L270.75 1163.69 L271.00 1163.88 L271.25 1163.90 L271.50 1163.74 L271.75 1163.41 L272.00 1162.90 L272.25 1162.23 L272.50 1161.40 L272.75 1160.40 L273.00 1159.25 L273.25 1157.95 L273.50 1156.50 L273.75 1154.90 L274.00 1153.16 L274.25 1151.29 L274.50 1149.29 L274.75 1147.16 L275.00 1144.90 L275.25 1142.53 L275.50 1140.05 L275.75 1137.46 L276.00 1134.76 L276.25 1131.97 L276.50 1129.08 L276.75 1126.11 L277.00 1123.04 L277.25 1119.90 L277.50 1116.68 L277.75 1113.39 L278.00 1110.03 L278.25 1106.60 L278.50 1103.12 L278.75 1099.58 L279.00 1095.99 L279.25 1092.34 L279.50 1088.66 L279.75 1084.93 L280.00 1081.16 L280.25 1077.35 L280.50 1073.51 L280.75 1069.64 L281.00 1065.74 L281.25 1061.81 L281.50 1057.86 L281.75 1053.88 L282.00 1049.88 L282.25 1045.86 L282.50 1041.82 L282.75 1037.77 L283.00 1033.69 L283.25 1029.60 L283.50 1025.48 L283.75 1021.35 L284.00 1017.21 L284.25 1013.04 L284.50 1008.86 L284.75 1004.66 L285.00 1000.44 L285.25 996.20 L285.50 991.94 L285.75 987.66 L286.00 983.35 L286.25 979.02 L286.50 974.66 L286.75 970.27 L287.00 965.85 L287.25 961.40 L287.50 956.91 L287.75 952.39 L288.00 947.82 L288.25 943.22 L288.50 938.57 L288.75 933.88 L289.00 929.14 L289.25 924.34 L289.50 919.49 L289.75 914.59 L290.00 909.63 L290.25 904.60 L290.50 899.52 L290.75 894.36 L291.00 889.14 L291.25 883.84 L291.50 878.48 L291.75 873.03 L292.00 867.51 L292.25 861.91 L292.50 856.22 L292.75 850.45 L293.00 844.60 L293.25 838.65 L293.50 832.62 L293.75 826.50 L294.00 820.28 L294.25 813.98 L294.50 807.58 L294.75 801.08 L295.00 794.49 L295.25 787.81 L295.50 781.03 L295.75 774.16 L296.00 767.20 L296.25 760.14 L296.50 752.99 L296.75 745.76 L297.00 738.43 L297.25 730.19 L297.50 721.74 L297.75 713.25 L298.00 704.71 L298.25 696.14 L298.50 687.54 L298.75 678.90 L299.00 670.23 L299.25 661.54 L299.50 652.82 L299.75 644.09 L300.00 635.34 L300.25 626.58 L300.50 617.81 L300.75 609.04 L301.00 600.27 L301.25 591.50 L301.50 582.74 L301.75 574.00 L302.00 565.27 L302.25 556.56 L302.50 547.88 L302.75 539.23 L303.00 530.62 L303.25 522.04 L303.50 513.51 L303.75 505.03 L304.00 496.61 L304.25 488.25 L304.50 479.95 L304.75 471.72 L305.00 463.57 L305.25 455.50 L305.50 447.52 L305.75 439.63 L306.00 431.83 L306.25 424.14 L306.50 416.56 L306.75 409.09 L307.00 401.74 L307.25 394.52 L307.50 387.42 L307.75 380.46 L308.00 373.64 L308.25 366.97 L308.50 360.44 L308.75 354.07 L309.00 347.86 L309.25 341.82 L309.50 335.95 L309.75 330.25 L310.00 324.72 L310.25 319.38 L310.50 314.23 L310.75 309.27 L311.00 304.50 L311.25 299.93 L311.50 295.56 L311.75 291.39 L312.00 287.42 L312.25 283.67 L312.50 280.12 L312.75 276.79 L313.00 273.67 L313.25 270.76 L313.50 268.07 L313.75 265.60 L314.00 263.34 L314.25 261.30 L314.50 259.48 L314.75 257.87 L315.00 256.48 L315.25 255.31 L315.50 254.34 L315.75 253.59 L316.00 253.05 L316.25 252.71 L316.50 252.58 L316.75 252.65 L317.00 252.92 L317.25 253.38 L317.50 254.04 L317.75 254.88 L318.00 255.91 L318.25 257.12 L318.50 258.50 L318.75 260.06 L319.00 261.78 L319.25 263.66 L319.50 265.70 L319.75 267.90 L320.00 270.24 L320.25 272.72 L320.50 275.34 L320.75 278.09 L321.00 280.96 L321.25 283.96 L321.50 287.07 L321.75 290.29 L322.00 293.62 L322.25 297.04 L322.50 300.56 L322.75 304.17 L323.00 307.87 L323.25 311.64 L323.50 315.49 L323.75 319.41 L324.00 323.40 L324.25 327.45 L324.50 331.55 L324.75 335.71 L325.00 339.92 L325.25 344.18 L325.50 348.48 L325.75 352.82 L326.00 357.20 L326.25 361.61 L326.50 366.06 L326.75 370.53 L327.00 375.03 L327.25 379.56 L327.50 384.11 L327.75 388.69 L328.00 393.29 L328.25 397.91 L328.50 402.55 L328.75 407.21 L329.00 411.89 L329.25 416.59 L329.50 421.31 L329.75 426.05 L330.00 430.80 L330.25 435.59 L330.50 440.39 L330.75 445.22 L331.00 450.07 L331.25 454.95 L331.50 459.85 L331.75 464.79 L332.00 469.75 L332.25 474.75 L332.50 479.79 L332.75 484.86 L333.00 489.98 L333.25 495.14 L333.50 500.34 L333.75 505.59 L334.00 510.89 L334.25 516.25 L334.50 521.66 L334.75 527.13 L335.00 532.67 L335.25 538.27 L335.50 543.94 L335.75 549.67 L336.00 555.49 L336.25 561.38 L336.50 567.35 L336.75 573.40 L337.00 579.53 L337.25 585.76 L337.50 592.07 L337.75 598.47 L338.00 604.97 L338.25 611.57 L338.50 618.27 L338.75 625.06 L339.00 631.96 L339.25 638.96 L339.50 646.07 L339.75 653.28 L340.00 660.59 L340.25 668.02 L340.50 675.55 L340.75 683.19 L341.00 690.94 L341.25 698.79 L341.50 706.74 L341.75 714.81 L342.00 722.97 L342.25 731.24 L342.50 739.48 L342.75 747.46 L343.00 755.49 L343.25 763.56 L343.50 771.66 L343.75 779.80 L344.00 787.97 L344.25 796.17 L344.50 804.40 L344.75 812.65 L345.00 820.92 L345.25 829.20 L345.50 837.50 L345.75 845.81 L346.00 854.12 L346.25 862.43 L346.50 870.75 L346.75 879.05 L347.00 887.35 L347.25 895.63 L347.50 903.90 L347.75 912.14 L348.00 920.36 L348.25 928.54 L348.50 936.69 L348.75 944.80 L349.00 952.87 L349.25 960.88 L349.50 968.84 L349.75 976.74 L350.00 984.58 L350.25 992.35 L350.50 1000.04 L350.75 1007.65 L351.00 1015.18 L351.25 1022.62 L351.50 1029.97 L351.75 1037.21 L352.00 1044.35 L352.25 1051.38 L352.50 1058.30 L352.75 1065.09 L353.00 1071.76 L353.25 1078.30 L353.50 1084.71 L353.75 1090.97 L354.00 1097.09 L354.25 1103.06 L354.50 1108.88 L354.75 1114.54 L355.00 1120.03 L355.25 1125.36 L355.50 1130.52 L355.75 1135.51 L356.00 1140.31 L356.25 1144.94 L356.50 1149.37 L356.75 1153.62 L357.00 1157.68 L357.25 1161.55 L357.50 1165.22 L357.75 1168.69 L358.00 1171.97 L358.25 1175.04 L358.50 1177.91 L358.75 1180.57 L359.00 1183.03 L359.25 1185.28 L359.50 1187.33 L359.75 1189.17 L360.00 1190.81 L360.25 1192.25 L360.50 1193.47 L360.75 1194.50 L361.00 1195.33 L361.25 1195.95 L361.50 1196.38 L361.75 1196.61 L362.00 1196.65 L362.25 1196.50 L362.50 1196.17 L362.75 1195.65 L363.00 1194.95 L363.25 1194.07 L363.50 1193.02 L363.75 1191.80 L364.00 1190.42 L364.25 1188.87 L364.50 1187.17 L364.75 1185.32 L365.00 1183.32 L365.25 1181.18 L365.50 1178.90 L365.75 1176.49 L366.00 1173.95 L366.25 1171.29 L366.50 1168.52 L366.75 1165.63 L367.00 1162.63 L367.25 1159.54 L367.50 1156.34 L367.75 1153.05 L368.00 1149.68 L368.25 1146.22 L368.50 1142.69 L368.75 1139.08 L369.00 1135.40 L369.25 1131.65 L369.50 1127.85 L369.75 1123.99 L370.00 1120.07 L370.25 1116.11 L370.50 1112.10 L370.75 1108.04 L371.00 1103.95 L371.25 1099.82 L371.50 1095.66 L371.75 1091.46 L372.00 1087.23 L372.25 1082.98 L372.50 1078.70 L372.75 1074.40 L373.00 1070.07 L373.25 1065.73 L373.50 1061.36 L373.75 1056.97 L374.00 1052.56 L374.25 1048.14 L374.50 1043.70 L374.75 1039.23 L375.00 1034.75 L375.25 1030.25 L375.50 1025.73 L375.75 1021.19 L376.00 1016.63 L376.25 1012.04 L376.50 1007.43 L376.75 1002.80 L377.00 998.13 L377.25 993.44 L377.50 988.72 L377.75 983.97 L378.00 979.18 L378.25 974.35 L378.50 969.49 L378.75 964.58 L379.00 959.63 L379.25 954.63 L379.50 949.58 L379.75 944.48 L380.00 939.32 L380.25 934.11 L380.50 928.84 L380.75 923.50 L381.00 918.10 L381.25 912.63 L381.50 907.09 L381.75 901.48 L382.00 895.78 L382.25 890.01 L382.50 884.16 L382.75 878.23 L383.00 872.20 L383.25 866.09 L383.50 859.89 L383.75 853.60 L384.00 847.21 L384.25 840.73 L384.50 834.14 L384.75 827.47 L385.00 820.69 L385.25 813.81 L385.50 806.83 L385.75 799.74 L386.00 792.56 L386.25 785.27 L386.50 777.89 L386.75 770.40 L387.00 762.82 L387.25 755.13 L387.50 747.35 L387.75 739.47 L388.00 731.29 L388.25 722.98 L388.50 714.62 L388.75 706.23 L389.00 697.79 L389.25 689.32 L389.50 680.82 L389.75 672.29 L390.00 663.74 L390.25 655.16 L390.50 646.56 L390.75 637.95 L391.00 629.33 L391.25 620.69 L391.50 612.06 L391.75 603.42 L392.00 594.79 L392.25 586.17 L392.50 577.55 L392.75 568.96 L393.00 560.38 L393.25 551.83 L393.50 543.31 L393.75 534.82 L394.00 526.38 L394.25 517.97 L394.50 509.62 L394.75 501.32 L395.00 493.08 L395.25 484.90 L395.50 476.79 L395.75 468.76 L396.00 460.80 L396.25 452.93 L396.50 445.15 L396.75 437.46 L397.00 429.88 L397.25 422.40 L397.50 415.04 L397.75 407.78 L398.00 400.66 L398.25 393.65 L398.50 386.79 L398.75 380.05 L399.00 373.47 L399.25 367.02 L399.50 360.73 L399.75 354.60 L400.00 348.63 L400.25 342.83 L400.50 337.20 L400.75 331.74 L401.00 326.46 L401.25 321.36 L401.50 316.45 L401.75 311.74 L402.00 307.21 L402.25 302.88 L402.50 298.75 L402.75 294.83 L403.00 291.10 L403.25 287.59 L403.50 284.28 L403.75 281.18 L404.00 278.30 L404.25 275.62 L404.50 273.16 L404.75 270.92 L405.00 268.88 L405.25 267.06 L405.50 265.46 L405.75 264.06 L406.00 262.88 L406.25 261.90 L406.50 261.14 L406.75 260.58 L407.00 260.22 L407.25 260.07 L407.50 260.11 L407.75 260.35 L408.00 260.79 L408.25 261.41 L408.50 262.22 L408.75 263.21 L409.00 264.38 L409.25 265.72 L409.50 267.23 L409.75 268.91 L410.00 270.75 L410.25 272.74 L410.50 274.88 L410.75 277.17 L411.00 279.59 L411.25 282.16 L411.50 284.85 L411.75 287.66 L412.00 290.60 L412.25 293.65 L412.50 296.81 L412.75 300.07 L413.00 303.43 L413.25 306.89 L413.50 310.43 L413.75 314.06 L414.00 317.77 L414.25 321.55 L414.50 325.40 L414.75 329.31 L415.00 333.29 L415.25 337.33 L415.50 341.42 L415.75 345.56 L416.00 349.74 L416.25 353.97 L416.50 358.24 L416.75 362.55 L417.00 366.89 L417.25 371.26 L417.50 375.66 L417.75 380.09 L418.00 384.55 L418.25 389.03 L418.50 393.53 L418.75 398.06 L419.00 402.60 L419.25 407.17 L419.50 411.75 L419.75 416.36 L420.00 420.98 L420.25 425.63 L420.50 430.29 L420.75 434.97 L421.00 439.68 L421.25 444.41 L421.50 449.15 L421.75 453.93 L422.00 458.73 L422.25 463.55 L422.50 468.41 L422.75 473.30 L423.00 478.22 L423.25 483.17 L423.50 488.16 L423.75 493.19 L424.00 498.26 L424.25 503.38 L424.50 508.55 L424.75 513.76 L425.00 519.03 L425.25 524.35 L425.50 529.73 L425.75 535.17 L426.00 540.68 L426.25 546.25 L426.50 551.89 L426.75 557.60 L427.00 563.39 L427.25 569.26 L427.50 575.21 L427.75 581.24 L428.00 587.36 L428.25 593.56 L428.50 599.86 L428.75 606.24 L429.00 612.73 L429.25 619.31 L429.50 625.99 L429.75 632.77 L430.00 639.65 L430.25 646.63 L430.50 653.72 L430.75 660.91 L431.00 668.21 L431.25 675.61 L431.50 683.12 L431.75 690.73 L432.00 698.45 L432.25 706.27 L432.50 714.20 L432.75 722.22 L433.00 730.35 L433.25 738.54 L433.50 746.62 L433.75 754.75 L434.00 762.92 L434.25 771.13 L434.50 779.37 L434.75 787.65 L435.00 795.95 L435.25 804.29 L435.50 812.64 L435.75 821.02 L436.00 829.41 L436.25 837.82 L436.50 846.23 L436.75 854.66 L437.00 863.08 L437.25 871.50 L437.50 879.92 L437.75 888.33 L438.00 896.73 L438.25 905.10 L438.50 913.46 L438.75 921.79 L439.00 930.08 L439.25 938.35 L439.50 946.57 L439.75 954.74 L440.00 962.87 L440.25 970.94 L440.50 978.96 L440.75 986.91 L441.00 994.78 L441.25 1002.59 L441.50 1010.31 L441.75 1017.95 L442.00 1025.50 L442.25 1032.96 L442.50 1040.31 L442.75 1047.56 L443.00 1054.69 L443.25 1061.71 L443.50 1068.61 L443.75 1075.39 L444.00 1082.03 L444.25 1088.54 L444.50 1094.90 L444.75 1101.12 L445.00 1107.19 L445.25 1113.10 L445.50 1118.85 L445.75 1124.44 L446.00 1129.86 L446.25 1135.11 L446.50 1140.18 L446.75 1145.07 L447.00 1149.78 L447.25 1154.30 L447.50 1158.63 L447.75 1162.77 L448.00 1166.71 L448.25 1170.45 L448.50 1173.99 L448.75 1177.33 L449.00 1180.47 L449.25 1183.40 L449.50 1186.13 L449.75 1188.64 L450.00 1190.95 L450.25 1193.05 L450.50 1194.94 L450.75 1196.63 L451.00 1198.11 L451.25 1199.38 L451.50 1200.44 L451.75 1201.30 L452.00 1201.96 L452.25 1202.42 L452.50 1202.68 L452.75 1202.74 L453.00 1202.61 L453.25 1202.29 L453.50 1201.79 L453.75 1201.10 L454.00 1200.23 L454.25 1199.19 L454.50 1197.97 L454.75 1196.59 L455.00 1195.05 L455.25 1193.34 L455.50 1191.48 L455.75 1189.48 L456.00 1187.32 L456.25 1185.03 L456.50 1182.61 L456.75 1180.05 L457.00 1177.37 L457.25 1174.57 L457.50 1171.66 L457.75 1168.64 L458.00 1165.51 L458.25 1162.28 L458.50 1158.96 L458.75 1155.55 L459.00 1152.06 L459.25 1148.49 L459.50 1144.84 L459.75 1141.12 L460.00 1137.33 L460.25 1133.49 L460.50 1129.58 L460.75 1125.62 L461.00 1121.61 L461.25 1117.55 L461.50 1113.45 L461.75 1109.31 L462.00 1105.12 L462.25 1100.91 L462.50 1096.66 L462.75 1092.38 L463.00 1088.08 L463.25 1083.74 L463.50 1079.39 L463.75 1075.01 L464.00 1070.60 L464.25 1066.18 L464.50 1061.74 L464.75 1057.27 L465.00 1052.79 L465.25 1048.29 L465.50 1043.77 L465.75 1039.24 L466.00 1034.68 L466.25 1030.10 L466.50 1025.50 L466.75 1020.88 L467.00 1016.24 L467.25 1011.57 L467.50 1006.88 L467.75 1002.16 L468.00 997.41 L468.25 992.63 L468.50 987.81 L468.75 982.97 L469.00 978.08 L469.25 973.15 L469.50 968.19 L469.75 963.17 L470.00 958.12 L470.25 953.01 L470.50 947.85 L470.75 942.63 L471.00 937.36 L471.25 932.02 L471.50 926.62 L471.75 921.16 L472.00 915.62 L472.25 910.02 L472.50 904.34 L472.75 898.58 L473.00 892.74 L473.25 886.82 L473.50 880.82 L473.75 874.73 L474.00 868.55 L474.25 862.27 L474.50 855.91 L474.75 849.45 L475.00 842.89 L475.25 836.23 L475.50 829.48 L475.75 822.62 L476.00 815.66 L476.25 808.60 L476.50 801.44 L476.75 794.17 L477.00 786.80 L477.25 779.33 L477.50 771.76 L477.75 764.08 L478.00 756.31 L478.25 748.43 L478.50 740.46 L478.75 732.31 L479.00 724.03 L479.25 715.71 L479.50 707.35 L479.75 698.96 L480.00 690.52 L480.25 682.06 L480.50 673.57 L480.75 665.05 L481.00 656.51 L481.25 647.95 L481.50 639.37 L481.75 630.78 L482.00 622.18 L482.25 613.58 L482.50 604.98 L482.75 596.38 L483.00 587.79 L483.25 579.21 L483.50 570.64 L483.75 562.10 L484.00 553.58 L484.25 545.09 L484.50 536.63 L484.75 528.21 L485.00 519.83 L485.25 511.51 L485.50 503.23 L485.75 495.02 L486.00 486.86 L486.25 478.78 L486.50 470.76 L486.75 462.83 L487.00 454.98 L487.25 447.22 L487.50 439.55 L487.75 431.99 L488.00 424.52 L488.25 417.17 L488.50 409.94 L488.75 402.82 L489.00 395.83 L489.25 388.97 L489.50 382.25 L489.75 375.67 L490.00 369.24 L490.25 362.95 L490.50 356.83 L490.75 350.86 L491.00 345.06 L491.25 339.43 L491.50 333.97 L491.75 328.69 L492.00 323.59 L492.25 318.68 L492.50 313.96 L492.75 309.43 L493.00 305.09 L493.25 300.96 L493.50 297.02 L493.75 293.29 L494.00 289.76 L494.25 286.44 L494.50 283.33 L494.75 280.43 L495.00 277.74 L495.25 275.27 L495.50 273.00 L495.75 270.95 L496.00 269.11 L496.25 267.49 L496.50 266.07 L496.75 264.87 L497.00 263.87 L497.25 263.08 L497.50 262.50 L497.75 262.12 L498.00 261.95 L498.25 261.97 L498.50 262.18 L498.75 262.59 L499.00 263.19 L499.25 263.98 L499.50 264.94 L499.75 266.09 L500.00 267.40 L500.25 268.89 L500.50 270.54 L500.75 272.35 L501.00 274.31 L501.25 276.43 L501.50 278.69 L501.75 281.09 L502.00 283.63 L502.25 286.29 L502.50 289.08 L502.75 291.99 L503.00 295.02 L503.25 298.15 L503.50 301.39 L503.75 304.73 L504.00 308.16 L504.25 311.68 L504.50 315.28 L504.75 318.96 L505.00 322.72 L505.25 326.55 L505.50 330.44 L505.75 334.40 L506.00 338.41 L506.25 342.48 L506.50 346.60 L506.75 350.76 L507.00 354.97 L507.25 359.22 L507.50 363.50 L507.75 367.82 L508.00 372.17 L508.25 376.55 L508.50 380.96 L508.75 385.40 L509.00 389.86 L509.25 394.34 L509.50 398.85 L509.75 403.37 L510.00 407.92 L510.25 412.48 L510.50 417.07 L510.75 421.67 L511.00 426.29 L511.25 430.94 L511.50 435.60 L511.75 440.28 L512.00 444.99 L512.25 449.72 L512.50 454.47 L512.75 459.24 L513.00 464.05 L513.25 468.88 L513.50 473.75 L513.75 478.64 L514.00 483.57 L514.25 488.54 L514.50 493.55 L514.75 498.59 L515.00 503.69 L515.25 508.82 L515.50 514.01 L515.75 519.25 L516.00 524.55 L516.25 529.90 L516.50 535.31 L516.75 540.79 L517.00 546.33 L517.25 551.94 L517.50 557.62 L517.75 563.38 L518.00 569.21 L518.25 575.13 L518.50 581.12 L518.75 587.21 L519.00 593.38 L519.25 599.64 L519.50 605.99 L519.75 612.44 L520.00 618.98 L520.25 625.62 L520.50 632.36 L520.75 639.20 L521.00 646.14 L521.25 653.19 L521.50 660.34 L521.75 667.60 L522.00 674.96 L522.25 682.43 L522.50 690.00 L522.75 697.67 L523.00 705.45 L523.25 713.33 L523.50 721.32 L523.75 729.40 L524.00 737.57 L524.25 745.68 L524.50 753.82 L524.75 762.01 L525.00 770.24 L525.25 778.51 L525.50 786.80 L525.75 795.13 L526.00 803.48 L526.25 811.86 L526.50 820.26 L526.75 828.68 L527.00 837.11 L527.25 845.55 L527.50 854.00 L527.75 862.45 L528.00 870.89 L528.25 879.34 L528.50 887.77 L528.75 896.20 L529.00 904.60 L529.25 912.98 L529.50 921.34 L529.75 929.67 L530.00 937.96 L530.25 946.21 L530.50 954.42 L530.75 962.58 L531.00 970.68 L531.25 978.72 L531.50 986.70 L531.75 994.62 L532.00 1002.45 L532.25 1010.21 L532.50 1017.88 L532.75 1025.47 L533.00 1032.95 L533.25 1040.34 L533.50 1047.63 L533.75 1054.80 L534.00 1061.85 L534.25 1068.79 L534.50 1075.60 L534.75 1082.28 L535.00 1088.82 L535.25 1095.22 L535.50 1101.48 L535.75 1107.58 L536.00 1113.53 L536.25 1119.32 L536.50 1124.95 L536.75 1130.40 L537.00 1135.69 L537.25 1140.80 L537.50 1145.72 L537.75 1150.47 L538.00 1155.02 L538.25 1159.39 L538.50 1163.56 L538.75 1167.54 L539.00 1171.32 L539.25 1174.90 L539.50 1178.27 L539.75 1181.44 L540.00 1184.40 L540.25 1187.16 L540.50 1189.71 L540.75 1192.05 L541.00 1194.18 L541.25 1196.11 L541.50 1197.82 L541.75 1199.33 L542.00 1200.63 L542.25 1201.72 L542.50 1202.61 L542.75 1203.29 L543.00 1203.78 L543.25 1204.06 L543.50 1204.15 L543.75 1204.04 L544.00 1203.74 L544.25 1203.26 L544.50 1202.59 L544.75 1201.74 L545.00 1200.72 L545.25 1199.52 L545.50 1198.15 L545.75 1196.62 L546.00 1194.93 L546.25 1193.08 L546.50 1191.09 L546.75 1188.95 L547.00 1186.66 L547.25 1184.25 L547.50 1181.70 L547.75 1179.03 L548.00 1176.23 L548.25 1173.32 L548.50 1170.31 L548.75 1167.18 L549.00 1163.96 L549.25 1160.64 L549.50 1157.23 L549.75 1153.74 L550.00 1150.16 L550.25 1146.51 L550.50 1142.79 L550.75 1139.00 L551.00 1135.15 L551.25 1131.24 L551.50 1127.27 L551.75 1123.25 L552.00 1119.19 L552.25 1115.08 L552.50 1110.93 L552.75 1106.74 L553.00 1102.51 L553.25 1098.26 L553.50 1093.97 L553.75 1089.65 L554.00 1085.31 L554.25 1080.94 L554.50 1076.55 L554.75 1072.14 L555.00 1067.71 L555.25 1063.25 L555.50 1058.78 L555.75 1054.29 L556.00 1049.77 L556.25 1045.24 L556.50 1040.69 L556.75 1036.12 L557.00 1031.54 L557.25 1026.93 L557.50 1022.29 L557.75 1017.64 L558.00 1012.96 L558.25 1008.26 L558.50 1003.53 L558.75 998.76 L559.00 993.97 L559.25 989.15 L559.50 984.29 L559.75 979.40 L560.00 974.46 L560.25 969.48 L560.50 964.46 L560.75 959.39 L561.00 954.28 L561.25 949.11 L561.50 943.88 L561.75 938.60 L562.00 933.25 L562.25 927.85 L562.50 922.37 L562.75 916.83 L563.00 911.22 L563.25 905.53 L563.50 899.76 L563.75 893.92 L564.00 887.99 L564.25 881.98 L564.50 875.88 L564.75 869.69 L565.00 863.41 L565.25 857.04 L565.50 850.57 L565.75 844.00 L566.00 837.34 L566.25 830.57 L566.50 823.71 L566.75 816.74 L567.00 809.67 L567.25 802.50 L567.50 795.22 L567.75 787.84 L568.00 780.36 L568.25 772.78 L568.50 765.09 L568.75 757.31 L569.00 749.42 L569.25 741.44 L569.50 733.30 L569.75 725.05 L570.00 716.75 L570.25 708.42 L570.50 700.04 L570.75 691.63 L571.00 683.18 L571.25 674.71 L571.50 666.21 L571.75 657.69 L572.00 649.15 L572.25 640.59 L572.50 632.02 L572.75 623.44 L573.00 614.86 L573.25 606.27 L573.50 597.69 L573.75 589.11 L574.00 580.55 L574.25 572.00 L574.50 563.47 L574.75 554.96 L575.00 546.48 L575.25 538.04 L575.50 529.63 L575.75 521.26 L576.00 512.95 L576.25 504.68 L576.50 496.47 L576.75 488.33 L577.00 480.25 L577.25 472.24 L577.50 464.32 L577.75 456.47 L578.00 448.72 L578.25 441.05 L578.50 433.49 L578.75 426.03 L579.00 418.68 L579.25 411.44 L579.50 404.33 L579.75 397.33 L580.00 390.47 L580.25 383.75 L580.50 377.16 L580.75 370.72 L581.00 364.44 L581.25 358.30 L581.50 352.33 L581.75 346.52 L582.00 340.88 L582.25 335.41 L582.50 330.12 L582.75 325.01 L583.00 320.08 L583.25 315.35 L583.50 310.80 L583.75 306.45 L584.00 302.30 L584.25 298.35 L584.50 294.60 L584.75 291.05 L585.00 287.72 L585.25 284.59 L585.50 281.67 L585.75 278.96 L586.00 276.46 L586.25 274.18 L586.50 272.10 L586.75 270.24 L587.00 268.59 L587.25 267.16 L587.50 265.93 L587.75 264.91 L588.00 264.10 L588.25 263.50 L588.50 263.09 L588.75 262.89 L589.00 262.89 L589.25 263.08 L589.50 263.47 L589.75 264.04 L590.00 264.80 L590.25 265.75 L590.50 266.87 L590.75 268.16 L591.00 269.62 L591.25 271.25 L591.50 273.04 L591.75 274.98 L592.00 277.08 L592.25 279.31 L592.50 281.69 L592.75 284.21 L593.00 286.85 L593.25 289.63 L593.50 292.52 L593.75 295.52 L594.00 298.64 L594.25 301.85 L594.50 305.17 L594.75 308.59 L595.00 312.09 L595.25 315.67 L595.50 319.34 L595.75 323.08 L596.00 326.90 L596.25 330.77 L596.50 334.71 L596.75 338.71 L597.00 342.77 L597.25 346.87 L597.50 351.02 L597.75 355.21 L598.00 359.45 L598.25 363.72 L598.50 368.03 L598.75 372.37 L599.00 376.74 L599.25 381.14 L599.50 385.56 L599.75 390.01 L600.00 394.48 L600.25 398.97 L600.50 403.49 L600.75 408.02 L601.00 412.57 L601.25 417.15 L601.50 421.74 L601.75 426.35 L602.00 430.98 L602.25 435.63 L602.50 440.30 L602.75 445.00 L603.00 449.71 L603.25 454.45 L603.50 459.22 L603.75 464.01 L604.00 468.83 L604.25 473.68 L604.50 478.56 L604.75 483.48 L605.00 488.43 L605.25 493.42 L605.50 498.46 L605.75 503.53 L606.00 508.66 L606.25 513.83 L606.50 519.05 L606.75 524.33 L607.00 529.66 L607.25 535.06 L607.50 540.51 L607.75 546.04 L608.00 551.63 L608.25 557.29 L608.50 563.03 L608.75 568.84 L609.00 574.73 L609.25 580.71 L609.50 586.77 L609.75 592.92 L610.00 599.15 L610.25 605.48 L610.50 611.90 L610.75 618.42 L611.00 625.04 L611.25 631.75 L611.50 638.57 L611.75 645.49 L612.00 652.51 L612.25 659.63 L612.50 666.86 L612.75 674.19 L613.00 681.63 L613.25 689.18 L613.50 696.83 L613.75 704.58 L614.00 712.43 L614.25 720.39 L614.50 728.44 L614.75 736.59 L615.00 744.72 L615.25 752.88 L615.50 761.08 L615.75 769.32 L616.00 777.59 L616.25 785.90 L616.50 794.24 L616.75 802.61 L617.00 811.00 L617.25 819.42 L617.50 827.85 L617.75 836.29 L618.00 844.75 L618.25 853.21 L618.50 861.68 L618.75 870.15 L619.00 878.61 L619.25 887.06 L619.50 895.50 L619.75 903.93 L620.00 912.33 L620.25 920.71 L620.50 929.05 L620.75 937.37 L621.00 945.64 L621.25 953.87 L621.50 962.05 L621.75 970.18 L622.00 978.24 L622.25 986.25 L622.50 994.18 L622.75 1002.05 L623.00 1009.83 L623.25 1017.53 L623.50 1025.14 L623.75 1032.65 L624.00 1040.07 L624.25 1047.38 L624.50 1054.58 L624.75 1061.66 L625.00 1068.63 L625.25 1075.47 L625.50 1082.17 L625.75 1088.75 L626.00 1095.18 L626.25 1101.46 L626.50 1107.60 L626.75 1113.58 L627.00 1119.40 L627.25 1125.06 L627.50 1130.54 L627.75 1135.86 L628.00 1141.00 L628.25 1145.96 L628.50 1150.73 L628.75 1155.32 L629.00 1159.72 L629.25 1163.93 L629.50 1167.93 L629.75 1171.74 L630.00 1175.35 L630.25 1178.76 L630.50 1181.96 L630.75 1184.96 L631.00 1187.74 L631.25 1190.32 L631.50 1192.69 L631.75 1194.85 L632.00 1196.81 L632.25 1198.55 L632.50 1200.08 L632.75 1201.41 L633.00 1202.53 L633.25 1203.44 L633.50 1204.15 L633.75 1204.66 L634.00 1204.97 L634.25 1205.08 L634.50 1205.00 L634.75 1204.73 L635.00 1204.26 L635.25 1203.61 L635.50 1202.79 L635.75 1201.78 L636.00 1200.60 L636.25 1199.25 L636.50 1197.73 L636.75 1196.06 L637.00 1194.23 L637.25 1192.25 L637.50 1190.12 L637.75 1187.85 L638.00 1185.44 L638.25 1182.90 L638.50 1180.24 L638.75 1177.45 L639.00 1174.55 L639.25 1171.54 L639.50 1168.42 L639.75 1165.21 L640.00 1161.89 L640.25 1158.49 L640.50 1155.00 L640.75 1151.42 L641.00 1147.77 L641.25 1144.05 L641.50 1140.26 L641.75 1136.41 L642.00 1132.50 L642.25 1128.53 L642.50 1124.51 L642.75 1120.44 L643.00 1116.33 L643.25 1112.18 L643.50 1107.98 L643.75 1103.76 L644.00 1099.49 L644.25 1095.20 L644.50 1090.88 L644.75 1086.53 L645.00 1082.16 L645.25 1077.76 L645.50 1073.34 L645.75 1068.90 L646.00 1064.44 L646.25 1059.96 L646.50 1055.46 L646.75 1050.94 L647.00 1046.41 L647.25 1041.85 L647.50 1037.27 L647.75 1032.68 L648.00 1028.06 L648.25 1023.42 L648.50 1018.76 L648.75 1014.08 L649.00 1009.37 L649.25 1004.63 L649.50 999.86 L649.75 995.07 L650.00 990.24 L650.25 985.37 L650.50 980.47 L650.75 975.53 L651.00 970.55 L651.25 965.52 L651.50 960.45 L651.75 955.33 L652.00 950.15 L652.25 944.93 L652.50 939.64 L652.75 934.29 L653.00 928.88 L653.25 923.41 L653.50 917.86 L653.75 912.24 L654.00 906.55 L654.25 900.79 L654.50 894.94 L654.75 889.01 L655.00 883.00 L655.25 876.90 L655.50 870.70 L655.75 864.42 L656.00 858.05 L656.25 851.58 L656.50 845.01 L656.75 838.34 L657.00 831.58 L657.25 824.71 L657.50 817.74 L657.75 810.67 L658.00 803.50 L658.25 796.22 L658.50 788.84 L658.75 781.35 L659.00 773.77 L659.25 766.08 L659.50 758.29 L659.75 750.40 L660.00 742.41 L660.25 734.29 L660.50 726.05 L660.75 717.77 L661.00 709.45 L661.25 701.08 L661.50 692.68 L661.75 684.25 L662.00 675.79 L662.25 667.30 L662.50 658.79 L662.75 650.26 L663.00 641.71 L663.25 633.15 L663.50 624.58 L663.75 616.01 L664.00 607.43 L664.25 598.85 L664.50 590.28 L664.75 581.73 L665.00 573.18 L665.25 564.66 L665.50 556.16 L665.75 547.68 L666.00 539.24 L666.25 530.84 L666.50 522.48 L666.75 514.16 L667.00 505.90 L667.25 497.69 L667.50 489.55 L667.75 481.47 L668.00 473.46 L668.25 465.53 L668.50 457.68 L668.75 449.93 L669.00 442.26 L669.25 434.69 L669.50 427.22 L669.75 419.87 L670.00 412.62 L670.25 405.50 L670.50 398.50 L670.75 391.63 L671.00 384.90 L671.25 378.30 L671.50 371.85 L671.75 365.55 L672.00 359.40 L672.25 353.42 L672.50 347.59 L672.75 341.94 L673.00 336.45 L673.25 331.15 L673.50 326.02 L673.75 321.08 L674.00 316.32 L674.25 311.76 L674.50 307.39 L674.75 303.22 L675.00 299.24 L675.25 295.47 L675.50 291.91 L675.75 288.55 L676.00 285.40 L676.25 282.46 L676.50 279.72 L676.75 277.20 L677.00 274.90 L677.25 272.80 L677.50 270.92 L677.75 269.24 L678.00 267.78 L678.25 266.53 L678.50 265.49 L678.75 264.65 L679.00 264.02 L679.25 263.60 L679.50 263.37 L679.75 263.35 L680.00 263.52 L680.25 263.88 L680.50 264.43 L680.75 265.17 L681.00 266.09 L681.25 267.19 L681.50 268.46 L681.75 269.90 L682.00 271.51 L682.25 273.27 L682.50 275.20 L682.75 277.27 L683.00 279.49 L683.25 281.85 L683.50 284.35 L683.75 286.98 L684.00 289.73 L684.25 292.60 L684.50 295.59 L684.75 298.69 L685.00 301.89 L685.25 305.20 L685.50 308.59 L685.75 312.08 L686.00 315.66 L686.25 319.31 L686.50 323.04 L686.75 326.84 L687.00 330.71 L687.25 334.64 L687.50 338.62 L687.75 342.67 L688.00 346.76 L688.25 350.90 L688.50 355.09 L688.75 359.31 L689.00 363.58 L689.25 367.87 L689.50 372.21 L689.75 376.57 L690.00 380.96 L690.25 385.37 L690.50 389.81 L690.75 394.28 L691.00 398.76 L691.25 403.27 L691.50 407.80 L691.75 412.35 L692.00 416.91 L692.25 421.50 L692.50 426.10 L692.75 430.73 L693.00 435.37 L693.25 440.04 L693.50 444.72 L693.75 449.43 L694.00 454.16 L694.25 458.92 L694.50 463.70 L694.75 468.52 L695.00 473.36 L695.25 478.23 L695.50 483.14 L695.75 488.08 L696.00 493.06 L696.25 498.09 L696.50 503.15 L696.75 508.26 L697.00 513.42 L697.25 518.64 L697.50 523.90 L697.75 529.22 L698.00 534.61 L698.25 540.05 L698.50 545.56 L698.75 551.14 L699.00 556.79 L699.25 562.51 L699.50 568.31 L699.75 574.18 L700.00 580.14 L700.25 586.19 L700.50 592.32 L700.75 598.54 L701.00 604.85 L701.25 611.25 L701.50 617.75 L701.75 624.35 L702.00 631.05 L702.25 637.84 L702.50 644.74 L702.75 651.74 L703.00 658.85 L703.25 666.06 L703.50 673.37 L703.75 680.79 L704.00 688.31 L704.25 695.94 L704.50 703.67 L704.75 711.51 L705.00 719.44 L705.25 727.48 L705.50 735.61 L705.75 743.75 L706.00 751.91 L706.25 760.11 L706.50 768.36 L706.75 776.64 L707.00 784.95 L707.25 793.30 L707.50 801.67 L707.75 810.07 L708.00 818.49 L708.25 826.92 L708.50 835.38 L708.75 843.84 L709.00 852.31 L709.25 860.79 L709.50 869.26 L709.75 877.73 L710.00 886.20 L710.25 894.65 L710.50 903.08 L710.75 911.50 L711.00 919.89 L711.25 928.25 L711.50 936.57 L711.75 944.86 L712.00 953.10 L712.25 961.29 L712.50 969.44 L712.75 977.52 L713.00 985.54 L713.25 993.49 L713.50 1001.37 L713.75 1009.17 L714.00 1016.89 L714.25 1024.52 L714.50 1032.05 L714.75 1039.49 L715.00 1046.82 L715.25 1054.04 L715.50 1061.14 L715.75 1068.13 L716.00 1074.99 L716.25 1081.72 L716.50 1088.31 L716.75 1094.77 L717.00 1101.08 L717.25 1107.24 L717.50 1113.24 L717.75 1119.09 L718.00 1124.77 L718.25 1130.29 L718.50 1135.63 L718.75 1140.80 L719.00 1145.78 L719.25 1150.58 L719.50 1155.20 L719.75 1159.63 L720.00 1163.86 L720.25 1167.89 L720.50 1171.73 L720.75 1175.37 L721.00 1178.80 L721.25 1182.03 L721.50 1185.05 L721.75 1187.87 L722.00 1190.48 L722.25 1192.88 L722.50 1195.06 L722.75 1197.04 L723.00 1198.81 L723.25 1200.37 L723.50 1201.73 L723.75 1202.87 L724.00 1203.81 L724.25 1204.55 L724.50 1205.08 L724.75 1205.41 L725.00 1205.55 L725.25 1205.49 L725.50 1205.24 L725.75 1204.79 L726.00 1204.17 L726.25 1203.36 L726.50 1202.37 L726.75 1201.21 L727.00 1199.88 L727.25 1198.38 L727.50 1196.73 L727.75 1194.91 L728.00 1192.95 L728.25 1190.83 L728.50 1188.58 L728.75 1186.19 L729.00 1183.66 L729.25 1181.01 L729.50 1178.24 L729.75 1175.35 L730.00 1172.34 L730.25 1169.24 L730.50 1166.03 L730.75 1162.72 L731.00 1159.32 L731.25 1155.84 L731.50 1152.27 L731.75 1148.63 L732.00 1144.91 L732.25 1141.13 L732.50 1137.28 L732.75 1133.37 L733.00 1129.40 L733.25 1125.38 L733.50 1121.32 L733.75 1117.21 L734.00 1113.05 L734.25 1108.86 L734.50 1104.63 L734.75 1100.37 L735.00 1096.08 L735.25 1091.75 L735.50 1087.40 L735.75 1083.03 L736.00 1078.63 L736.25 1074.21 L736.50 1069.77 L736.75 1065.31 L737.00 1060.82 L737.25 1056.32 L737.50 1051.80 L737.75 1047.26 L738.00 1042.70 L738.25 1038.12 L738.50 1033.53 L738.75 1028.91 L739.00 1024.27 L739.25 1019.60 L739.50 1014.92 L739.75 1010.21 L740.00 1005.47 L740.25 1000.70 L740.50 995.90 L740.75 991.07 L741.00 986.21 L741.25 981.31 L741.50 976.37 L741.75 971.38 L742.00 966.36 L742.25 961.29 L742.50 956.16 L742.75 950.99 L743.00 945.76 L743.25 940.48 L743.50 935.13 L743.75 929.73 L744.00 924.25 L744.25 918.71 L744.50 913.10 L744.75 907.41 L745.00 901.65 L745.25 895.80 L745.50 889.88 L745.75 883.87 L746.00 877.77 L746.25 871.59 L746.50 865.31 L746.75 858.94 L747.00 852.47 L747.25 845.91 L747.50 839.25 L747.75 832.49 L748.00 825.63 L748.25 818.67 L748.50 811.60 L748.75 804.43 L749.00 797.16 L749.25 789.78 L749.50 782.30 L749.75 774.72 L750.00 767.03 L750.25 759.25 L750.50 751.36 L750.75 743.38 L751.00 735.28 L751.25 727.06 L751.50 718.79 L751.75 710.47 L752.00 702.12 L752.25 693.74 L752.50 685.32 L752.75 676.87 L753.00 668.39 L753.25 659.89 L753.50 651.37 L753.75 642.83 L754.00 634.28 L754.25 625.72 L754.50 617.15 L754.75 608.58 L755.00 600.02 L755.25 591.46 L755.50 582.91 L755.75 574.37 L756.00 565.85 L756.25 557.35 L756.50 548.88 L756.75 540.45 L757.00 532.05 L757.25 523.69 L757.50 515.38 L757.75 507.11 L758.00 498.91 L758.25 490.76 L758.50 482.69 L758.75 474.68 L759.00 466.75 L759.25 458.90 L759.50 451.13 L759.75 443.46 L760.00 435.89 L760.25 428.42 L760.50 421.06 L760.75 413.81 L761.00 406.68 L761.25 399.67 L761.50 392.79 L761.75 386.04 L762.00 379.44 L762.25 372.98 L762.50 366.66 L762.75 360.50 L763.00 354.50 L763.25 348.67 L763.50 342.99 L763.75 337.50 L764.00 332.17 L764.25 327.03 L764.50 322.07 L764.75 317.30 L765.00 312.71 L765.25 308.33 L765.50 304.13 L765.75 300.14 L766.00 296.35 L766.25 292.76 L766.50 289.38 L766.75 286.21 L767.00 283.25 L767.25 280.49 L767.50 277.95 L767.75 275.62 L768.00 273.50 L768.25 271.59 L768.50 269.89 L768.75 268.41 L769.00 267.13 L769.25 266.07 L769.50 265.21 L769.75 264.56 L770.00 264.11 L770.25 263.86 L770.50 263.81 L770.75 263.96 L771.00 264.29 L771.25 264.82 L771.50 265.54 L771.75 266.43 L772.00 267.51 L772.25 268.76 L772.50 270.18 L772.75 271.77 L773.00 273.51 L773.25 275.41 L773.50 277.47 L773.75 279.67 L774.00 282.01 L774.25 284.49 L774.50 287.10 L774.75 289.83 L775.00 292.69 L775.25 295.66 L775.50 298.74 L775.75 301.93 L776.00 305.22 L776.25 308.61 L776.50 312.08 L776.75 315.64 L777.00 319.28 L777.25 323.00 L777.50 326.79 L777.75 330.64 L778.00 334.56 L778.25 338.54 L778.50 342.57 L778.75 346.65 L779.00 350.78 L779.25 354.96 L779.50 359.18 L779.75 363.43 L780.00 367.72 L780.25 372.05 L780.50 376.40 L780.75 380.78 L781.00 385.19 L781.25 389.62 L781.50 394.08 L781.75 398.56 L782.00 403.06 L782.25 407.58 L782.50 412.12 L782.75 416.68 L783.00 421.26 L783.25 425.86 L783.50 430.47 L783.75 435.11 L784.00 439.77 L784.25 444.45 L784.50 449.15 L784.75 453.87 L785.00 458.62 L785.25 463.40 L785.50 468.20 L785.75 473.04 L786.00 477.90 L786.25 482.80 L786.50 487.73 L786.75 492.71 L787.00 497.72 L787.25 502.77 L787.50 507.87 L787.75 513.02 L788.00 518.22 L788.25 523.48 L788.50 528.79 L788.75 534.16 L789.00 539.59 L789.25 545.08 L789.50 550.65 L789.75 556.28 L790.00 561.99 L790.25 567.77 L790.50 573.64 L790.75 579.58 L791.00 585.61 L791.25 591.72 L791.50 597.92 L791.75 604.22 L792.00 610.60 L792.25 617.09 L792.50 623.67 L792.75 630.34 L793.00 637.12 L793.25 644.00 L793.50 650.98 L793.75 658.07 L794.00 665.26 L794.25 672.55 L794.50 679.95 L794.75 687.46 L795.00 695.06 L795.25 702.78 L795.50 710.59 L795.75 718.50 L796.00 726.52 L796.25 734.63 L796.50 742.78 L796.75 750.94 L797.00 759.15 L797.25 767.40 L797.50 775.68 L797.75 784.00 L798.00 792.35 L798.25 800.73 L798.50 809.13 L798.75 817.56 L799.00 826.00 L799.25 834.46 L799.50 842.93 L799.75 851.41 L800.00 859.89 L800.25 868.38 L800.50 876.86 L800.75 885.33 L801.00 893.79 L801.25 902.24 L801.50 910.66 L801.75 919.06 L802.00 927.43 L802.25 935.77 L802.50 944.07 L802.75 952.33 L803.00 960.54 L803.25 968.69 L803.50 976.79 L803.75 984.83 L804.00 992.80 L804.25 1000.69 L804.50 1008.51 L804.75 1016.25 L805.00 1023.89 L805.25 1031.44 L805.50 1038.90 L805.75 1046.25 L806.00 1053.49 L806.25 1060.62 L806.50 1067.63 L806.75 1074.51 L807.00 1081.26 L807.25 1087.88 L807.50 1094.36 L807.75 1100.69 L808.00 1106.88 L808.25 1112.91 L808.50 1118.78 L808.75 1124.49 L809.00 1130.03 L809.25 1135.39 L809.50 1140.59 L809.75 1145.60 L810.00 1150.43 L810.25 1155.07 L810.50 1159.53 L810.75 1163.79 L811.00 1167.85 L811.25 1171.72 L811.50 1175.38 L811.75 1178.84 L812.00 1182.10 L812.25 1185.15 L812.50 1187.99 L812.75 1190.63 L813.00 1193.05 L813.25 1195.27 L813.50 1197.28 L813.75 1199.07 L814.00 1200.66 L814.25 1202.04 L814.50 1203.21 L814.75 1204.17 L815.00 1204.94 L815.25 1205.49 L815.50 1205.85 L815.75 1206.01 L816.00 1205.97 L816.25 1205.74 L816.50 1205.32 L816.75 1204.72 L817.00 1203.93 L817.25 1202.97 L817.50 1201.82 L817.75 1200.51 L818.00 1199.03 L818.25 1197.39 L818.50 1195.60 L818.75 1193.65 L819.00 1191.55 L819.25 1189.31 L819.50 1186.93 L819.75 1184.42 L820.00 1181.78 L820.25 1179.02 L820.50 1176.14 L820.75 1173.14 L821.00 1170.05 L821.25 1166.84 L821.50 1163.55 L821.75 1160.16 L822.00 1156.68 L822.25 1153.12 L822.50 1149.48 L822.75 1145.77 L823.00 1141.99 L823.25 1138.14 L823.50 1134.24 L823.75 1130.27 L824.00 1126.26 L824.25 1122.19 L824.50 1118.08 L824.75 1113.93 L825.00 1109.74 L825.25 1105.51 L825.50 1101.25 L825.75 1096.95 L826.00 1092.63 L826.25 1088.28 L826.50 1083.90 L826.75 1079.50 L827.00 1075.08 L827.25 1070.64 L827.50 1066.17 L827.75 1061.69 L828.00 1057.18 L828.25 1052.66 L828.50 1048.12 L828.75 1043.56 L829.00 1038.98 L829.25 1034.38 L829.50 1029.76 L829.75 1025.11 L830.00 1020.45 L830.25 1015.76 L830.50 1011.05 L830.75 1006.31 L831.00 1001.54 L831.25 996.74 L831.50 991.91 L831.75 987.04 L832.00 982.14 L832.25 977.20 L832.50 972.22 L832.75 967.19 L833.00 962.12 L833.25 957.00 L833.50 951.83 L833.75 946.60 L834.00 941.32 L834.25 935.98 L834.50 930.57 L834.75 925.10 L835.00 919.56 L835.25 913.95 L835.50 908.27 L835.75 902.51 L836.00 896.67 L836.25 890.75 L836.50 884.74 L836.75 878.65 L837.00 872.47 L837.25 866.20 L837.50 859.83 L837.75 853.37 L838.00 846.81 L838.25 840.16 L838.50 833.40 L838.75 826.55 L839.00 819.59 L839.25 812.53 L839.50 805.36 L839.75 798.10 L840.00 790.73 L840.25 783.25 L840.50 775.67 L840.75 767.99 L841.00 760.21 L841.25 752.33 L841.50 744.35 L841.75 736.27 L842.00 728.05 L842.25 719.78 L842.50 711.47 L842.75 703.13 L843.00 694.74 L843.25 686.33 L843.50 677.88 L843.75 669.41 L844.00 660.91 L844.25 652.39 L844.50 643.86 L844.75 635.31 L845.00 626.75 L845.25 618.18 L845.50 609.61 L845.75 601.05 L846.00 592.48 L846.25 583.93 L846.50 575.39 L846.75 566.87 L847.00 558.37 L847.25 549.90 L847.50 541.46 L847.75 533.05 L848.00 524.69 L848.25 516.37 L848.50 508.10 L848.75 499.89 L849.00 491.74 L849.25 483.65 L849.50 475.63 L849.75 467.69 L850.00 459.83 L850.25 452.06 L850.50 444.38 L850.75 436.79 L851.00 429.31 L851.25 421.93 L851.50 414.67 L851.75 407.52 L852.00 400.50 L852.25 393.61 L852.50 386.85 L852.75 380.22 L853.00 373.74 L853.25 367.41 L853.50 361.24 L853.75 355.21 L854.00 349.36 L854.25 343.67 L854.50 338.15 L854.75 332.80 L855.00 327.64 L855.25 322.66 L855.50 317.86 L855.75 313.25 L856.00 308.84 L856.25 304.63 L856.50 300.61 L856.75 296.80 L857.00 293.18 L857.25 289.78 L857.50 286.58 L857.75 283.59 L858.00 280.81 L858.25 278.24 L858.50 275.89 L858.75 273.74 L859.00 271.81 L859.25 270.09 L859.50 268.58 L859.75 267.28 L860.00 266.19 L860.25 265.30 L860.50 264.62 L860.75 264.15 L861.00 263.88 L861.25 263.80 L861.50 263.93 L861.75 264.24 L862.00 264.75 L862.25 265.44 L862.50 266.32 L862.75 267.37 L863.00 268.60 L863.25 270.00 L863.50 271.57 L863.75 273.29 L864.00 275.18 L864.25 277.21 L864.50 279.40 L864.75 281.72 L865.00 284.18 L865.25 286.78 L865.50 289.50 L865.75 292.34 L866.00 295.30 L866.25 298.37 L866.50 301.55 L866.75 304.82 L867.00 308.19 L867.25 311.66 L867.50 315.21 L867.75 318.84 L868.00 322.55 L868.25 326.33 L868.50 330.17 L868.75 334.09 L869.00 338.06 L869.25 342.08 L869.50 346.16 L869.75 350.29 L870.00 354.46 L870.25 358.67 L870.50 362.92 L870.75 367.21 L871.00 371.53 L871.25 375.88 L871.50 380.25 L871.75 384.66 L872.00 389.09 L872.25 393.55 L872.50 398.02 L872.75 402.52 L873.00 407.04 L873.25 411.58 L873.50 416.13 L873.75 420.71 L874.00 425.30 L874.25 429.92 L874.50 434.55 L874.75 439.21 L875.00 443.89 L875.25 448.58 L875.50 453.31 L875.75 458.05 L876.00 462.82 L876.25 467.62 L876.50 472.45 L876.75 477.31 L877.00 482.21 L877.25 487.14 L877.50 492.11 L877.75 497.11 L878.00 502.16 L878.25 507.26 L878.50 512.40 L878.75 517.60 L879.00 522.84 L879.25 528.15 L879.50 533.51 L879.75 538.93 L880.00 544.42 L880.25 549.98 L880.50 555.60 L880.75 561.30 L881.00 567.08 L881.25 572.93 L881.50 578.86 L881.75 584.88 L882.00 590.98 L882.25 597.17 L882.50 603.46 L882.75 609.83 L883.00 616.30 L883.25 622.87 L883.50 629.54 L883.75 636.30 L884.00 643.17 L884.25 650.14 L884.50 657.21 L884.75 664.39 L885.00 671.67 L885.25 679.06 L885.50 686.55 L885.75 694.15 L886.00 701.84 L886.25 709.65 L886.50 717.55 L886.75 725.55 L887.00 733.65 L887.25 741.80 L887.50 749.97 L887.75 758.18 L888.00 766.43 L888.25 774.72 L888.50 783.04 L888.75 791.40 L889.00 799.78 L889.25 808.19 L889.50 816.62 L889.75 825.07 L890.00 833.54 L890.25 842.02 L890.50 850.50 L890.75 859.00 L891.00 867.49 L891.25 875.98 L891.50 884.46 L891.75 892.93 L892.00 901.39 L892.25 909.82 L892.50 918.24 L892.75 926.62 L893.00 934.97 L893.25 943.28 L893.50 951.55 L893.75 959.78 L894.00 967.95 L894.25 976.06 L894.50 984.11 L894.75 992.10 L895.00 1000.01 L895.25 1007.85 L895.50 1015.60 L895.75 1023.26 L896.00 1030.84 L896.25 1038.31 L896.50 1045.68 L896.75 1052.94 L897.00 1060.09 L897.25 1067.12 L897.50 1074.03 L897.75 1080.80 L898.00 1087.44 L898.25 1093.94 L898.50 1100.30 L898.75 1106.51 L899.00 1112.57 L899.25 1118.46 L899.50 1124.20 L899.75 1129.76 L900.00 1135.16 L900.25 1140.38 L900.50 1145.42 L900.75 1150.27 L901.00 1154.94 L901.25 1159.42 L901.50 1163.71 L901.75 1167.80 L902.00 1171.69 L902.25 1175.39 L902.50 1178.88 L902.75 1182.16 L903.00 1185.24 L903.25 1188.11 L903.50 1190.77 L903.75 1193.23 L904.00 1195.47 L904.25 1197.50 L904.50 1199.33 L904.75 1200.94 L905.00 1202.35 L905.25 1203.55 L905.50 1204.54 L905.75 1205.32 L906.00 1205.90 L906.25 1206.29 L906.50 1206.47 L906.75 1206.46 L907.00 1206.25 L907.25 1205.85 L907.50 1205.27 L907.75 1204.50 L908.00 1203.56 L908.25 1202.43 L908.50 1201.14 L908.75 1199.68 L909.00 1198.06 L909.25 1196.28 L909.50 1194.34 L909.75 1192.26 L910.00 1190.03 L910.25 1187.67 L910.50 1185.17 L910.75 1182.54 L911.00 1179.79 L911.25 1176.93 L911.50 1173.94 L911.75 1170.86 L912.00 1167.66 L912.25 1164.37 L912.50 1160.99 L912.75 1157.52 L913.00 1153.96 L913.25 1150.33 L913.50 1146.62 L913.75 1142.85 L914.00 1139.01 L914.25 1135.10 L914.50 1131.14 L914.75 1127.13 L915.00 1123.07 L915.25 1118.96 L915.50 1114.81 L915.75 1110.62 L916.00 1106.39 L916.25 1102.12 L916.50 1097.83 L916.75 1093.50 L917.00 1089.15 L917.25 1084.78 L917.50 1080.37 L917.75 1075.95 L918.00 1071.50 L918.25 1067.04 L918.50 1062.55 L918.75 1058.04 L919.00 1053.52 L919.25 1048.97 L919.50 1044.41 L919.75 1039.83 L920.00 1035.23 L920.25 1030.60 L920.50 1025.96 L920.75 1021.29 L921.00 1016.60 L921.25 1011.89 L921.50 1007.15 L921.75 1002.38 L922.00 997.58 L922.25 992.74 L922.50 987.88 L922.75 982.98 L923.00 978.03 L923.25 973.05 L923.50 968.03 L923.75 962.96 L924.00 957.84 L924.25 952.67 L924.50 947.44 L924.75 942.16 L925.00 936.82 L925.25 931.42 L925.50 925.95 L925.75 920.41 L926.00 914.81 L926.25 909.13 L926.50 903.37 L926.75 897.53 L927.00 891.62 L927.25 885.61 L927.50 879.53 L927.75 873.35 L928.00 867.08 L928.25 860.72 L928.50 854.27 L928.75 847.72 L929.00 841.07 L929.25 834.32 L929.50 827.47 L929.75 820.51 L930.00 813.46 L930.25 806.30 L930.50 799.04 L930.75 791.67 L931.00 784.20 L931.25 776.63 L931.50 768.95 L931.75 761.17 L932.00 753.30 L932.25 745.32 L932.50 737.25 L932.75 729.04 L933.00 720.78 L933.25 712.48 L933.50 704.15 L933.75 695.77 L934.00 687.36 L934.25 678.93 L934.50 670.46 L934.75 661.97 L935.00 653.46 L935.25 644.93 L935.50 636.38 L935.75 627.83 L936.00 619.27 L936.25 610.70 L936.50 602.14 L936.75 593.58 L937.00 585.03 L937.25 576.49 L937.50 567.98 L937.75 559.48 L938.00 551.01 L938.25 542.57 L938.50 534.16 L938.75 525.80 L939.00 517.48 L939.25 509.21 L939.50 500.99 L939.75 492.83 L940.00 484.74 L940.25 476.72 L940.50 468.78 L940.75 460.91 L941.00 453.13 L941.25 445.44 L941.50 437.85 L941.75 430.35 L942.00 422.97 L942.25 415.70 L942.50 408.54 L942.75 401.50 L943.00 394.60 L943.25 387.82 L943.50 381.19 L943.75 374.69 L944.00 368.35 L944.25 362.15 L944.50 356.12 L944.75 350.24 L945.00 344.53 L945.25 339.00 L945.50 333.63 L945.75 328.45 L946.00 323.45 L946.25 318.63 L946.50 314.01 L946.75 309.57 L947.00 305.34 L947.25 301.30 L947.50 297.46 L947.75 293.83 L948.00 290.40 L948.25 287.18 L948.50 284.16 L948.75 281.36 L949.00 278.77 L949.25 276.39 L949.50 274.22 L949.75 272.26 L950.00 270.51 L950.25 268.98 L950.50 267.65 L950.75 266.54 L951.00 265.63 L951.25 264.93 L951.50 264.43 L951.75 264.13 L952.00 264.04 L952.25 264.14 L952.50 264.43 L952.75 264.91 L953.00 265.58 L953.25 266.44 L953.50 267.47 L953.75 268.68 L954.00 270.05 L954.25 271.60 L954.50 273.31 L954.75 275.17 L955.00 277.19 L955.25 279.35 L955.50 281.66 L955.75 284.11 L956.00 286.68 L956.25 289.39 L956.50 292.21 L956.75 295.16 L957.00 298.21 L957.25 301.37 L957.50 304.64 L957.75 308.00 L958.00 311.45 L958.25 314.99 L958.50 318.61 L958.75 322.30 L959.00 326.07 L959.25 329.91 L959.50 333.81 L959.75 337.77 L960.00 341.79 L960.25 345.86 L960.50 349.98 L960.75 354.14 L961.00 358.35 L961.25 362.59 L961.50 366.87 L961.75 371.19 L962.00 375.53 L962.25 379.90 L962.50 384.30 L962.75 388.73 L963.00 393.18 L963.25 397.65 L963.50 402.14 L963.75 406.66 L964.00 411.19 L964.25 415.74 L964.50 420.32 L964.75 424.91 L965.00 429.52 L965.25 434.15 L965.50 438.80 L965.75 443.47 L966.00 448.16 L966.25 452.88 L966.50 457.62 L966.75 462.39 L967.00 467.18 L967.25 472.00 L967.50 476.86 L967.75 481.75 L968.00 486.67 L968.25 491.63 L968.50 496.63 L968.75 501.67 L969.00 506.76 L969.25 511.90 L969.50 517.08 L969.75 522.32 L970.00 527.61 L970.25 532.96 L970.50 538.38 L970.75 543.86 L971.00 549.40 L971.25 555.01 L971.50 560.70 L971.75 566.46 L972.00 572.30 L972.25 578.22 L972.50 584.23 L972.75 590.32 L973.00 596.50 L973.25 602.77 L973.50 609.13 L973.75 615.58 L974.00 622.13 L974.25 628.79 L974.50 635.54 L974.75 642.39 L975.00 649.34 L975.25 656.40 L975.50 663.56 L975.75 670.83 L976.00 678.20 L976.25 685.67 L976.50 693.25 L976.75 700.93 L977.00 708.72 L977.25 716.61 L977.50 724.59 L977.75 732.68 L978.00 740.83 L978.25 749.00 L978.50 757.21 L978.75 765.47 L979.00 773.76 L979.25 782.09 L979.50 790.45 L979.75 798.84 L980.00 807.25 L980.25 815.69 L980.50 824.14 L980.75 832.62 L981.00 841.10 L981.25 849.60 L981.50 858.10 L981.75 866.60 L982.00 875.10 L982.25 883.59 L982.50 892.07 L982.75 900.54 L983.00 908.98 L983.25 917.41 L983.50 925.80 L983.75 934.17 L984.00 942.49 L984.25 950.78 L984.50 959.01 L984.75 967.20 L985.00 975.33 L985.25 983.40 L985.50 991.40 L985.75 999.33 L986.00 1007.18 L986.25 1014.95 L986.50 1022.63 L986.75 1030.22 L987.00 1037.72 L987.25 1045.11 L987.50 1052.39 L987.75 1059.56 L988.00 1066.61 L988.25 1073.54 L988.50 1080.34 L988.75 1087.00 L989.00 1093.53 L989.25 1099.91 L989.50 1106.14 L989.75 1112.22 L990.00 1118.14 L990.25 1123.90 L990.50 1129.49 L990.75 1134.91 L991.00 1140.16 L991.25 1145.23 L991.50 1150.11 L991.75 1154.81 L992.00 1159.32 L992.25 1163.63 L992.50 1167.75 L992.75 1171.67 L993.00 1175.39 L993.25 1178.91 L993.50 1182.22 L993.75 1185.33 L994.00 1188.23 L994.25 1190.92 L994.50 1193.40 L994.75 1195.67 L995.00 1197.73 L995.25 1199.58 L995.50 1201.22 L995.75 1202.65 L996.00 1203.88 L996.25 1204.89 L996.50 1205.70 L996.75 1206.31 L997.00 1206.72 L997.25 1206.92 L997.50 1206.94 L997.75 1206.75 L998.00 1206.38 L998.25 1205.82 L998.50 1205.07 L998.75 1204.14 L999.00 1203.04 L999.25 1201.77 L999.50 1200.33 L999.75 1198.72 L1000.00 1196.96 L1000.25 1195.04 L1000.50 1192.97 L1000.75 1190.76 L1001.00 1188.41 L1001.25 1185.92 L1001.50 1183.31 L1001.75 1180.57 L1002.00 1177.72 L1002.25 1174.74 L1002.50 1171.66 L1002.75 1168.48 L1003.00 1165.20 L1003.25 1161.82 L1003.50 1158.36 L1003.75 1154.81 L1004.00 1151.18 L1004.25 1147.48 L1004.50 1143.71 L1004.75 1139.87 L1005.00 1135.97 L1005.25 1132.02 L1005.50 1128.00 L1005.75 1123.94 L1006.00 1119.84 L1006.25 1115.68 L1006.50 1111.49 L1006.75 1107.26 L1007.00 1103.00 L1007.25 1098.71 L1007.50 1094.38 L1007.75 1090.03 L1008.00 1085.65 L1008.25 1081.25 L1008.50 1076.82 L1008.75 1072.37 L1009.00 1067.90 L1009.25 1063.41 L1009.50 1058.91 L1009.75 1054.38 L1010.00 1049.83 L1010.25 1045.27 L1010.50 1040.68 L1010.75 1036.08 L1011.00 1031.45 L1011.25 1026.81 L1011.50 1022.14 L1011.75 1017.45 L1012.00 1012.73 L1012.25 1007.99 L1012.50 1003.21 L1012.75 998.41 L1013.00 993.58 L1013.25 988.71 L1013.50 983.81 L1013.75 978.87 L1014.00 973.89 L1014.25 968.86 L1014.50 963.79 L1014.75 958.68 L1015.00 953.51 L1015.25 948.28 L1015.50 943.00 L1015.75 937.66 L1016.00 932.26 L1016.25 926.80 L1016.50 921.26 L1016.75 915.66 L1017.00 909.98 L1017.25 904.23 L1017.50 898.40 L1017.75 892.48 L1018.00 886.49 L1018.25 880.40 L1018.50 874.23 L1018.75 867.97 L1019.00 861.62 L1019.25 855.17 L1019.50 848.62 L1019.75 841.97 L1020.00 835.23 L1020.25 828.38 L1020.50 821.44 L1020.75 814.39 L1021.00 807.23 L1021.25 799.98 L1021.50 792.61 L1021.75 785.15 L1022.00 777.58 L1022.25 769.91 L1022.50 762.14 L1022.75 754.26 L1023.00 746.29 L1023.25 738.22 L1023.50 730.03 L1023.75 721.78 L1024.00 713.48 L1024.25 705.15 L1024.50 696.78 L1024.75 688.38 L1025.00 679.94 L1025.25 671.48 L1025.50 662.99 L1025.75 654.48 L1026.00 645.95 L1026.25 637.41 L1026.50 628.86 L1026.75 620.30 L1027.00 611.73 L1027.25 603.17 L1027.50 594.61 L1027.75 586.06 L1028.00 577.52 L1028.25 569.00 L1028.50 560.50 L1028.75 552.02 L1029.00 543.58 L1029.25 535.17 L1029.50 526.80 L1029.75 518.47 L1030.00 510.19 L1030.25 501.97 L1030.50 493.81 L1030.75 485.71 L1031.00 477.68 L1031.25 469.73 L1031.50 461.85 L1031.75 454.06 L1032.00 446.36 L1032.25 438.75 L1032.50 431.25 L1032.75 423.85 L1033.00 416.56 L1033.25 409.39 L1033.50 402.34 L1033.75 395.42 L1034.00 388.63 L1034.25 381.98 L1034.50 375.46 L1034.75 369.10 L1035.00 362.89 L1035.25 356.83 L1035.50 350.94 L1035.75 345.21 L1036.00 339.65 L1036.25 334.27 L1036.50 329.06 L1036.75 324.04 L1037.00 319.20 L1037.25 314.55 L1037.50 310.09 L1037.75 305.83 L1038.00 301.77 L1038.25 297.91 L1038.50 294.25 L1038.75 290.80 L1039.00 287.55 L1039.25 284.51 L1039.50 281.68 L1039.75 279.07 L1040.00 276.66 L1040.25 274.47 L1040.50 272.48 L1040.75 270.71 L1041.00 269.15 L1041.25 267.80 L1041.50 266.66 L1041.75 265.73 L1042.00 265.00 L1042.25 264.48 L1042.50 264.16 L1042.75 264.04 L1043.00 264.11 L1043.25 264.38 L1043.50 264.84 L1043.75 265.49 L1044.00 266.32 L1044.25 267.34 L1044.50 268.52 L1044.75 269.88 L1045.00 271.41 L1045.25 273.09 L1045.50 274.94 L1045.75 276.94 L1046.00 279.09 L1046.25 281.38 L1046.50 283.81 L1046.75 286.37 L1047.00 289.06 L1047.25 291.87 L1047.50 294.80 L1047.75 297.84 L1048.00 300.99 L1048.25 304.24 L1048.50 307.59 L1048.75 311.03 L1049.00 314.56 L1049.25 318.17 L1049.50 321.86 L1049.75 325.62 L1050.00 329.45 L1050.25 333.34 L1050.50 337.30 L1050.75 341.31 L1051.00 345.37 L1051.25 349.48 L1051.50 353.64 L1051.75 357.84 L1052.00 362.08 L1052.25 366.36 L1052.50 370.67 L1052.75 375.01 L1053.00 379.38 L1053.25 383.78 L1053.50 388.20 L1053.75 392.64 L1054.00 397.11 L1054.25 401.60 L1054.50 406.11 L1054.75 410.65 L1055.00 415.20 L1055.25 419.77 L1055.50 424.35 L1055.75 428.96 L1056.00 433.59 L1056.25 438.24 L1056.50 442.91 L1056.75 447.60 L1057.00 452.31 L1057.25 457.05 L1057.50 461.81 L1057.75 466.60 L1058.00 471.42 L1058.25 476.27 L1058.50 481.16 L1058.75 486.08 L1059.00 491.03 L1059.25 496.03 L1059.50 501.07 L1059.75 506.15 L1060.00 511.28 L1060.25 516.46 L1060.50 521.69 L1060.75 526.97 L1061.00 532.32 L1061.25 537.72 L1061.50 543.19 L1061.75 548.73 L1062.00 554.34 L1062.25 560.01 L1062.50 565.77 L1062.75 571.60 L1063.00 577.51 L1063.25 583.50 L1063.50 589.58 L1063.75 595.75 L1064.00 602.01 L1064.25 608.36 L1064.50 614.80 L1064.75 621.34 L1065.00 627.98 L1065.25 634.72 L1065.50 641.56 L1065.75 648.50 L1066.00 655.55 L1066.25 662.70 L1066.50 669.95 L1066.75 677.31 L1067.00 684.77 L1067.25 692.33 L1067.50 700.01 L1067.75 707.78 L1068.00 715.65 L1068.25 723.63 L1068.50 731.70 L1068.75 739.85 L1069.00 748.02 L1069.25 756.23 L1069.50 764.48 L1069.75 772.76 L1070.00 781.09 L1070.25 789.44 L1070.50 797.83 L1070.75 806.24 L1071.00 814.67 L1071.25 823.13 L1071.50 831.60 L1071.75 840.08 L1072.00 848.58 L1072.25 857.08 L1072.50 865.58 L1072.75 874.08 L1073.00 882.57 L1073.25 891.05 L1073.50 899.52 L1073.75 907.97 L1074.00 916.40 L1074.25 924.80 L1074.50 933.16 L1074.75 941.49 L1075.00 949.78 L1075.25 958.03 L1075.50 966.22 L1075.75 974.36 L1076.00 982.43 L1076.25 990.44 L1076.50 998.38 L1076.75 1006.24 L1077.00 1014.02 L1077.25 1021.72 L1077.50 1029.32 L1077.75 1036.82 L1078.00 1044.23 L1078.25 1051.52 L1078.50 1058.71 L1078.75 1065.77 L1079.00 1072.71 L1079.25 1079.53 L1079.50 1086.21 L1079.75 1092.75 L1080.00 1099.15 L1080.25 1105.40 L1080.50 1111.50 L1080.75 1117.44 L1081.00 1123.22 L1081.25 1128.83 L1081.50 1134.27 L1081.75 1139.54 L1082.00 1144.63 L1082.25 1149.53 L1082.50 1154.25 L1082.75 1158.78 L1083.00 1163.12 L1083.25 1167.27 L1083.50 1171.21 L1083.75 1174.96 L1084.00 1178.50 L1084.25 1181.84 L1084.50 1184.97 L1084.75 1187.89 L1085.00 1190.61 L1085.25 1193.11 L1085.50 1195.41 L1085.75 1197.49 L1086.00 1199.37 L1086.25 1201.04 L1086.50 1202.49 L1086.75 1203.74 L1087.00 1204.78 L1087.25 1205.62 L1087.50 1206.25 L1087.75 1206.68 L1088.00 1206.91 L1088.25 1206.94 L1088.50 1206.78 L1088.75 1206.43 L1089.00 1205.89 L1089.25 1205.17 L1089.50 1204.26 L1089.75 1203.18 L1090.00 1201.93 L1090.25 1200.51 L1090.50 1198.92 L1090.75 1197.18 L1091.00 1195.28 L1091.25 1193.23 L1091.50 1191.03 L1091.75 1188.70 L1092.00 1186.23 L1092.25 1183.63 L1092.50 1180.91 L1092.75 1178.06 L1093.00 1175.11 L1093.25 1172.04 L1093.50 1168.87 L1093.75 1165.60 L1094.00 1162.23 L1094.25 1158.78 L1094.50 1155.24 L1094.75 1151.62 L1095.00 1147.93 L1095.25 1144.17 L1095.50 1140.34 L1095.75 1136.44 L1096.00 1132.49 L1096.25 1128.49 L1096.50 1124.43 L1096.75 1120.33 L1097.00 1116.18 L1097.25 1112.00 L1097.50 1107.77 L1097.75 1103.51 L1098.00 1099.22 L1098.25 1094.90 L1098.50 1090.55 L1098.75 1086.18 L1099.00 1081.77 L1099.25 1077.35 L1099.50 1072.91 L1099.75 1068.44 L1100.00 1063.95 L1100.25 1059.45 L1100.50 1054.92 L1100.75 1050.38 L1101.00 1045.82 L1101.25 1041.23 L1101.50 1036.63 L1101.75 1032.01 L1102.00 1027.36 L1102.25 1022.70 L1102.50 1018.01 L1102.75 1013.30 L1103.00 1008.56 L1103.25 1003.79 L1103.50 998.99 L1103.75 994.16 L1104.00 989.30 L1104.25 984.40 L1104.50 979.47 L1104.75 974.49 L1105.00 969.47 L1105.25 964.40 L1105.50 959.29 L1105.75 954.13 L1106.00 948.91 L1106.25 943.64 L1106.50 938.31 L1106.75 932.91 L1107.00 927.46 L1107.25 921.93 L1107.50 916.34 L1107.75 910.67 L1108.00 904.92 L1108.25 899.10 L1108.50 893.20 L1108.75 887.21 L1109.00 881.14 L1109.25 874.98 L1109.50 868.73 L1109.75 862.38 L1110.00 855.94 L1110.25 849.41 L1110.50 842.78 L1110.75 836.04 L1111.00 829.21 L1111.25 822.28 L1111.50 815.24 L1111.75 808.10 L1112.00 800.85 L1112.25 793.50 L1112.50 786.05 L1112.75 778.49 L1113.00 770.84 L1113.25 763.08 L1113.50 755.21 L1113.75 747.25 L1114.00 739.20 L1114.25 731.01 L1114.50 722.77 L1114.75 714.48 L1115.00 706.15 L1115.25 697.79 L1115.50 689.39 L1115.75 680.95 L1116.00 672.49 L1116.25 664.01 L1116.50 655.50 L1116.75 646.98 L1117.00 638.44 L1117.25 629.88 L1117.50 621.32 L1117.75 612.76 L1118.00 604.20 L1118.25 595.63 L1118.50 587.08 L1118.75 578.54 L1119.00 570.02 L1119.25 561.52 L1119.50 553.04 L1119.75 544.59 L1120.00 536.17 L1120.25 527.80 L1120.50 519.47 L1120.75 511.19 L1121.00 502.96 L1121.25 494.79 L1121.50 486.68 L1121.75 478.64 L1122.00 470.68 L1122.25 462.79 L1122.50 454.99 L1122.75 447.28 L1123.00 439.66 L1123.25 432.14 L1123.50 424.73 L1123.75 417.43 L1124.00 410.25 L1124.25 403.18 L1124.50 396.24 L1124.75 389.44 L1125.00 382.77 L1125.25 376.24 L1125.50 369.86 L1125.75 363.63 L1126.00 357.55 L1126.25 351.64 L1126.50 345.89 L1126.75 340.31 L1127.00 334.90 L1127.25 329.68 L1127.50 324.63 L1127.75 319.77 L1128.00 315.10 L1128.25 310.62 L1128.50 306.33 L1128.75 302.25 L1129.00 298.36 L1129.25 294.68 L1129.50 291.20 L1129.75 287.93 L1130.00 284.87 L1130.25 282.01 L1130.50 279.37 L1130.75 276.94 L1131.00 274.72 L1131.25 272.71 L1131.50 270.91 L1131.75 269.33 L1132.00 267.95 L1132.25 266.79 L1132.50 265.83 L1132.75 265.08 L1133.00 264.53 L1133.25 264.19 L1133.50 264.04 L1133.75 264.09 L1134.00 264.34 L1134.25 264.78 L1134.50 265.40 L1134.75 266.21 L1135.00 267.20 L1135.25 268.37 L1135.50 269.71 L1135.75 271.21 L1136.00 272.88 L1136.25 274.71 L1136.50 276.69 L1136.75 278.82 L1137.00 281.09 L1137.25 283.51 L1137.50 286.05 L1137.75 288.73 L1138.00 291.52 L1138.25 294.44 L1138.50 297.47 L1138.75 300.61 L1139.00 303.85 L1139.25 307.18 L1139.50 310.61 L1139.75 314.13 L1140.00 317.73 L1140.25 321.41 L1140.50 325.16 L1140.75 328.98 L1141.00 332.87 L1141.25 336.82 L1141.50 340.82 L1141.75 344.88 L1142.00 348.99 L1142.25 353.14 L1142.50 357.34 L1142.75 361.57 L1143.00 365.84 L1143.25 370.15 L1143.50 374.49 L1143.75 378.85 L1144.00 383.25 L1144.25 387.67 L1144.50 392.11 L1144.75 396.58 L1145.00 401.06 L1145.25 405.57 L1145.50 410.10 L1145.75 414.65 L1146.00 419.22 L1146.25 423.80 L1146.50 428.41 L1146.75 433.03 L1147.00 437.68 L1147.25 442.35 L1147.50 447.03 L1147.75 451.74 L1148.00 456.48 L1148.25 461.24 L1148.50 466.03 L1148.75 470.84 L1149.00 475.69 L1149.25 480.57 L1149.50 485.48 L1149.75 490.44 L1150.00 495.43 L1150.25 500.46 L1150.50 505.54 L1150.75 510.66 L1151.00 515.83 L1151.25 521.06 L1151.50 526.34 L1151.75 531.67 L1152.00 537.07 L1152.25 542.53 L1152.50 548.06 L1152.75 553.66 L1153.00 559.33 L1153.25 565.07 L1153.50 570.89 L1153.75 576.80 L1154.00 582.78 L1154.25 588.85 L1154.50 595.01 L1154.75 601.25 L1155.00 607.59 L1155.25 614.02 L1155.50 620.55 L1155.75 627.18 L1156.00 633.91 L1156.25 640.73 L1156.50 647.66 L1156.75 654.70 L1157.00 661.83 L1157.25 669.07 L1157.50 676.42 L1157.75 683.87 L1158.00 691.42 L1158.25 699.08 L1158.50 706.84 L1158.75 714.70 L1159.00 722.67 L1159.25 730.73 L1159.50 738.88 L1159.75 747.04 L1160.00 755.24 L1160.25 763.48 L1160.50 771.77 L1160.75 780.09 L1161.00 788.44 L1161.25 796.82 L1161.50 805.23 L1161.75 813.66 L1162.00 822.11 L1162.25 830.58 L1162.50 839.07 L1162.75 847.56 L1163.00 856.06 L1163.25 864.56 L1163.50 873.06 L1163.75 881.55 L1164.00 890.04 L1164.25 898.51 L1164.50 906.96 L1164.75 915.39 L1165.00 923.79 L1165.25 932.16 L1165.50 940.50 L1165.75 948.79 L1166.00 957.04 L1166.25 965.24 L1166.50 973.38 L1166.75 981.47 L1167.00 989.48 L1167.25 997.43 L1167.50 1005.30 L1167.75 1013.09 L1168.00 1020.80 L1168.25 1028.41 L1168.50 1035.93 L1168.75 1043.34 L1169.00 1050.65 L1169.25 1057.85 L1169.50 1064.93 L1169.75 1071.89 L1170.00 1078.72 L1170.25 1085.41 L1170.50 1091.97 L1170.75 1098.39 L1171.00 1104.66 L1171.25 1110.78 L1171.50 1116.74 L1171.75 1122.53 L1172.00 1128.17 L1172.25 1133.63 L1172.50 1138.92 L1172.75 1144.03 L1173.00 1148.96 L1173.25 1153.70 L1173.50 1158.25 L1173.75 1162.61 L1174.00 1166.78 L1174.25 1170.75 L1174.50 1174.52 L1174.75 1178.08 L1175.00 1181.45 L1175.25 1184.60 L1175.50 1187.55 L1175.75 1190.29 L1176.00 1192.82 L1176.25 1195.14 L1176.50 1197.26 L1176.75 1199.16 L1177.00 1200.85 L1177.25 1202.33 L1177.50 1203.60 L1177.75 1204.67 L1178.00 1205.53 L1178.25 1206.18 L1178.50 1206.64 L1178.75 1206.89 L1179.00 1206.95 L1179.25 1206.81 L1179.50 1206.48 L1179.75 1205.97 L1180.00 1205.27 L1180.25 1204.38 L1180.50 1203.32 L1180.75 1202.09 L1181.00 1200.69 L1181.25 1199.12 L1181.50 1197.39 L1181.75 1195.51 L1182.00 1193.48 L1182.25 1191.30 L1182.50 1188.99 L1182.75 1186.53 L1183.00 1183.95 L1183.25 1181.24 L1183.50 1178.41 L1183.75 1175.47 L1184.00 1172.41 L1184.25 1169.25 L1184.50 1166.00 L1184.75 1162.64 L1185.00 1159.20 L1185.25 1155.67 L1185.50 1152.06 L1185.75 1148.38 L1186.00 1144.62 L1186.25 1140.80 L1186.50 1136.91 L1186.75 1132.97 L1187.00 1128.97 L1187.25 1124.92 L1187.50 1120.83 L1187.75 1116.68 L1188.00 1112.50 L1188.25 1108.28 L1188.50 1104.03 L1188.75 1099.74 L1189.00 1095.42 L1189.25 1091.07 L1189.50 1086.70 L1189.75 1082.30 L1190.00 1077.88 L1190.25 1073.44 L1190.50 1068.98 L1190.75 1064.49 L1191.00 1059.99 L1191.25 1055.47 L1191.50 1050.92 L1191.75 1046.36 L1192.00 1041.78 L1192.25 1037.18 L1192.50 1032.56 L1192.75 1027.92 L1193.00 1023.26 L1193.25 1018.57 L1193.50 1013.86 L1193.75 1009.13 L1194.00 1004.36 L1194.25 999.57 L1194.50 994.74 L1194.75 989.88 L1195.00 984.99 L1195.25 980.06 L1195.50 975.09 L1195.75 970.07 L1196.00 965.02 L1196.25 959.91 L1196.50 954.75 L1196.75 949.54 L1197.00 944.28 L1197.25 938.95 L1197.50 933.57 L1197.75 928.12 L1198.00 922.60 L1198.25 917.01 L1198.50 911.35 L1198.75 905.62 L1199.00 899.80 L1199.25 893.91 L1199.50 887.94 L1199.75 881.87 L1200.00 875.72 L1200.25 869.48 L1200.50 863.15 L1200.75 856.72 L1201.00 850.20 L1201.25 843.58 L1201.50 836.86 L1201.75 830.04 L1202.00 823.11 L1202.25 816.09 L1202.50 808.96 L1202.75 801.73 L1203.00 794.39 L1203.25 786.95 L1203.50 779.41 L1203.75 771.76 L1204.00 764.01 L1204.25 756.16 L1204.50 748.22 L1204.75 740.17 L1205.00 732.00 L1205.25 723.76 L1205.50 715.48 L1205.75 707.15 L1206.00 698.79 L1206.25 690.40 L1206.50 681.97 L1206.75 673.51 L1207.00 665.03 L1207.25 656.52 L1207.50 648.00 L1207.75 639.46 L1208.00 630.91 L1208.25 622.35 L1208.50 613.79 L1208.75 605.22 L1209.00 596.66 L1209.25 588.11 L1209.50 579.57 L1209.75 571.04 L1210.00 562.53 L1210.25 554.05 L1210.50 545.60 L1210.75 537.18 L1211.00 528.80 L1211.25 520.47 L1211.50 512.18 L1211.75 503.94 L1212.00 495.76 L1212.25 487.65 L1212.50 479.60 L1212.75 471.63 L1213.00 463.73 L1213.25 455.92 L1213.50 448.20 L1213.75 440.57 L1214.00 433.04 L1214.25 425.62 L1214.50 418.30 L1214.75 411.10 L1215.00 404.02 L1215.25 397.07 L1215.50 390.25 L1215.75 383.56 L1216.00 377.01 L1216.25 370.61 L1216.50 364.37 L1216.75 358.27 L1217.00 352.34 L1217.25 346.57 L1217.50 340.97 L1217.75 335.54 L1218.00 330.29 L1218.25 325.23 L1218.50 320.34 L1218.75 315.65 L1219.00 311.15 L1219.25 306.84 L1219.50 302.73 L1219.75 298.82 L1220.00 295.11 L1220.25 291.61 L1220.50 288.31 L1220.75 285.22 L1221.00 282.34 L1221.25 279.68 L1221.50 277.22 L1221.75 274.97 L1222.00 272.94 L1222.25 271.12 L1222.50 269.51 L1222.75 268.11 L1223.00 266.92 L1223.25 265.93 L1223.50 265.16 L1223.75 264.59 L1224.00 264.22 L1224.25 264.05 L1224.50 264.08 L1224.75 264.30 L1225.00 264.72 L1225.25 265.32 L1225.50 266.11 L1225.75 267.08 L1226.00 268.22 L1226.25 269.54 L1226.50 271.03 L1226.75 272.67 L1227.00 274.48 L1227.25 276.45 L1227.50 278.56 L1227.75 280.81 L1228.00 283.21 L1228.25 285.74 L1228.50 288.40 L1228.75 291.18 L1229.00 294.08 L1229.25 297.10 L1229.50 300.22 L1229.75 303.45 L1230.00 306.78 L1230.25 310.20 L1230.50 313.70 L1230.75 317.29 L1231.00 320.96 L1231.25 324.71 L1231.50 328.52 L1231.75 332.40 L1232.00 336.34 L1232.25 340.34 L1232.50 344.39 L1232.75 348.49 L1233.00 352.64 L1233.25 356.83 L1233.50 361.06 L1233.75 365.33 L1234.00 369.63 L1234.25 373.96 L1234.50 378.33 L1234.75 382.72 L1235.00 387.13 L1235.25 391.58 L1235.50 396.04 L1235.75 400.52 L1236.00 405.03 L1236.25 409.56 L1236.50 414.10 L1236.75 418.67 L1237.00 423.25 L1237.25 427.85 L1237.50 432.48 L1237.75 437.12 L1238.00 441.78 L1238.25 446.47 L1238.50 451.18 L1238.75 455.91 L1239.00 460.67 L1239.25 465.45 L1239.50 470.26 L1239.75 475.11 L1240.00 479.98 L1240.25 484.89 L1240.50 489.84 L1240.75 494.83 L1241.00 499.85 L1241.25 504.92 L1241.50 510.04 L1241.75 515.21 L1242.00 520.43 L1242.25 525.70 L1242.50 531.03 L1242.75 536.42 L1243.00 541.88 L1243.25 547.40 L1243.50 552.98 L1243.75 558.64 L1244.00 564.38 L1244.25 570.19 L1244.50 576.08 L1244.75 582.06 L1245.00 588.12 L1245.25 594.26 L1245.50 600.50 L1245.75 606.83 L1246.00 613.25 L1246.25 619.76 L1246.50 626.38 L1246.75 633.09 L1247.00 639.91 L1247.25 646.83 L1247.50 653.85 L1247.75 660.97 L1248.00 668.20 L1248.25 675.53 L1248.50 682.97 L1248.75 690.51 L1249.00 698.16 L1249.25 705.90 L1249.50 713.75 L1249.75 721.71 L1250.00 729.76 L1250.25 737.90 L1250.50 746.05 L1250.75 754.25 L1251.00 762.49 L1251.25 770.77 L1251.50 779.09 L1251.75 787.43 L1252.00 795.81 L1252.25 804.22 L1252.50 812.65 L1252.75 821.10 L1253.00 829.57 L1253.25 838.05 L1253.50 846.54 L1253.75 855.04 L1254.00 863.54 L1254.25 872.04 L1254.50 880.53 L1254.75 889.02 L1255.00 897.49 L1255.25 905.95 L1255.50 914.38 L1255.75 922.78 L1256.00 931.16 L1256.25 939.50 L1256.50 947.80 L1256.75 956.05 L1257.00 964.26 L1257.25 972.41 L1257.50 980.50 L1257.75 988.52 L1258.00 996.48 L1258.25 1004.36 L1258.50 1012.16 L1258.75 1019.88 L1259.00 1027.50 L1259.25 1035.03 L1259.50 1042.46 L1259.75 1049.78 L1260.00 1056.99 L1260.25 1064.09 L1260.50 1071.06 L1260.75 1077.90 L1261.00 1084.62 L1261.25 1091.19 L1261.50 1097.63 L1261.75 1103.92 L1262.00 1110.05 L1262.25 1116.03 L1262.50 1121.85 L1262.75 1127.50 L1263.00 1132.98 L1263.25 1138.29 L1263.50 1143.42 L1263.75 1148.37 L1264.00 1153.14 L1264.25 1157.71 L1264.50 1162.10 L1264.75 1166.29 L1265.00 1170.28 L1265.25 1174.08 L1265.50 1177.67 L1265.75 1181.05 L1266.00 1184.23 L1266.25 1187.21 L1266.50 1189.97 L1266.75 1192.53 L1267.00 1194.88 L1267.25 1197.01 L1267.50 1198.94 L1267.75 1200.66 L1268.00 1202.16 L1268.25 1203.46 L1268.50 1204.55 L1268.75 1205.44 L1269.00 1206.12 L1269.25 1206.60 L1269.50 1206.87 L1269.75 1206.95 L1270.00 1206.84 L1270.25 1206.53 L1270.50 1206.04 L1270.75 1205.36 L1271.00 1204.50 L1271.25 1203.46 L1271.50 1202.25 L1271.75 1200.86 L1272.00 1199.32 L1272.25 1197.61 L1272.50 1195.75 L1272.75 1193.73 L1273.00 1191.57 L1273.25 1189.27 L1273.50 1186.83 L1273.75 1184.27 L1274.00 1181.57 L1274.25 1178.76 L1274.50 1175.83 L1274.75 1172.79 L1275.00 1169.64 L1275.25 1166.39 L1275.50 1163.05 L1275.75 1159.62 L1276.00 1156.10 L1276.25 1152.50 L1276.50 1148.82 L1276.75 1145.08 L1277.00 1141.26 L1277.25 1137.38 L1277.50 1133.45 L1277.75 1129.45 L1278.00 1125.41 L1278.25 1121.32 L1278.50 1117.18 L1278.75 1113.01 L1279.00 1108.79 L1279.25 1104.54 L1279.50 1100.26 L1279.75 1095.94 L1280.00 1091.60 L1280.25 1087.23 L1280.50 1082.83 L1280.75 1078.42 L1281.00 1073.97 L1281.25 1069.51 L1281.50 1065.03 L1281.75 1060.53 L1282.00 1056.01 L1282.25 1051.47 L1282.50 1046.91 L1282.75 1042.33 L1283.00 1037.74 L1283.25 1033.12 L1283.50 1028.48 L1283.75 1023.82 L1284.00 1019.14 L1284.25 1014.43 L1284.50 1009.70 L1284.75 1004.94 L1285.00 1000.15 L1285.25 995.32 L1285.50 990.47 L1285.75 985.58 L1286.00 980.65 L1286.25 975.69 L1286.50 970.68 L1286.75 965.62 L1287.00 960.52 L1287.25 955.37 L1287.50 950.17 L1287.75 944.91 L1288.00 939.59 L1288.25 934.22 L1288.50 928.77 L1288.75 923.26 L1289.00 917.69 L1289.25 912.04 L1289.50 906.31 L1289.75 900.51 L1290.00 894.62 L1290.25 888.66 L1290.50 882.60 L1290.75 876.47 L1291.00 870.24 L1291.25 863.91 L1291.50 857.50 L1291.75 850.99 L1292.00 844.38 L1292.25 837.67 L1292.50 830.86 L1292.75 823.95 L1293.00 816.94 L1293.25 809.82 L1293.50 802.60 L1293.75 795.28 L1294.00 787.85 L1294.25 780.32 L1294.50 772.68 L1294.75 764.95 L1295.00 757.11 L1295.25 749.17 L1295.50 741.14 L1295.75 732.99 L1296.00 724.75 L1296.25 716.47 L1296.50 708.15 L1296.75 699.80 L1297.00 691.40 L1297.25 682.98 L1297.50 674.53 L1297.75 666.05 L1298.00 657.55 L1298.25 649.02 L1298.50 640.49 L1298.75 631.94 L1299.00 623.38 L1299.25 614.81 L1299.50 606.25 L1299.75 597.69 L1300.00 589.13 L1300.25 580.59 L1300.50 572.06 L1300.75 563.55 L1301.00 555.07 L1301.25 546.61 L1301.50 538.19 L1301.75 529.81 L1302.00 521.46 L1302.25 513.17 L1302.50 504.93 L1302.75 496.74 L1303.00 488.62 L1303.25 480.56 L1303.50 472.58 L1303.75 464.68 L1304.00 456.85 L1304.25 449.12 L1304.50 441.48 L1304.75 433.94 L1305.00 426.50 L1305.25 419.17 L1305.50 411.96 L1305.75 404.86 L1306.00 397.90 L1306.25 391.06 L1306.50 384.35 L1306.75 377.79 L1307.00 371.37 L1307.25 365.11 L1307.50 358.99 L1307.75 353.04 L1308.00 347.25 L1308.25 341.63 L1308.50 336.19 L1308.75 330.92 L1309.00 325.83 L1309.25 320.92 L1309.50 316.20 L1309.75 311.68 L1310.00 307.35 L1310.25 303.21 L1310.50 299.28 L1310.75 295.54 L1311.00 292.02 L1311.25 288.70 L1311.50 285.58 L1311.75 282.68 L1312.00 279.99 L1312.25 277.50 L1312.50 275.23 L1312.75 273.17 L1313.00 271.33 L1313.25 269.69 L1313.50 268.26 L1313.75 267.05 L1314.00 266.04 L1314.25 265.24 L1314.50 264.64 L1314.75 264.25 L1315.00 264.06 L1315.25 264.06 L1315.50 264.26 L1315.75 264.66 L1316.00 265.24 L1316.25 266.00 L1316.50 266.95 L1316.75 268.07 L1317.00 269.37 L1317.25 270.84 L1317.50 272.47 L1317.75 274.26 L1318.00 276.20 L1318.25 278.30 L1318.50 280.54 L1318.75 282.92 L1319.00 285.43 L1319.25 288.07 L1319.50 290.84 L1319.75 293.73 L1320.00 296.73 L1320.25 299.84 L1320.50 303.06 L1320.75 306.37 L1321.00 309.78 L1321.25 313.28 L1321.50 316.86 L1321.75 320.52 L1322.00 324.25 L1322.25 328.06 L1322.50 331.93 L1322.75 335.87 L1323.00 339.86 L1323.25 343.90 L1323.50 348.00 L1323.75 352.14 L1324.00 356.32 L1324.25 360.55 L1324.50 364.81 L1324.75 369.11 L1325.00 373.44 L1325.25 377.80 L1325.50 382.19 L1325.75 386.60 L1326.00 391.04 L1326.25 395.50 L1326.50 399.98 L1326.75 404.49 L1327.00 409.01 L1327.25 413.56 L1327.50 418.12 L1327.75 422.70 L1328.00 427.30 L1328.25 431.92 L1328.50 436.56 L1328.75 441.22 L1329.00 445.91 L1329.25 450.61 L1329.50 455.34 L1329.75 460.09 L1330.00 464.88 L1330.25 469.68 L1330.50 474.52 L1330.75 479.40 L1331.00 484.30 L1331.25 489.24 L1331.50 494.22 L1331.75 499.25 L1332.00 504.31 L1332.25 509.42 L1332.50 514.59 L1332.75 519.80 L1333.00 525.06 L1333.25 530.39 L1333.50 535.77 L1333.75 541.22 L1334.00 546.73 L1334.25 552.31 L1334.50 557.96 L1334.75 563.69 L1335.00 569.49 L1335.25 575.37 L1335.50 581.34 L1335.75 587.38 L1336.00 593.52 L1336.25 599.74 L1336.50 606.06 L1336.75 612.47 L1337.00 618.98 L1337.25 625.58 L1337.50 632.28 L1337.75 639.09 L1338.00 645.99 L1338.25 653.00 L1338.50 660.11 L1338.75 667.33 L1339.00 674.65 L1339.25 682.07 L1339.50 689.60 L1339.75 697.23 L1340.00 704.97 L1340.25 712.81 L1340.50 720.75 L1340.75 728.79 L1341.00 736.92 L1341.25 745.07 L1341.50 753.27 L1341.75 761.50 L1342.00 769.78 L1342.25 778.09 L1342.50 786.43 L1342.75 794.81 L1343.00 803.21 L1343.25 811.64 L1343.50 820.08 L1343.75 828.55 L1344.00 837.03 L1344.25 845.52 L1344.50 854.02 L1344.75 862.52 L1345.00 871.02 L1345.25 879.51 L1345.50 888.00 L1345.75 896.47 L1346.00 904.93 L1346.25 913.37 L1346.50 921.78 L1346.75 930.16 L1347.00 938.50 L1347.25 946.81 L1347.50 955.07 L1347.75 963.28 L1348.00 971.43 L1348.25 979.53 L1348.50 987.56 L1348.75 995.53 L1349.00 1003.42 L1349.25 1011.23 L1349.50 1018.96 L1349.75 1026.59 L1350.00 1034.13 L1350.25 1041.57 L1350.50 1048.91 L1350.75 1056.13 L1351.00 1063.24 L1351.25 1070.23 L1351.50 1077.09 L1351.75 1083.82 L1352.00 1090.41 L1352.25 1096.86 L1352.50 1103.17 L1352.75 1109.32 L1353.00 1115.32 L1353.25 1121.16 L1353.50 1126.83 L1353.75 1132.33 L1354.00 1137.66 L1354.25 1142.82 L1354.50 1147.79 L1354.75 1152.58 L1355.00 1157.18 L1355.25 1161.58 L1355.50 1165.80 L1355.75 1169.81 L1356.00 1173.63 L1356.25 1177.25 L1356.50 1180.66 L1356.75 1183.86 L1357.00 1186.86 L1357.25 1189.65 L1357.50 1192.23 L1357.75 1194.61 L1358.00 1196.77 L1358.25 1198.72 L1358.50 1200.46 L1358.75 1201.99 L1359.00 1203.32 L1359.25 1204.43 L1359.50 1205.34 L1359.75 1206.05 L1360.00 1206.55 L1360.25 1206.85 L1360.50 1206.95 L1360.75 1206.86 L1361.00 1206.58 L1361.25 1206.11 L1361.50 1205.45 L1361.75 1204.61 L1362.00 1203.59 L1362.25 1202.40 L1362.50 1201.04 L1362.75 1199.51 L1363.00 1197.82 L1363.25 1195.98 L1363.50 1193.98 L1363.75 1191.84 L1364.00 1189.56 L1364.25 1187.13 L1364.50 1184.58 L1364.75 1181.90 L1365.00 1179.10 L1365.25 1176.18 L1365.50 1173.16 L1365.75 1170.02 L1366.00 1166.79 L1366.25 1163.46 L1366.50 1160.03 L1366.75 1156.52 L1367.00 1152.93 L1367.25 1149.27 L1367.50 1145.53 L1367.75 1141.72 L1368.00 1137.85 L1368.25 1133.92 L1368.50 1129.94 L1368.75 1125.90 L1369.00 1121.81 L1369.25 1117.68 L1369.50 1113.51 L1369.75 1109.30 L1370.00 1105.05 L1370.25 1100.77 L1370.50 1096.46 L1370.75 1092.12 L1371.00 1087.75 L1371.25 1083.36 L1371.50 1078.95 L1371.75 1074.51 L1372.00 1070.05 L1372.25 1065.57 L1372.50 1061.07 L1372.75 1056.55 L1373.00 1052.02 L1373.25 1047.46 L1373.50 1042.88 L1373.75 1038.29 L1374.00 1033.67 L1374.25 1029.04 L1374.50 1024.38 L1374.75 1019.70 L1375.00 1015.00 L1375.25 1010.27 L1375.50 1005.51 L1375.75 1000.72 L1376.00 995.90 L1376.25 991.05 L1376.50 986.17 L1376.75 981.25 L1377.00 976.29 L1377.25 971.28 L1377.50 966.23 L1377.75 961.14 L1378.00 955.99 L1378.25 950.80 L1378.50 945.54 L1378.75 940.23 L1379.00 934.86 L1379.25 929.43 L1379.50 923.93 L1379.75 918.36 L1380.00 912.72 L1380.25 907.00 L1380.50 901.21 L1380.75 895.33 L1381.00 889.38 L1381.25 883.34 L1381.50 877.21 L1381.75 870.99 L1382.00 864.68 L1382.25 858.27 L1382.50 851.77 L1382.75 845.18 L1383.00 838.48 L1383.25 831.68 L1383.50 824.78 L1383.75 817.78 L1384.00 810.68 L1384.25 803.47 L1384.50 796.16 L1384.75 788.75 L1385.00 781.23 L1385.25 773.60 L1385.50 765.88 L1385.75 758.06 L1386.00 750.13 L1386.25 742.11 L1386.50 733.97 L1386.75 725.74 L1387.00 717.47 L1387.25 709.15 L1387.50 700.80 L1387.75 692.41 L1388.00 683.99 L1388.25 675.54 L1388.50 667.07 L1388.75 658.57 L1389.00 650.05 L1389.25 641.51 L1389.50 632.96 L1389.75 624.41 L1390.00 615.84 L1390.25 607.28 L1390.50 598.72 L1390.75 590.16 L1391.00 581.61 L1391.25 573.08 L1391.50 564.57 L1391.75 556.09 L1392.00 547.63 L1392.25 539.20 L1392.50 530.81 L1392.75 522.46 L1393.00 514.16 L1393.25 505.91 L1393.50 497.72 L1393.75 489.59 L1394.00 481.53 L1394.25 473.53 L1394.50 465.62 L1394.75 457.79 L1395.00 450.04 L1395.25 442.39 L1395.50 434.84 L1395.75 427.39 L1396.00 420.05 L1396.25 412.82 L1396.50 405.71 L1396.75 398.73 L1397.00 391.87 L1397.25 385.15 L1397.50 378.57 L1397.75 372.14 L1398.00 365.85 L1398.25 359.72 L1398.50 353.75 L1398.75 347.94 L1399.00 342.30 L1399.25 336.83 L1399.50 331.54 L1399.75 326.43 L1400.00 321.50 L1400.25 316.76 L1400.50 312.21 L1400.75 307.85 L1401.00 303.70 L1401.25 299.74 L1401.50 295.98 L1401.75 292.43 L1402.00 289.08 L1402.25 285.95 L1402.50 283.02 L1402.75 280.30 L1403.00 277.79 L1403.25 275.49 L1403.50 273.41 L1403.75 271.54 L1404.00 269.87 L1404.25 268.42 L1404.50 267.18 L1404.75 266.15 L1405.00 265.32 L1405.25 264.70 L1405.50 264.29 L1405.75 264.07 L1406.00 264.05 L1406.25 264.23 L1406.50 264.60 L1406.75 265.16 L1407.00 265.90 L1407.25 266.83 L1407.50 267.93 L1407.75 269.21 L1408.00 270.65 L1408.25 272.26 L1408.50 274.03 L1408.75 275.96 L1409.00 278.04 L1409.25 280.26 L1409.50 282.62 L1409.75 285.12 L1410.00 287.75 L1410.25 290.50 L1410.50 293.38 L1410.75 296.37 L1411.00 299.46 L1411.25 302.67 L1411.50 305.97 L1411.75 309.37 L1412.00 312.85 L1412.25 316.42 L1412.50 320.08 L1412.75 323.80 L1413.00 327.60 L1413.25 331.46 L1413.50 335.39 L1413.75 339.38 L1414.00 343.41 L1414.25 347.50 L1414.50 351.64 L1414.75 355.82 L1415.00 360.04 L1415.25 364.30 L1415.50 368.59 L1415.75 372.92 L1416.00 377.28 L1416.25 381.66 L1416.50 386.07 L1416.75 390.51 L1417.00 394.97 L1417.25 399.45 L1417.50 403.95 L1417.75 408.47 L1418.00 413.01 L1418.25 417.57 L1418.50 422.15 L1418.75 426.75 L1419.00 431.37 L1419.25 436.00 L1419.50 440.66 L1419.75 445.34 L1420.00 450.05 L1420.25 454.77 L1420.50 459.52 L1420.75 464.30 L1421.00 469.11 L1421.25 473.94 L1421.50 478.81 L1421.75 483.71 L1422.00 488.65 L1422.25 493.62 L1422.50 498.64 L1422.75 503.70 L1423.00 508.81 L1423.25 513.96 L1423.50 519.17 L1423.75 524.43 L1424.00 529.75 L1424.25 535.12 L1424.50 540.56 L1424.75 546.06 L1425.00 551.64 L1425.25 557.28 L1425.50 563.00 L1425.75 568.79 L1426.00 574.66 L1426.25 580.62 L1426.50 586.65 L1426.75 592.78 L1427.00 598.99 L1427.25 605.30 L1427.50 611.70 L1427.75 618.19 L1428.00 624.78 L1428.25 631.47 L1428.50 638.26 L1428.75 645.16 L1429.00 652.15 L1429.25 659.25 L1429.50 666.45 L1429.75 673.76 L1430.00 681.17 L1430.25 688.69 L1430.50 696.31 L1430.75 704.03 L1431.00 711.86 L1431.25 719.79 L1431.50 727.82 L1431.75 735.94 L1432.00 744.09 L1432.25 752.28 L1432.50 760.51 L1432.75 768.78 L1433.00 777.09 L1433.25 785.43 L1433.50 793.80 L1433.75 802.20 L1434.00 810.62 L1434.25 819.07 L1434.50 827.53 L1434.75 836.01 L1435.00 844.50 L1435.25 853.00 L1435.50 861.50 L1435.75 870.00 L1436.00 878.49 L1436.25 886.98 L1436.50 895.46 L1436.75 903.92 L1437.00 912.36 L1437.25 920.77 L1437.50 929.15 L1437.75 937.50 L1438.00 945.81 L1438.25 954.08 L1438.50 962.29 L1438.75 970.46 L1439.00 978.56 L1439.25 986.60 L1439.50 994.58 L1439.75 1002.48 L1440.00 1010.30 L1440.25 1018.03 L1440.50 1025.68 L1440.75 1033.23 L1441.00 1040.69 L1441.25 1048.04 L1441.50 1055.27 L1441.75 1062.40 L1442.00 1069.40 L1442.25 1076.27 L1442.50 1083.02 L1442.75 1089.63 L1443.00 1096.10 L1443.25 1102.42 L1443.50 1108.59 L1443.75 1114.61 L1444.00 1120.47 L1444.25 1126.16 L1444.50 1131.68 L1444.75 1137.03 L1445.00 1142.21 L1445.25 1147.20 L1445.50 1152.01 L1445.75 1156.63 L1446.00 1161.06 L1446.25 1165.30 L1446.50 1169.34 L1446.75 1173.18 L1447.00 1176.82 L1447.25 1180.26 L1447.50 1183.49 L1447.75 1186.51 L1448.00 1189.33 L1448.25 1191.94 L1448.50 1194.33 L1448.75 1196.52 L1449.00 1198.50 L1449.25 1200.26 L1449.50 1201.82 L1449.75 1203.17 L1450.00 1204.31 L1450.25 1205.24 L1450.50 1205.97 L1450.75 1206.50 L1451.00 1206.82 L1451.25 1206.95 L1451.50 1206.88 L1451.75 1206.62 L1452.00 1206.17 L1452.25 1205.54 L1452.50 1204.72 L1452.75 1203.72 L1453.00 1202.55 L1453.25 1201.21 L1453.50 1199.70 L1453.75 1198.03 L1454.00 1196.21 L1454.25 1194.23 L1454.50 1192.10 L1454.75 1189.84 L1455.00 1187.43 L1455.25 1184.89 L1455.50 1182.23 L1455.75 1179.44 L1456.00 1176.54 L1456.25 1173.52 L1456.50 1170.40 L1456.75 1167.18 L1457.00 1163.86 L1457.25 1160.45 L1457.50 1156.95 L1457.75 1153.37 L1458.00 1149.71 L1458.25 1145.98 L1458.50 1142.18 L1458.75 1138.32 L1459.00 1134.40 L1459.25 1130.42 L1459.50 1126.39 L1459.75 1122.31 L1460.00 1118.18 L1460.25 1114.01 L1460.50 1109.81 L1460.75 1105.56 L1461.00 1101.29 L1461.25 1096.98 L1461.50 1092.64 L1461.75 1088.28 L1462.00 1083.89 L1462.25 1079.48 L1462.50 1075.04 L1462.75 1070.59 L1463.00 1066.11 L1463.25 1061.61 L1463.50 1057.10 L1463.75 1052.56 L1464.00 1048.01 L1464.25 1043.43 L1464.50 1038.84 L1464.75 1034.23 L1465.00 1029.60 L1465.25 1024.94 L1465.50 1020.26 L1465.75 1015.56 L1466.00 1010.83 L1466.25 1006.08 L1466.50 1001.30 L1466.75 996.48 L1467.00 991.64 L1467.25 986.76 L1467.50 981.84 L1467.75 976.88 L1468.00 971.88 L1468.25 966.84 L1468.50 961.75 L1468.75 956.61 L1469.00 951.42 L1469.25 946.18 L1469.50 940.88 L1469.75 935.51 L1470.00 930.09 L1470.25 924.59 L1470.50 919.03 L1470.75 913.40 L1471.00 907.69 L1471.25 901.91 L1471.50 896.04 L1471.75 890.10 L1472.00 884.07 L1472.25 877.95 L1472.50 871.74 L1472.75 865.44 L1473.00 859.05 L1473.25 852.56 L1473.50 845.97 L1473.75 839.29 L1474.00 832.50 L1474.25 825.62 L1474.50 818.63 L1474.75 811.54 L1475.00 804.34 L1475.25 797.04 L1475.50 789.64 L1475.75 782.13 L1476.00 774.52 L1476.25 766.81 L1476.50 759.00 L1476.75 751.09 L1477.00 743.08 L1477.25 734.96 L1477.50 726.73 L1477.75 718.46 L1478.00 710.15 L1478.25 701.81 L1478.50 693.42 L1478.75 685.00 L1479.00 676.56 L1479.25 668.08 L1479.50 659.59 L1479.75 651.07 L1480.00 642.54 L1480.25 633.99 L1480.50 625.43 L1480.75 616.87 L1481.00 608.31 L1481.25 599.74 L1481.50 591.19 L1481.75 582.64 L1482.00 574.11 L1482.25 565.59 L1482.50 557.10 L1482.75 548.64 L1483.00 540.21 L1483.25 531.81 L1483.50 523.46 L1483.75 515.15 L1484.00 506.90 L1484.25 498.70 L1484.50 490.56 L1484.75 482.49 L1485.00 474.49 L1485.25 466.57 L1485.50 458.72 L1485.75 450.97 L1486.00 443.30 L1486.25 435.74 L1486.50 428.28 L1486.75 420.92 L1487.00 413.68 L1487.25 406.56 L1487.50 399.56 L1487.75 392.69 L1488.00 385.95 L1488.25 379.35 L1488.50 372.90 L1488.75 366.60 L1489.00 360.45 L1489.25 354.46 L1489.50 348.63 L1489.75 342.97 L1490.00 337.48 L1490.25 332.16 L1490.50 327.03 L1490.75 322.08 L1491.00 317.32 L1491.25 312.75 L1491.50 308.37 L1491.75 304.18 L1492.00 300.20 L1492.25 296.42 L1492.50 292.84 L1492.75 289.47 L1493.00 286.31 L1493.25 283.36 L1493.50 280.61 L1493.75 278.08 L1494.00 275.76 L1494.25 273.65 L1494.50 271.75 L1494.75 270.06 L1495.00 268.59 L1495.25 267.32 L1495.50 266.26 L1495.75 265.41 L1496.00 264.77 L1496.25 264.33 L1496.50 264.09 L1496.75 264.04 L1497.00 264.20 L1497.25 264.55 L1497.50 265.08 L1497.75 265.80 L1498.00 266.71 L1498.25 267.79 L1498.50 269.05 L1498.75 270.47 L1499.00 272.06 L1499.25 273.81 L1499.50 275.72 L1499.75 277.78 L1500.00 279.99 L1500.25 282.33 L1500.50 284.81 L1500.75 287.43 L1501.00 290.17 L1501.25 293.03 L1501.50 296.00 L1501.75 299.09 L1502.00 302.28 L1502.25 305.57 L1502.50 308.95 L1502.75 312.43 L1503.00 315.99 L1503.25 319.63 L1503.50 323.35 L1503.75 327.14 L1504.00 331.00 L1504.25 334.92 L1504.50 338.89 L1504.75 342.93 L1505.00 347.01 L1505.25 351.14 L1505.50 355.32 L1505.75 359.53 L1506.00 363.79 L1506.25 368.08 L1506.50 372.40 L1506.75 376.75 L1507.00 381.13 L1507.25 385.54 L1507.50 389.97 L1507.75 394.43 L1508.00 398.91 L1508.25 403.41 L1508.50 407.92 L1508.75 412.46 L1509.00 417.02 L1509.25 421.60 L1509.50 426.20 L1509.75 430.81 L1510.00 435.45 L1510.25 440.10 L1510.50 444.78 L1510.75 449.48 L1511.00 454.20 L1511.25 458.95 L1511.50 463.73 L1511.75 468.53 L1512.00 473.36 L1512.25 478.22 L1512.50 483.12 L1512.75 488.05 L1513.00 493.03 L1513.25 498.04 L1513.50 503.09 L1513.75 508.19 L1514.00 513.34 L1514.25 518.54 L1514.50 523.79 L1514.75 529.10 L1515.00 534.47 L1515.25 539.90 L1515.50 545.40 L1515.75 550.96 L1516.00 556.60 L1516.25 562.31 L1516.50 568.09 L1516.75 573.95 L1517.00 579.90 L1517.25 585.92 L1517.50 592.04 L1517.75 598.24 L1518.00 604.54 L1518.25 610.92 L1518.50 617.41 L1518.75 623.99 L1519.00 630.67 L1519.25 637.44 L1519.50 644.32 L1519.75 651.31 L1520.00 658.39 L1520.25 665.58 L1520.50 672.88 L1520.75 680.28 L1521.00 687.78 L1521.25 695.39 L1521.50 703.10 L1521.75 710.92 L1522.00 718.83 L1522.25 726.85 L1522.50 734.96 L1522.75 743.11 L1523.00 751.30 L1523.25 759.52 L1523.50 767.79 L1523.75 776.09 L1524.00 784.43 L1524.25 792.79 L1524.50 801.19 L1524.75 809.61 L1525.00 818.05 L1525.25 826.52 L1525.50 834.99 L1525.75 843.48 L1526.00 851.98 L1526.25 860.48 L1526.50 868.98 L1526.75 877.48 L1527.00 885.96 L1527.25 894.44 L1527.50 902.90 L1527.75 911.34 L1528.00 919.76 L1528.25 928.15 L1528.50 936.50 L1528.75 944.82 L1529.00 953.09 L1529.25 961.31 L1529.50 969.48 L1529.75 977.59 L1530.00 985.64 L1530.25 993.62 L1530.50 1001.53 L1530.75 1009.36 L1531.00 1017.11 L1531.25 1024.77 L1531.50 1032.33 L1531.75 1039.80 L1532.00 1047.16 L1532.25 1054.41 L1532.50 1061.55 L1532.75 1068.56 L1533.00 1075.46 L1533.25 1082.22 L1533.50 1088.84 L1533.75 1095.33 L1534.00 1101.67 L1534.25 1107.86 L1534.50 1113.90 L1534.75 1119.77 L1535.00 1125.48 L1535.25 1131.03 L1535.50 1136.40 L1535.75 1141.60 L1536.00 1146.61 L1536.25 1151.44 L1536.50 1156.09 L1536.75 1160.54 L1537.00 1164.80 L1537.25 1168.87 L1537.50 1172.73 L1537.75 1176.40 L1538.00 1179.86 L1538.25 1183.11 L1538.50 1186.16 L1538.75 1189.00 L1539.00 1191.63 L1539.25 1194.06 L1539.50 1196.27 L1539.75 1198.27 L1540.00 1200.06 L1540.25 1201.64 L1540.50 1203.02 L1540.75 1204.18 L1541.00 1205.14 L1541.25 1205.90 L1541.50 1206.45 L1541.75 1206.80 L1542.00 1206.95 L1542.25 1206.90 L1542.50 1206.67 L1542.75 1206.24 L1543.00 1205.62 L1543.25 1204.83 L1543.50 1203.85 L1543.75 1202.70 L1544.00 1201.38 L1544.25 1199.89 L1544.50 1198.24 L1544.75 1196.44 L1545.00 1194.48 L1545.25 1192.37 L1545.50 1190.12 L1545.75 1187.73 L1546.00 1185.21 L1546.25 1182.56 L1546.50 1179.78 L1546.75 1176.89 L1547.00 1173.89 L1547.25 1170.78 L1547.50 1167.57 L1547.75 1164.26 L1548.00 1160.86 L1548.25 1157.37 L1548.50 1153.80 L1548.75 1150.15 L1549.00 1146.43 L1549.25 1142.64 L1549.50 1138.79 L1549.75 1134.87 L1550.00 1130.90 L1550.25 1126.87 L1550.50 1122.80 L1550.75 1118.68 L1551.00 1114.51 L1551.25 1110.31 L1551.50 1106.07 L1551.75 1101.80 L1552.00 1097.50 L1552.25 1093.16 L1552.50 1088.80 L1552.75 1084.42 L1553.00 1080.01 L1553.25 1075.58 L1553.50 1071.12 L1553.75 1066.65 L1554.00 1062.15 L1554.25 1057.64 L1554.50 1053.11 L1554.75 1048.56 L1555.00 1043.98 L1555.25 1039.39 L1555.50 1034.78 L1555.75 1030.15 L1556.00 1025.50 L1556.25 1020.83 L1556.50 1016.13 L1556.75 1011.40 L1557.00 1006.65 L1557.25 1001.87 L1557.50 997.06 L1557.75 992.22 L1558.00 987.34 L1558.25 982.43 L1558.50 977.48 L1558.75 972.49 L1559.00 967.45 L1559.25 962.37 L1559.50 957.23 L1559.75 952.05 L1560.00 946.81 L1560.25 941.51 L1560.50 936.16 L1560.75 930.74 L1561.00 925.26 L1561.25 919.70 L1561.50 914.08 L1561.75 908.38 L1562.00 902.60 L1562.25 896.75 L1562.50 890.81 L1562.75 884.79 L1563.00 878.69 L1563.25 872.49 L1563.50 866.20 L1563.75 859.82 L1564.00 853.34 L1564.25 846.77 L1564.50 840.10 L1564.75 833.32 L1565.00 826.45 L1565.25 819.47 L1565.50 812.39 L1565.75 805.21 L1566.00 797.92 L1566.25 790.53 L1566.50 783.04 L1566.75 775.44 L1567.00 767.74 L1567.25 759.94 L1567.50 752.04 L1567.75 744.04 L1568.00 735.94 L1568.25 727.72 L1568.50 719.46 L1568.75 711.15 L1569.00 702.81 L1569.25 694.43 L1569.50 686.02 L1569.75 677.57 L1570.00 669.10 L1570.25 660.61 L1570.50 652.09 L1570.75 643.56 L1571.00 635.02 L1571.25 626.46 L1571.50 617.90 L1571.75 609.33 L1572.00 600.77 L1572.25 592.21 L1572.50 583.66 L1572.75 575.13 L1573.00 566.61 L1573.25 558.12 L1573.50 549.65 L1573.75 541.22 L1574.00 532.82 L1574.25 524.46 L1574.50 516.15 L1574.75 507.89 L1575.00 499.68 L1575.25 491.53 L1575.50 483.45 L1575.75 475.45 L1576.00 467.51 L1576.25 459.66 L1576.50 451.89 L1576.75 444.22 L1577.00 436.64 L1577.25 429.17 L1577.50 421.80 L1577.75 414.54 L1578.00 407.40 L1578.25 400.39 L1578.50 393.50 L1578.75 386.75 L1579.00 380.14 L1579.25 373.67 L1579.50 367.35 L1579.75 361.18 L1580.00 355.17 L1580.25 349.32 L1580.50 343.64 L1580.75 338.13 L1581.00 332.79 L1581.25 327.64 L1581.50 322.66 L1581.75 317.88 L1582.00 313.28 L1582.25 308.88 L1582.50 304.68 L1582.75 300.67 L1583.00 296.86 L1583.25 293.26 L1583.50 289.87 L1583.75 286.68 L1584.00 283.70 L1584.25 280.93 L1584.50 278.37 L1584.75 276.02 L1585.00 273.89 L1585.25 271.97 L1585.50 270.25 L1585.75 268.75 L1586.00 267.46 L1586.25 266.38 L1586.50 265.50 L1586.75 264.83 L1587.00 264.37 L1587.25 264.10 L1587.50 264.04 L1587.75 264.17 L1588.00 264.49 L1588.25 265.01 L1588.50 265.71 L1588.75 266.59 L1589.00 267.65 L1589.25 268.89 L1589.50 270.29 L1589.75 271.86 L1590.00 273.60 L1590.25 275.48 L1590.50 277.53 L1590.75 279.71 L1591.00 282.04 L1591.25 284.51 L1591.50 287.11 L1591.75 289.83 L1592.00 292.68 L1592.25 295.64 L1592.50 298.71 L1592.75 301.89 L1593.00 305.17 L1593.25 308.54 L1593.50 312.01 L1593.75 315.56 L1594.00 319.19 L1594.25 322.90 L1594.50 326.68 L1594.75 330.53 L1595.00 334.44 L1595.25 338.41 L1595.50 342.44 L1595.75 346.52 L1596.00 350.64 L1596.25 354.81 L1596.50 359.02 L1596.75 363.27 L1597.00 367.56 L1597.25 371.88 L1597.50 376.23 L1597.75 380.61 L1598.00 385.01 L1598.25 389.44 L1598.50 393.89 L1598.75 398.37 L1599.00 402.86 L1599.25 407.38 L1599.50 411.92 L1599.75 416.47 L1600.00 421.05 L1600.25 425.64 L1600.50 430.26 L1600.75 434.89 L1601.00 439.54 L1601.25 444.22 L1601.50 448.91 L1601.75 453.64 L1602.00 458.38 L1602.25 463.15 L1602.50 467.95 L1602.75 472.78 L1603.00 477.64 L1603.25 482.53 L1603.50 487.46 L1603.75 492.43 L1604.00 497.43 L1604.25 502.48 L1604.50 507.58 L1604.75 512.72 L1605.00 517.91 L1605.25 523.16 L1605.50 528.46 L1605.75 533.83 L1606.00 539.25 L1606.25 544.74 L1606.50 550.29 L1606.75 555.92 L1607.00 561.62 L1607.25 567.39 L1607.50 573.24 L1607.75 579.18 L1608.00 585.20 L1608.25 591.30 L1608.50 597.49 L1608.75 603.78 L1609.00 610.15 L1609.25 616.62 L1609.50 623.19 L1609.75 629.86 L1610.00 636.63 L1610.25 643.49 L1610.50 650.46 L1610.75 657.54 L1611.00 664.72 L1611.25 672.00 L1611.50 679.38 L1611.75 686.88 L1612.00 694.47 L1612.25 702.17 L1612.50 709.97 L1612.75 717.88 L1613.00 725.88 L1613.25 733.98 L1613.50 742.13 L1613.75 750.31 L1614.00 758.53 L1614.25 766.79 L1614.50 775.09 L1614.75 783.42 L1615.00 791.79 L1615.25 800.18 L1615.50 808.60 L1615.75 817.04 L1616.00 825.50 L1616.25 833.97 L1616.50 842.46 L1616.75 850.96 L1617.00 859.46 L1617.25 867.96 L1617.50 876.46 L1617.75 884.95 L1618.00 893.43 L1618.25 901.89 L1618.50 910.33 L1618.75 918.75 L1619.00 927.14 L1619.25 935.50 L1619.50 943.82 L1619.75 952.10 L1620.00 960.33 L1620.25 968.50 L1620.50 976.62 L1620.75 984.68 L1621.00 992.67 L1621.25 1000.59 L1621.50 1008.43 L1621.75 1016.19 L1622.00 1023.85 L1622.25 1031.43 L1622.50 1038.91 L1622.75 1046.28 L1623.00 1053.55 L1623.25 1060.70 L1623.50 1067.73 L1623.75 1074.64 L1624.00 1081.41 L1624.25 1088.05 L1624.50 1094.56 L1624.75 1100.92 L1625.00 1107.12 L1625.25 1113.18 L1625.50 1119.07 L1625.75 1124.81 L1626.00 1130.37 L1626.25 1135.77 L1626.50 1140.98 L1626.75 1146.02 L1627.00 1150.87 L1627.25 1155.54 L1627.50 1160.02 L1627.75 1164.30 L1628.00 1168.39 L1628.25 1172.28 L1628.50 1175.97 L1628.75 1179.45 L1629.00 1182.73 L1629.25 1185.81 L1629.50 1188.67 L1629.75 1191.33 L1630.00 1193.78 L1630.25 1196.01 L1630.50 1198.04 L1630.75 1199.86 L1631.00 1201.47 L1631.25 1202.86 L1631.50 1204.05 L1631.75 1205.04 L1632.00 1205.82 L1632.25 1206.39 L1632.50 1206.76 L1632.75 1206.94 L1633.00 1206.92 L1633.25 1206.70 L1633.50 1206.30 L1633.75 1205.71 L1634.00 1204.93 L1634.25 1203.98 L1634.50 1202.85 L1634.75 1201.55 L1635.00 1200.08 L1635.25 1198.45 L1635.50 1196.66 L1635.75 1194.72 L1636.00 1192.63 L1636.25 1190.39 L1636.50 1188.02 L1636.75 1185.52 L1637.00 1182.88 L1637.25 1180.12 L1637.50 1177.25 L1637.75 1174.26 L1638.00 1171.16 L1638.25 1167.96 L1638.50 1164.67 L1638.75 1161.28 L1639.00 1157.80 L1639.25 1154.24 L1639.50 1150.60 L1639.75 1146.88 L1640.00 1143.10 L1640.25 1139.25 L1640.50 1135.34 L1640.75 1131.38 L1641.00 1127.36 L1641.25 1123.29 L1641.50 1119.17 L1641.75 1115.02 L1642.00 1110.82 L1642.25 1106.58 L1642.50 1102.32 L1642.75 1098.02 L1643.00 1093.69 L1643.25 1089.33 L1643.50 1084.95 L1643.75 1080.54 L1644.00 1076.11 L1644.25 1071.66 L1644.50 1067.19 L1644.75 1062.69 L1645.00 1058.18 L1645.25 1053.65 L1645.50 1049.10 L1645.75 1044.53 L1646.00 1039.95 L1646.25 1035.34 L1646.50 1030.71 L1646.75 1026.06 L1647.00 1021.39 L1647.25 1016.69 L1647.50 1011.97 L1647.75 1007.22 L1648.00 1002.45 L1648.25 997.64 L1648.50 992.80 L1648.75 987.93 L1649.00 983.02 L1649.25 978.08 L1649.50 973.09 L1649.75 968.06 L1650.00 962.98 L1650.25 957.85 L1650.50 952.67 L1650.75 947.44 L1651.00 942.15 L1651.25 936.80 L1651.50 931.39 L1651.75 925.92 L1652.00 920.37 L1652.25 914.76 L1652.50 909.07 L1652.75 903.30 L1653.00 897.46 L1653.25 891.53 L1653.50 885.52 L1653.75 879.42 L1654.00 873.24 L1654.25 866.96 L1654.50 860.59 L1654.75 854.12 L1655.00 847.56 L1655.25 840.90 L1655.50 834.14 L1655.75 827.28 L1656.00 820.32 L1656.25 813.25 L1656.50 806.08 L1656.75 798.80 L1657.00 791.43 L1657.25 783.95 L1657.50 776.36 L1657.75 768.67 L1658.00 760.88 L1658.25 753.00 L1658.50 745.01 L1658.75 736.93 L1659.00 728.89 L1659.25 720.82 L1659.50 712.70 L1659.75 704.54 L1660.00 696.35 L1660.25 688.12 L1660.50 679.87 L1660.75 671.59 L1661.00 663.29 L1661.25 654.96 L1661.50 646.62 L1661.75 638.26 L1662.00 629.89 L1662.25 621.52 L1662.50 613.14 L1662.75 604.76 L1663.00 596.38 L1663.25 588.01 L1663.50 579.66 L1663.75 571.31 L1664.00 562.99 L1664.25 554.69 L1664.50 546.42 L1664.75 538.18 L1665.00 529.97 L1665.25 521.81 L1665.50 513.69 L1665.75 505.62 L1666.00 497.61 L1666.25 489.65 L1666.50 481.76 L1666.75 473.94 L1667.00 466.19 L1667.25 458.52 L1667.50 450.93 L1667.75 443.43 L1668.00 436.03 L1668.25 428.72 L1668.50 421.52 L1668.75 414.42 L1669.00 407.44 L1669.25 400.57 L1669.50 393.83 L1669.75 387.22 L1670.00 380.73 L1670.25 374.39 L1670.50 368.18 L1670.75 362.13 L1671.00 356.22 L1671.25 350.47 L1671.50 344.87 L1671.75 339.44 L1672.00 334.18 L1672.25 329.09 L1672.50 324.17 L1672.75 319.43 L1673.00 314.87 L1673.25 310.49 L1673.50 306.30 L1673.75 302.31 L1674.00 298.50 L1674.25 294.88 L1674.50 291.47 L1674.75 288.25 L1675.00 285.23 L1675.25 282.41 L1675.50 279.79 L1675.75 277.38 L1676.00 275.16 L1676.25 273.15 L1676.50 271.34 L1676.75 269.74 L1677.00 268.34 L1677.25 267.13 L1677.50 266.13 L1677.75 265.32 L1678.00 264.72 L1678.25 264.30 L1678.50 264.08 L1678.75 264.05 L1679.00 264.20 L1679.25 264.54 L1679.50 265.06 L1679.75 265.76 L1680.00 266.63 L1680.25 267.68 L1680.50 268.89 L1680.75 270.26 L1681.00 271.80 L1681.25 273.49 L1681.50 275.32 L1681.75 277.31 L1682.00 279.43 L1682.25 281.69 L1682.50 284.08 L1682.75 286.60 L1683.00 289.24 L1683.25 292.00 L1683.50 294.87 L1683.75 297.85 L1684.00 300.93 L1684.25 304.11 L1684.50 307.38 L1684.75 310.74 L1685.00 314.19 L1685.25 317.71 L1685.50 321.31 L1685.75 324.98 L1686.00 328.71 L1686.25 332.51 L1686.50 336.37 L1686.75 340.28 L1687.00 344.24 L1687.25 348.25 L1687.33 349.60"/>
</g>
<g shape-rendering="crispEdges">
<rect x="1215" y="77" width="727" height="138" fill="#262626"/>
<rect x="1218" y="81" width="720" height="130" fill="#ffffff"/>
</g>
<g shape-rendering="crispEdges" fill="none" stroke-width="12">
<line x1="1232" y1="116" x2="1397" y2="116" stroke="#ff0000"/>
<line x1="1232" y1="176" x2="1397" y2="176" stroke="#0000ff" stroke-dasharray="12 10"/>
</g>
<text transform="translate(1421.20 136.90) scale(0.9510 1.0000)" font-family="'Liberation Sans', Arial, Helvetica, sans-serif" font-size="45.60" font-weight="bold" font-style="normal" fill="#000000">Lower solution at</text>
<text transform="translate(1794.60 137.30) scale(1.0200 1.0000)" font-family="'DejaVu Serif', 'Liberation Serif', serif" font-size="40.00" font-weight="bold" font-style="italic" fill="#000000" stroke="#000000" stroke-width="0.7">α</text>
<text transform="translate(1828.20 141.10) scale(0.9150 0.9000)" font-family="'Liberation Sans', Arial, Helvetica, sans-serif" font-size="45.60" font-weight="bold" font-style="normal" fill="#000000">=</text>
<text transform="translate(1852.30 137.50) scale(0.9270 1.0000)" font-family="'Liberation Sans', Arial, Helvetica, sans-serif" font-size="48.00" font-weight="bold" font-style="normal" fill="#000000">0.5</text>
<text transform="translate(1433.30 194.00) scale(0.9510 1.0000)" font-family="'Liberation Sans', Arial, Helvetica, sans-serif" font-size="45.60" font-weight="bold" font-style="normal" fill="#000000">Upper solution at</text>
<text transform="translate(1803.50 194.40) scale(1.0200 1.0000)" font-family="'DejaVu Serif', 'Liberation Serif', serif" font-size="40.00" font-weight="bold" font-style="italic" fill="#000000" stroke="#000000" stroke-width="0.7">α</text>
<text transform="translate(1836.21 198.20) scale(0.9150 0.9000)" font-family="'Liberation Sans', Arial, Helvetica, sans-serif" font-size="45.60" font-weight="bold" font-style="normal" fill="#000000">=</text>
<text transform="translate(1861.20 194.60) scale(0.9270 1.0000)" font-family="'Liberation Sans', Arial, Helvetica, sans-serif" font-size="48.00" font-weight="bold" font-style="normal" fill="#000000">0.5</text>
</svg>
</body>
</html>
